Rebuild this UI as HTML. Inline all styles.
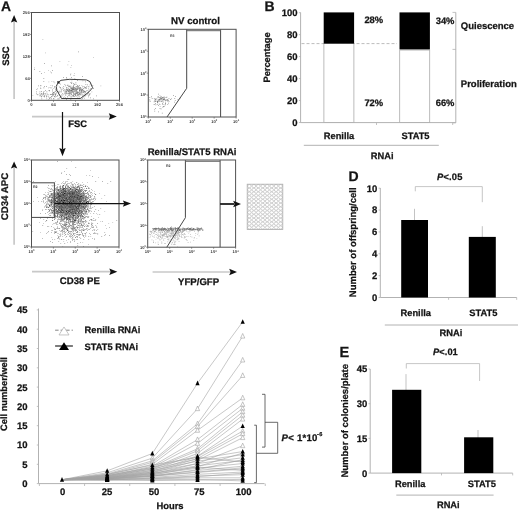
<!DOCTYPE html>
<html><head><meta charset="utf-8"><style>
html,body{margin:0;padding:0;background:#fff;width:520px;height:511px;overflow:hidden}
svg{display:block;filter:blur(0.4px)}
text{font-family:"Liberation Sans", sans-serif;text-rendering:geometricPrecision;stroke:#141414;stroke-width:0.25px}
.sm{stroke:none}
</style></head><body>
<svg width="520" height="511" viewBox="0 0 520 511">
<defs><filter id="bl" x="-5%" y="-5%" width="110%" height="110%"><feGaussianBlur stdDeviation="0.35"/></filter></defs>
<rect width="520" height="511" fill="#fff"/>
<text x="1.0" y="10.9" font-size="13.9" text-anchor="start" font-weight="bold" fill="#141414" stroke="#141414" stroke-width="0.35">A</text>
<g filter="url(#bl)">
<path d="M78 51.5h.7v.7h-.7zM44 63h.7v.7h-.7zM51 65.5h.7v.7h-.7zM34 69h.7v.7h-.7zM52 70h.7v.7h-.7zM39.5 71h.7v.7h-.7zM51 72.5h.7v.7h-.7zM41 73h.7v.7h-.7zM70 74.5h.7v.7h-.7zM82 76h.7v.7h-.7zM63 77h.7v.7h-.7zM66 77h.7v.7h-.7zM71 77h.7v.7h-.7zM43.5 78h.7v.7h-.7zM66.5 78.5h.7v.7h-.7zM74.5 78.5h.7v.7h-.7zM77 80h.7v.7h-.7zM43.5 81h.7v.7h-.7zM57 81h.7v.7h-.7zM53.5 81.5h.7v.7h-.7zM85 81.5h.7v.7h-.7zM70.5 82h.7v.7h-.7zM71.5 82.5h.7v.7h-.7zM75.5 82.5h.7v.7h-.7zM59.5 83h.7v.7h-.7zM71 83h.7v.7h-.7zM73 83.5h.7v.7h-.7zM64.5 84h.7v.7h-.7zM74 84h.7v.7h-.7zM85.5 84h.7v.7h-.7zM87 84.5h.7v.7h-.7zM40.5 85h.7v.7h-.7zM67 85h.7v.7h-.7zM73 85h.7v.7h-.7zM79 85h.7v.7h-.7zM92.5 85h.7v.7h-.7zM38 85.5h.7v.7h-.7zM52 85.5h.7v.7h-.7zM77.5 85.5h.7v.7h-.7zM44 86h.7v.7h-.7zM46 86h.7v.7h-.7zM54 86h.7v.7h-.7zM68.5 86h.7v.7h-.7zM69 86h.7v.7h-.7zM70.5 86h.7v.7h-.7zM73 86h.7v.7h-.7zM76.5 86h.7v.7h-.7zM77.5 86h.7v.7h-.7zM86.5 86h.7v.7h-.7zM73 86.5h.7v.7h-.7zM78 86.5h.7v.7h-.7zM82 86.5h.7v.7h-.7zM84 86.5h.7v.7h-.7zM88.5 86.5h.7v.7h-.7zM60 87h.7v.7h-.7zM73 87h.7v.7h-.7zM74.5 87h.7v.7h-.7zM80 87h.7v.7h-.7zM85 87h.7v.7h-.7zM43.5 87.5h.7v.7h-.7zM50.5 87.5h.7v.7h-.7zM66 87.5h.7v.7h-.7zM70 87.5h.7v.7h-.7zM70.5 87.5h.7v.7h-.7zM72.5 87.5h.7v.7h-.7zM73 87.5h.7v.7h-.7zM77 87.5h.7v.7h-.7zM77.5 87.5h.7v.7h-.7zM78.5 87.5h.7v.7h-.7zM79 87.5h.7v.7h-.7zM84 87.5h.7v.7h-.7zM85 87.5h.7v.7h-.7zM86 87.5h.7v.7h-.7zM40.5 88h.7v.7h-.7zM63 88h.7v.7h-.7zM71 88h.7v.7h-.7zM71.5 88h.7v.7h-.7zM73 88h.7v.7h-.7zM75 88h.7v.7h-.7zM79 88h.7v.7h-.7zM79.5 88h.7v.7h-.7zM83 88h.7v.7h-.7zM93 88h.7v.7h-.7zM60.5 88.5h.7v.7h-.7zM72 88.5h.7v.7h-.7zM73.5 88.5h.7v.7h-.7zM74.5 88.5h.7v.7h-.7zM75 88.5h.7v.7h-.7zM76 88.5h.7v.7h-.7zM76.5 88.5h.7v.7h-.7zM78 88.5h.7v.7h-.7zM88 88.5h.7v.7h-.7zM36.5 89h.7v.7h-.7zM66.5 89h.7v.7h-.7zM69 89h.7v.7h-.7zM72 89h.7v.7h-.7zM72.5 89h.7v.7h-.7zM73 89h.7v.7h-.7zM73.5 89h.7v.7h-.7zM75 89h.7v.7h-.7zM76.5 89h.7v.7h-.7zM77 89h.7v.7h-.7zM79 89h.7v.7h-.7zM80.5 89h.7v.7h-.7zM81.5 89h.7v.7h-.7zM82 89h.7v.7h-.7zM52 89.5h.7v.7h-.7zM61 89.5h.7v.7h-.7zM64 89.5h.7v.7h-.7zM66 89.5h.7v.7h-.7zM67 89.5h.7v.7h-.7zM69 89.5h.7v.7h-.7zM70.5 89.5h.7v.7h-.7zM73 89.5h.7v.7h-.7zM74.5 89.5h.7v.7h-.7zM82 89.5h.7v.7h-.7zM45 90h.7v.7h-.7zM49 90h.7v.7h-.7zM56 90h.7v.7h-.7zM67.5 90h.7v.7h-.7zM69.5 90h.7v.7h-.7zM70 90h.7v.7h-.7zM71 90h.7v.7h-.7zM71.5 90h.7v.7h-.7zM76 90h.7v.7h-.7zM79.5 90h.7v.7h-.7zM81.5 90h.7v.7h-.7zM83.5 90h.7v.7h-.7zM87.5 90h.7v.7h-.7zM49 90.5h.7v.7h-.7zM56 90.5h.7v.7h-.7zM63.5 90.5h.7v.7h-.7zM65 90.5h.7v.7h-.7zM66.5 90.5h.7v.7h-.7zM69.5 90.5h.7v.7h-.7zM71 90.5h.7v.7h-.7zM72.5 90.5h.7v.7h-.7zM75 90.5h.7v.7h-.7zM79 90.5h.7v.7h-.7zM79.5 90.5h.7v.7h-.7zM81 90.5h.7v.7h-.7zM82 90.5h.7v.7h-.7zM83.5 90.5h.7v.7h-.7zM86 90.5h.7v.7h-.7zM41 91h.7v.7h-.7zM55 91h.7v.7h-.7zM65.5 91h.7v.7h-.7zM66 91h.7v.7h-.7zM68.5 91h.7v.7h-.7zM69 91h.7v.7h-.7zM70 91h.7v.7h-.7zM72 91h.7v.7h-.7zM74.5 91h.7v.7h-.7zM76.5 91h.7v.7h-.7zM83.5 91h.7v.7h-.7zM36 91.5h.7v.7h-.7zM46.5 91.5h.7v.7h-.7zM58 91.5h.7v.7h-.7zM60.5 91.5h.7v.7h-.7zM66 91.5h.7v.7h-.7zM67.5 91.5h.7v.7h-.7zM68.5 91.5h.7v.7h-.7zM81 91.5h.7v.7h-.7zM84 91.5h.7v.7h-.7zM84.5 91.5h.7v.7h-.7zM85 91.5h.7v.7h-.7zM88 91.5h.7v.7h-.7zM43 92h.7v.7h-.7zM53 92h.7v.7h-.7zM58.5 92h.7v.7h-.7zM65.5 92h.7v.7h-.7zM66 92h.7v.7h-.7zM72.5 92h.7v.7h-.7zM76.5 92h.7v.7h-.7zM77.5 92h.7v.7h-.7zM78 92h.7v.7h-.7zM80.5 92h.7v.7h-.7zM83.5 92h.7v.7h-.7zM53.5 92.5h.7v.7h-.7zM56 92.5h.7v.7h-.7zM64.5 92.5h.7v.7h-.7zM70 92.5h.7v.7h-.7zM70.5 92.5h.7v.7h-.7zM77 92.5h.7v.7h-.7zM77.5 92.5h.7v.7h-.7zM85 92.5h.7v.7h-.7zM87.5 92.5h.7v.7h-.7zM41.5 93h.7v.7h-.7zM43 93h.7v.7h-.7zM45.5 93h.7v.7h-.7zM55.5 93h.7v.7h-.7zM64.5 93h.7v.7h-.7zM65 93h.7v.7h-.7zM66 93h.7v.7h-.7zM68.5 93h.7v.7h-.7zM69 93h.7v.7h-.7zM70 93h.7v.7h-.7zM75.5 93h.7v.7h-.7zM76.5 93h.7v.7h-.7zM77.5 93h.7v.7h-.7zM36 93.5h.7v.7h-.7zM41.5 93.5h.7v.7h-.7zM43 93.5h.7v.7h-.7zM44.5 93.5h.7v.7h-.7zM52 93.5h.7v.7h-.7zM67.5 93.5h.7v.7h-.7zM69 93.5h.7v.7h-.7zM71 93.5h.7v.7h-.7zM73 93.5h.7v.7h-.7zM74.5 93.5h.7v.7h-.7zM79 93.5h.7v.7h-.7zM87 93.5h.7v.7h-.7zM37.5 94h.7v.7h-.7zM43 94h.7v.7h-.7zM50 94h.7v.7h-.7zM51 94h.7v.7h-.7zM55 94h.7v.7h-.7zM55.5 94h.7v.7h-.7zM71 94h.7v.7h-.7zM73.5 94h.7v.7h-.7zM74 94h.7v.7h-.7zM75 94h.7v.7h-.7zM77.5 94h.7v.7h-.7zM78.5 94h.7v.7h-.7zM40.5 94.5h.7v.7h-.7zM42.5 94.5h.7v.7h-.7zM45.5 94.5h.7v.7h-.7zM52.5 94.5h.7v.7h-.7zM53 94.5h.7v.7h-.7zM53.5 94.5h.7v.7h-.7zM61.5 94.5h.7v.7h-.7zM65 94.5h.7v.7h-.7zM69.5 94.5h.7v.7h-.7zM75 94.5h.7v.7h-.7zM79 94.5h.7v.7h-.7zM80 94.5h.7v.7h-.7zM86.5 94.5h.7v.7h-.7zM89 94.5h.7v.7h-.7zM44 95h.7v.7h-.7zM55 95h.7v.7h-.7zM57 95h.7v.7h-.7zM68.5 95h.7v.7h-.7zM73 95h.7v.7h-.7zM73.5 95h.7v.7h-.7zM77 95h.7v.7h-.7zM84.5 95h.7v.7h-.7zM88.5 95h.7v.7h-.7zM39.5 95.5h.7v.7h-.7zM40 95.5h.7v.7h-.7zM52.5 95.5h.7v.7h-.7zM60.5 95.5h.7v.7h-.7zM72 95.5h.7v.7h-.7zM75 95.5h.7v.7h-.7zM78 95.5h.7v.7h-.7zM85 95.5h.7v.7h-.7zM96 95.5h.7v.7h-.7zM41 96h.7v.7h-.7zM44 96h.7v.7h-.7zM46.5 96h.7v.7h-.7zM51.5 96h.7v.7h-.7zM54 96h.7v.7h-.7zM56.5 96h.7v.7h-.7zM73 96h.7v.7h-.7zM74 96h.7v.7h-.7zM82 96h.7v.7h-.7zM41 96.5h.7v.7h-.7zM44 96.5h.7v.7h-.7zM48 96.5h.7v.7h-.7zM51 96.5h.7v.7h-.7zM54.5 96.5h.7v.7h-.7zM67 96.5h.7v.7h-.7zM70.5 96.5h.7v.7h-.7zM79 96.5h.7v.7h-.7zM88 96.5h.7v.7h-.7zM50 97h.7v.7h-.7zM60 97h.7v.7h-.7zM49 97.5h.7v.7h-.7zM59 97.5h.7v.7h-.7zM63 97.5h.7v.7h-.7zM65 97.5h.7v.7h-.7zM90 97.5h.7v.7h-.7zM49.5 98h.7v.7h-.7zM61.5 98h.7v.7h-.7zM64.5 98h.7v.7h-.7zM70 98h.7v.7h-.7zM72 98h.7v.7h-.7zM76 98h.7v.7h-.7zM82 98h.7v.7h-.7zM53.5 98.5h.7v.7h-.7zM57.5 98.5h.7v.7h-.7zM58.5 98.5h.7v.7h-.7zM93 98.5h.7v.7h-.7zM66 99h.7v.7h-.7zM70.5 99h.7v.7h-.7z" fill="#333" fill-opacity="0.7"/>
<path d="M42.5 39h.7v.7h-.7zM45 52.5h.7v.7h-.7zM93 57h.7v.7h-.7zM59.5 61h.7v.7h-.7zM68.5 61h.7v.7h-.7zM67.5 64.5h.7v.7h-.7zM71 65h.7v.7h-.7zM70.5 67h.7v.7h-.7zM34 67.5h.7v.7h-.7zM48 70h.7v.7h-.7zM50 71.5h.7v.7h-.7zM44 72h.7v.7h-.7zM74 73h.7v.7h-.7zM70.5 73.5h.7v.7h-.7zM73.5 75h.7v.7h-.7zM74 75h.7v.7h-.7zM69.5 79.5h.7v.7h-.7zM71.5 80.5h.7v.7h-.7zM82.5 80.5h.7v.7h-.7zM51.5 81h.7v.7h-.7zM48.5 81.5h.7v.7h-.7zM54.5 82.5h.7v.7h-.7zM73.5 83h.7v.7h-.7zM90.5 83.5h.7v.7h-.7zM60 84h.7v.7h-.7zM75 84h.7v.7h-.7zM76 84h.7v.7h-.7zM67.5 84.5h.7v.7h-.7zM74 84.5h.7v.7h-.7zM89.5 84.5h.7v.7h-.7zM50.5 85h.7v.7h-.7zM65.5 85h.7v.7h-.7zM68 85h.7v.7h-.7zM77 85h.7v.7h-.7zM81.5 85h.7v.7h-.7zM40.5 85.5h.7v.7h-.7zM57.5 85.5h.7v.7h-.7zM65 85.5h.7v.7h-.7zM69 85.5h.7v.7h-.7zM70.5 85.5h.7v.7h-.7zM77 85.5h.7v.7h-.7zM100.5 85.5h.7v.7h-.7zM59 86h.7v.7h-.7zM63 86h.7v.7h-.7zM75.5 86h.7v.7h-.7zM78.5 86h.7v.7h-.7zM83 86h.7v.7h-.7zM88.5 86h.7v.7h-.7zM63.5 86.5h.7v.7h-.7zM68 86.5h.7v.7h-.7zM69.5 86.5h.7v.7h-.7zM72 86.5h.7v.7h-.7zM76 86.5h.7v.7h-.7zM49.5 87h.7v.7h-.7zM54.5 87h.7v.7h-.7zM59 87h.7v.7h-.7zM66 87h.7v.7h-.7zM71 87h.7v.7h-.7zM71.5 87h.7v.7h-.7zM72.5 87h.7v.7h-.7zM79.5 87h.7v.7h-.7zM40 87.5h.7v.7h-.7zM48 87.5h.7v.7h-.7zM51.5 87.5h.7v.7h-.7zM54 87.5h.7v.7h-.7zM60 87.5h.7v.7h-.7zM62 87.5h.7v.7h-.7zM67 87.5h.7v.7h-.7zM73.5 87.5h.7v.7h-.7zM74 87.5h.7v.7h-.7zM74.5 87.5h.7v.7h-.7zM75.5 87.5h.7v.7h-.7zM76.5 87.5h.7v.7h-.7zM80.5 87.5h.7v.7h-.7zM37 88h.7v.7h-.7zM53 88h.7v.7h-.7zM55.5 88h.7v.7h-.7zM66.5 88h.7v.7h-.7zM68 88h.7v.7h-.7zM70.5 88h.7v.7h-.7zM72 88h.7v.7h-.7zM74.5 88h.7v.7h-.7zM77.5 88h.7v.7h-.7zM80 88h.7v.7h-.7zM80.5 88h.7v.7h-.7zM81.5 88h.7v.7h-.7zM85.5 88h.7v.7h-.7zM86 88h.7v.7h-.7zM90 88h.7v.7h-.7zM92.5 88h.7v.7h-.7zM68.5 88.5h.7v.7h-.7zM71.5 88.5h.7v.7h-.7zM72.5 88.5h.7v.7h-.7zM77 88.5h.7v.7h-.7zM77.5 88.5h.7v.7h-.7zM80.5 88.5h.7v.7h-.7zM55 89h.7v.7h-.7zM62.5 89h.7v.7h-.7zM65.5 89h.7v.7h-.7zM67 89h.7v.7h-.7zM68 89h.7v.7h-.7zM68.5 89h.7v.7h-.7zM69.5 89h.7v.7h-.7zM71 89h.7v.7h-.7zM71.5 89h.7v.7h-.7zM74 89h.7v.7h-.7zM76 89h.7v.7h-.7zM79.5 89h.7v.7h-.7zM82.5 89h.7v.7h-.7zM55.5 89.5h.7v.7h-.7zM66.5 89.5h.7v.7h-.7zM69.5 89.5h.7v.7h-.7zM72 89.5h.7v.7h-.7zM72.5 89.5h.7v.7h-.7zM73.5 89.5h.7v.7h-.7zM75.5 89.5h.7v.7h-.7zM76.5 89.5h.7v.7h-.7zM77 89.5h.7v.7h-.7zM80 89.5h.7v.7h-.7zM80.5 89.5h.7v.7h-.7zM81 89.5h.7v.7h-.7zM89 89.5h.7v.7h-.7zM48 90h.7v.7h-.7zM55.5 90h.7v.7h-.7zM63 90h.7v.7h-.7zM67 90h.7v.7h-.7zM68 90h.7v.7h-.7zM68.5 90h.7v.7h-.7zM70.5 90h.7v.7h-.7zM72.5 90h.7v.7h-.7zM74 90h.7v.7h-.7zM74.5 90h.7v.7h-.7zM75.5 90h.7v.7h-.7zM79 90h.7v.7h-.7zM80.5 90h.7v.7h-.7zM81 90h.7v.7h-.7zM52 90.5h.7v.7h-.7zM59.5 90.5h.7v.7h-.7zM61 90.5h.7v.7h-.7zM68 90.5h.7v.7h-.7zM68.5 90.5h.7v.7h-.7zM71.5 90.5h.7v.7h-.7zM76 90.5h.7v.7h-.7zM83 90.5h.7v.7h-.7zM43 91h.7v.7h-.7zM44 91h.7v.7h-.7zM52 91h.7v.7h-.7zM64.5 91h.7v.7h-.7zM71 91h.7v.7h-.7zM73 91h.7v.7h-.7zM73.5 91h.7v.7h-.7zM75.5 91h.7v.7h-.7zM77 91h.7v.7h-.7zM79.5 91h.7v.7h-.7zM81 91h.7v.7h-.7zM84 91h.7v.7h-.7zM84.5 91h.7v.7h-.7zM85 91h.7v.7h-.7zM39 91.5h.7v.7h-.7zM40.5 91.5h.7v.7h-.7zM54 91.5h.7v.7h-.7zM59 91.5h.7v.7h-.7zM59.5 91.5h.7v.7h-.7zM61 91.5h.7v.7h-.7zM68 91.5h.7v.7h-.7zM71 91.5h.7v.7h-.7zM72 91.5h.7v.7h-.7zM73 91.5h.7v.7h-.7zM74 91.5h.7v.7h-.7zM75.5 91.5h.7v.7h-.7zM76.5 91.5h.7v.7h-.7zM78.5 91.5h.7v.7h-.7zM79.5 91.5h.7v.7h-.7zM80.5 91.5h.7v.7h-.7zM82 91.5h.7v.7h-.7zM83 91.5h.7v.7h-.7zM91.5 91.5h.7v.7h-.7zM54 92h.7v.7h-.7zM69 92h.7v.7h-.7zM69.5 92h.7v.7h-.7zM71 92h.7v.7h-.7zM71.5 92h.7v.7h-.7zM73 92h.7v.7h-.7zM73.5 92h.7v.7h-.7zM78.5 92h.7v.7h-.7zM79.5 92h.7v.7h-.7zM81 92h.7v.7h-.7zM83 92h.7v.7h-.7zM52 92.5h.7v.7h-.7zM53 92.5h.7v.7h-.7zM54 92.5h.7v.7h-.7zM69 92.5h.7v.7h-.7zM71.5 92.5h.7v.7h-.7zM73 92.5h.7v.7h-.7zM75 92.5h.7v.7h-.7zM75.5 92.5h.7v.7h-.7zM76 92.5h.7v.7h-.7zM76.5 92.5h.7v.7h-.7zM79 92.5h.7v.7h-.7zM81.5 92.5h.7v.7h-.7zM82 92.5h.7v.7h-.7zM82.5 92.5h.7v.7h-.7zM39 93h.7v.7h-.7zM52.5 93h.7v.7h-.7zM62 93h.7v.7h-.7zM67.5 93h.7v.7h-.7zM68 93h.7v.7h-.7zM73 93h.7v.7h-.7zM74.5 93h.7v.7h-.7zM76 93h.7v.7h-.7zM79 93h.7v.7h-.7zM79.5 93h.7v.7h-.7zM80 93h.7v.7h-.7zM80.5 93h.7v.7h-.7zM81 93h.7v.7h-.7zM88.5 93h.7v.7h-.7zM89.5 93h.7v.7h-.7zM40.5 93.5h.7v.7h-.7zM41 93.5h.7v.7h-.7zM47 93.5h.7v.7h-.7zM53 93.5h.7v.7h-.7zM54.5 93.5h.7v.7h-.7zM58 93.5h.7v.7h-.7zM62.5 93.5h.7v.7h-.7zM66 93.5h.7v.7h-.7zM75.5 93.5h.7v.7h-.7zM76 93.5h.7v.7h-.7zM77.5 93.5h.7v.7h-.7zM78.5 93.5h.7v.7h-.7zM79.5 93.5h.7v.7h-.7zM84 93.5h.7v.7h-.7zM90 93.5h.7v.7h-.7zM47.5 94h.7v.7h-.7zM50.5 94h.7v.7h-.7zM52.5 94h.7v.7h-.7zM53.5 94h.7v.7h-.7zM63.5 94h.7v.7h-.7zM80 94h.7v.7h-.7zM82 94h.7v.7h-.7zM89 94h.7v.7h-.7zM37.5 94.5h.7v.7h-.7zM39.5 94.5h.7v.7h-.7zM41.5 94.5h.7v.7h-.7zM47.5 94.5h.7v.7h-.7zM48.5 94.5h.7v.7h-.7zM52 94.5h.7v.7h-.7zM59 94.5h.7v.7h-.7zM68.5 94.5h.7v.7h-.7zM70.5 94.5h.7v.7h-.7zM71.5 94.5h.7v.7h-.7zM77 94.5h.7v.7h-.7zM78 94.5h.7v.7h-.7zM81 94.5h.7v.7h-.7zM81.5 94.5h.7v.7h-.7zM83.5 94.5h.7v.7h-.7zM88.5 94.5h.7v.7h-.7zM32.5 95h.7v.7h-.7zM46 95h.7v.7h-.7zM65.5 95h.7v.7h-.7zM75 95h.7v.7h-.7zM82.5 95h.7v.7h-.7zM42.5 95.5h.7v.7h-.7zM57.5 95.5h.7v.7h-.7zM62.5 95.5h.7v.7h-.7zM69 95.5h.7v.7h-.7zM72.5 95.5h.7v.7h-.7zM76 95.5h.7v.7h-.7zM83.5 95.5h.7v.7h-.7zM43 96h.7v.7h-.7zM46 96h.7v.7h-.7zM61 96h.7v.7h-.7zM76 96h.7v.7h-.7zM84 96h.7v.7h-.7zM55 96.5h.7v.7h-.7zM64 96.5h.7v.7h-.7zM67.5 96.5h.7v.7h-.7zM71 96.5h.7v.7h-.7zM71.5 96.5h.7v.7h-.7zM77.5 96.5h.7v.7h-.7zM80.5 97h.7v.7h-.7zM83.5 97h.7v.7h-.7zM46 97.5h.7v.7h-.7zM77.5 97.5h.7v.7h-.7zM51 98h.7v.7h-.7zM53 98h.7v.7h-.7zM53.5 98h.7v.7h-.7zM80 98h.7v.7h-.7zM84 98h.7v.7h-.7zM41 98.5h.7v.7h-.7zM41.5 98.5h.7v.7h-.7zM46.5 98.5h.7v.7h-.7zM49 98.5h.7v.7h-.7zM51 98.5h.7v.7h-.7zM48 99h.7v.7h-.7zM81.5 99h.7v.7h-.7z" fill="#333" fill-opacity="0.42"/>
</g>
<rect x="31.5" y="12.5" width="88.0" height="87.8" fill="none" stroke="#505050" stroke-width="1.0" />
<line x1="29.9" y1="100.3" x2="31.5" y2="100.3" stroke="#555" stroke-width="0.6" />
<text x="29.7" y="101.7" font-size="4.1" text-anchor="end" font-weight="bold" fill="#3a3a3a" class="sm">0</text>
<line x1="29.9" y1="78.35" x2="31.5" y2="78.35" stroke="#555" stroke-width="0.6" />
<text x="29.7" y="79.75" font-size="4.1" text-anchor="end" font-weight="bold" fill="#3a3a3a" class="sm">64</text>
<line x1="29.9" y1="56.4" x2="31.5" y2="56.4" stroke="#555" stroke-width="0.6" />
<text x="29.7" y="57.8" font-size="4.1" text-anchor="end" font-weight="bold" fill="#3a3a3a" class="sm">128</text>
<line x1="29.9" y1="34.45" x2="31.5" y2="34.45" stroke="#555" stroke-width="0.6" />
<text x="29.7" y="35.85" font-size="4.1" text-anchor="end" font-weight="bold" fill="#3a3a3a" class="sm">192</text>
<line x1="29.9" y1="12.5" x2="31.5" y2="12.5" stroke="#555" stroke-width="0.6" />
<text x="29.7" y="13.9" font-size="4.1" text-anchor="end" font-weight="bold" fill="#3a3a3a" class="sm">256</text>
<line x1="31.5" y1="100.3" x2="31.5" y2="101.89999999999999" stroke="#555" stroke-width="0.6" />
<text x="31.5" y="105.89999999999999" font-size="4.1" text-anchor="middle" font-weight="bold" fill="#3a3a3a" class="sm">0</text>
<line x1="53.5" y1="100.3" x2="53.5" y2="101.89999999999999" stroke="#555" stroke-width="0.6" />
<text x="53.5" y="105.89999999999999" font-size="4.1" text-anchor="middle" font-weight="bold" fill="#3a3a3a" class="sm">64</text>
<line x1="75.5" y1="100.3" x2="75.5" y2="101.89999999999999" stroke="#555" stroke-width="0.6" />
<text x="75.5" y="105.89999999999999" font-size="4.1" text-anchor="middle" font-weight="bold" fill="#3a3a3a" class="sm">128</text>
<line x1="97.5" y1="100.3" x2="97.5" y2="101.89999999999999" stroke="#555" stroke-width="0.6" />
<text x="97.5" y="105.89999999999999" font-size="4.1" text-anchor="middle" font-weight="bold" fill="#3a3a3a" class="sm">192</text>
<line x1="119.5" y1="100.3" x2="119.5" y2="101.89999999999999" stroke="#555" stroke-width="0.6" />
<text x="119.5" y="105.89999999999999" font-size="4.1" text-anchor="middle" font-weight="bold" fill="#3a3a3a" class="sm">256</text>
<polygon points="58.30,82.30 61.00,80.30 69.70,79.30 86.50,79.90 89.90,81.60 92.60,87.70 89.20,91.70 80.50,98.50 61.60,98.50 56.90,90.40 56.20,86.30" fill="none" stroke="#404040" stroke-width="1.0" stroke-linejoin="miter"/>
<rect x="57.4" y="81.3" width="2.2" height="2.2" fill="#222" stroke="none" stroke-width="1" />
<line x1="14.1" y1="22" x2="14.1" y2="99" stroke="#c8c8c8" stroke-width="1.7" />
<polygon points="14.10,15.00 17.30,22.60 14.10,21.30 10.90,22.60" fill="#111" stroke="none" stroke-width="1" stroke-linejoin="miter"/>
<text x="0" y="0" font-size="9.4" text-anchor="middle" font-weight="bold" fill="#141414" transform="translate(8.7,56.2) rotate(-90)">SSC</text>
<line x1="32" y1="116.6" x2="111" y2="116.6" stroke="#c8c8c8" stroke-width="1.7" />
<polygon points="116.80,116.50 108.80,119.80 110.10,116.50 108.80,113.20" fill="#111" stroke="none" stroke-width="1" stroke-linejoin="miter"/>
<text x="68.2" y="127.3" font-size="9.4" text-anchor="start" font-weight="bold" fill="#141414" >FSC</text>
<line x1="62.5" y1="112" x2="62.5" y2="149" stroke="#111" stroke-width="1.2" />
<polygon points="62.50,156.30 59.30,148.00 62.50,149.30 65.70,148.00" fill="#111" stroke="none" stroke-width="1" stroke-linejoin="miter"/>
<text x="195.5" y="23.9" font-size="9.7" text-anchor="middle" font-weight="bold" fill="#141414" >NV control</text>
<g filter="url(#bl)">
<path d="M156.6 100.7h0.7v0.7h-0.7zM168.2 102.7h0.7v0.7h-0.7zM167.6 98.9h0.7v0.7h-0.7zM163.2 98.7h0.7v0.7h-0.7zM154.7 99.1h0.7v0.7h-0.7zM166.4 99.6h0.7v0.7h-0.7zM159.9 97.0h0.7v0.7h-0.7zM161.0 98.1h0.7v0.7h-0.7zM161.7 100.7h0.7v0.7h-0.7zM149.7 100.7h0.7v0.7h-0.7zM153.9 98.0h0.7v0.7h-0.7zM155.1 103.1h0.7v0.7h-0.7zM165.0 100.4h0.7v0.7h-0.7zM157.7 96.2h0.7v0.7h-0.7zM159.5 100.3h0.7v0.7h-0.7zM161.1 101.3h0.7v0.7h-0.7zM159.7 104.4h0.7v0.7h-0.7zM164.9 104.2h0.7v0.7h-0.7zM162.8 98.7h0.7v0.7h-0.7zM157.1 102.1h0.7v0.7h-0.7zM166.9 99.3h0.7v0.7h-0.7zM163.6 98.5h0.7v0.7h-0.7zM159.3 99.0h0.7v0.7h-0.7zM151.8 98.0h0.7v0.7h-0.7zM161.7 99.8h0.7v0.7h-0.7zM167.1 100.4h0.7v0.7h-0.7zM163.7 99.4h0.7v0.7h-0.7zM149.8 101.0h0.7v0.7h-0.7zM156.9 101.3h0.7v0.7h-0.7zM160.0 98.8h0.7v0.7h-0.7zM158.7 99.1h0.7v0.7h-0.7zM151.3 96.6h0.7v0.7h-0.7zM167.7 99.9h0.7v0.7h-0.7zM159.2 98.9h0.7v0.7h-0.7zM159.6 108.1h0.7v0.7h-0.7zM164.1 99.2h0.7v0.7h-0.7zM158.0 93.8h0.7v0.7h-0.7zM162.1 103.0h0.7v0.7h-0.7zM166.3 99.6h0.7v0.7h-0.7zM158.3 96.8h0.7v0.7h-0.7zM161.8 98.4h0.7v0.7h-0.7zM155.5 104.5h0.7v0.7h-0.7zM156.6 98.7h0.7v0.7h-0.7zM160.6 99.4h0.7v0.7h-0.7zM162.9 97.1h0.7v0.7h-0.7zM158.2 100.6h0.7v0.7h-0.7zM157.2 100.8h0.7v0.7h-0.7zM167.7 100.7h0.7v0.7h-0.7zM168.8 101.4h0.7v0.7h-0.7zM170.4 99.1h0.7v0.7h-0.7zM163.7 96.4h0.7v0.7h-0.7zM160.5 97.7h0.7v0.7h-0.7zM161.1 96.8h0.7v0.7h-0.7zM163.1 106.0h0.7v0.7h-0.7zM157.4 101.5h0.7v0.7h-0.7zM164.7 97.2h0.7v0.7h-0.7zM159.9 98.3h0.7v0.7h-0.7zM163.7 97.6h0.7v0.7h-0.7zM174.9 100.1h0.7v0.7h-0.7zM167.4 104.4h0.7v0.7h-0.7zM168.6 98.3h0.7v0.7h-0.7zM163.3 99.3h0.7v0.7h-0.7zM162.8 101.8h0.7v0.7h-0.7zM151.1 96.4h0.7v0.7h-0.7zM159.8 100.8h0.7v0.7h-0.7zM158.9 99.3h0.7v0.7h-0.7zM167.2 100.5h0.7v0.7h-0.7zM160.9 98.7h0.7v0.7h-0.7zM153.8 101.6h0.7v0.7h-0.7zM162.0 96.9h0.7v0.7h-0.7zM163.9 98.2h0.7v0.7h-0.7zM159.6 95.4h0.7v0.7h-0.7zM165.9 96.9h0.7v0.7h-0.7zM162.8 99.8h0.7v0.7h-0.7zM158.3 99.6h0.7v0.7h-0.7zM160.0 98.9h0.7v0.7h-0.7zM162.2 97.6h0.7v0.7h-0.7zM164.7 99.2h0.7v0.7h-0.7zM155.1 101.2h0.7v0.7h-0.7zM159.1 100.8h0.7v0.7h-0.7zM149.4 99.6h0.7v0.7h-0.7zM177.7 99.0h0.7v0.7h-0.7zM166.5 96.8h0.7v0.7h-0.7zM155.1 99.8h0.7v0.7h-0.7zM163.1 98.8h0.7v0.7h-0.7zM157.4 97.4h0.7v0.7h-0.7zM158.9 103.8h0.7v0.7h-0.7zM161.1 98.4h0.7v0.7h-0.7zM159.7 97.0h0.7v0.7h-0.7zM154.1 100.6h0.7v0.7h-0.7zM168.2 99.9h0.7v0.7h-0.7zM154.0 104.2h0.7v0.7h-0.7zM162.6 104.2h0.7v0.7h-0.7zM160.6 96.0h0.7v0.7h-0.7zM162.5 98.9h0.7v0.7h-0.7zM155.6 98.2h0.7v0.7h-0.7zM159.2 97.4h0.7v0.7h-0.7zM164.6 99.8h0.7v0.7h-0.7zM158.9 98.8h0.7v0.7h-0.7zM166.0 99.9h0.7v0.7h-0.7zM155.2 100.9h0.7v0.7h-0.7zM170.4 99.2h0.7v0.7h-0.7zM156.9 104.0h0.7v0.7h-0.7zM174.4 98.3h0.7v0.7h-0.7zM149.5 97.1h0.7v0.7h-0.7zM171.3 97.9h0.7v0.7h-0.7zM165.3 100.5h0.7v0.7h-0.7zM162.6 103.9h0.7v0.7h-0.7zM163.8 106.3h0.7v0.7h-0.7zM164.7 104.6h0.7v0.7h-0.7zM179.7 97.8h0.7v0.7h-0.7zM154.0 108.9h0.7v0.7h-0.7zM153.7 104.2h0.7v0.7h-0.7zM155.2 108.2h0.7v0.7h-0.7zM162.5 106.8h0.7v0.7h-0.7zM157.4 102.6h0.7v0.7h-0.7zM165.2 103.3h0.7v0.7h-0.7zM162.7 101.4h0.7v0.7h-0.7zM161.9 112.8h0.7v0.7h-0.7zM158.1 100.8h0.7v0.7h-0.7zM167.2 104.4h0.7v0.7h-0.7zM158.1 111.5h0.7v0.7h-0.7zM174.2 101.7h0.7v0.7h-0.7zM175.2 96.3h0.7v0.7h-0.7zM173.2 95.1h0.7v0.7h-0.7zM165.1 102.5h0.7v0.7h-0.7zM159.8 106.4h0.7v0.7h-0.7zM155.5 99.5h0.7v0.7h-0.7zM154.4 110.8h0.7v0.7h-0.7zM158.1 105.0h0.7v0.7h-0.7zM160.7 108.5h0.7v0.7h-0.7zM155.0 98.9h0.7v0.7h-0.7z" fill="#333" fill-opacity="0.7"/>
</g>
<rect x="148.3" y="29.3" width="87.79999999999998" height="87.7" fill="none" stroke="#505050" stroke-width="1.0" />
<line x1="146.70000000000002" y1="117.0" x2="148.3" y2="117.0" stroke="#555" stroke-width="0.6" />
<text x="146.5" y="118.4" font-size="4.1" text-anchor="end" font-weight="bold" fill="#3a3a3a" class="sm">10<tspan font-size="2.6" dy="-1.3">0</tspan></text>
<line x1="146.70000000000002" y1="95.075" x2="148.3" y2="95.075" stroke="#555" stroke-width="0.6" />
<text x="146.5" y="96.47500000000001" font-size="4.1" text-anchor="end" font-weight="bold" fill="#3a3a3a" class="sm">10<tspan font-size="2.6" dy="-1.3">1</tspan></text>
<line x1="146.70000000000002" y1="73.15" x2="148.3" y2="73.15" stroke="#555" stroke-width="0.6" />
<text x="146.5" y="74.55000000000001" font-size="4.1" text-anchor="end" font-weight="bold" fill="#3a3a3a" class="sm">10<tspan font-size="2.6" dy="-1.3">2</tspan></text>
<line x1="146.70000000000002" y1="51.224999999999994" x2="148.3" y2="51.224999999999994" stroke="#555" stroke-width="0.6" />
<text x="146.5" y="52.62499999999999" font-size="4.1" text-anchor="end" font-weight="bold" fill="#3a3a3a" class="sm">10<tspan font-size="2.6" dy="-1.3">3</tspan></text>
<line x1="146.70000000000002" y1="29.299999999999997" x2="148.3" y2="29.299999999999997" stroke="#555" stroke-width="0.6" />
<text x="146.5" y="30.699999999999996" font-size="4.1" text-anchor="end" font-weight="bold" fill="#3a3a3a" class="sm">10<tspan font-size="2.6" dy="-1.3">4</tspan></text>
<line x1="148.3" y1="117" x2="148.3" y2="118.6" stroke="#555" stroke-width="0.6" />
<text x="148.3" y="122.6" font-size="4.1" text-anchor="middle" font-weight="bold" fill="#3a3a3a" class="sm">10<tspan font-size="2.6" dy="-1.3">0</tspan></text>
<line x1="170.25" y1="117" x2="170.25" y2="118.6" stroke="#555" stroke-width="0.6" />
<text x="170.25" y="122.6" font-size="4.1" text-anchor="middle" font-weight="bold" fill="#3a3a3a" class="sm">10<tspan font-size="2.6" dy="-1.3">1</tspan></text>
<line x1="192.2" y1="117" x2="192.2" y2="118.6" stroke="#555" stroke-width="0.6" />
<text x="192.2" y="122.6" font-size="4.1" text-anchor="middle" font-weight="bold" fill="#3a3a3a" class="sm">10<tspan font-size="2.6" dy="-1.3">2</tspan></text>
<line x1="214.15" y1="117" x2="214.15" y2="118.6" stroke="#555" stroke-width="0.6" />
<text x="214.15" y="122.6" font-size="4.1" text-anchor="middle" font-weight="bold" fill="#3a3a3a" class="sm">10<tspan font-size="2.6" dy="-1.3">3</tspan></text>
<line x1="236.1" y1="117" x2="236.1" y2="118.6" stroke="#555" stroke-width="0.6" />
<text x="236.1" y="122.6" font-size="4.1" text-anchor="middle" font-weight="bold" fill="#3a3a3a" class="sm">10<tspan font-size="2.6" dy="-1.3">4</tspan></text>
<polyline points="186.70,29.50 186.70,88.30 167.00,117.00" fill="none" stroke="#484848" stroke-width="1.0" stroke-linejoin="miter"/>
<line x1="220.6" y1="29.5" x2="220.6" y2="117" stroke="#484848" stroke-width="1.0" />
<line x1="186.7" y1="30.7" x2="220.6" y2="30.7" stroke="#666" stroke-width="1.0" />
<text x="170" y="37" font-size="3.6" text-anchor="start" font-weight="bold" fill="#444" class="sm">R3</text>
<g filter="url(#bl)">
<path d="M57 161h.6v.6h-.6zM75.5 167h.6v.6h-.6zM61 173.5h.6v.6h-.6zM66 174.5h.6v.6h-.6zM70 175.5h.6v.6h-.6zM92 176h.6v.6h-.6zM68.5 179.5h.6v.6h-.6zM110.5 181h.6v.6h-.6zM33 181.5h.6v.6h-.6zM95.5 181.5h.6v.6h-.6zM102 181.5h.6v.6h-.6zM65 182h.6v.6h-.6zM67.5 183h.6v.6h-.6zM78.5 183h.6v.6h-.6zM83.5 184h.6v.6h-.6zM66 184.5h.6v.6h-.6zM72.5 184.5h.6v.6h-.6zM77 184.5h.6v.6h-.6zM48 185h.6v.6h-.6zM66 185h.6v.6h-.6zM81.5 185h.6v.6h-.6zM85.5 185h.6v.6h-.6zM72 185.5h.6v.6h-.6zM57 186h.6v.6h-.6zM62 186h.6v.6h-.6zM77.5 186h.6v.6h-.6zM78.5 186h.6v.6h-.6zM83.5 186h.6v.6h-.6zM60 186.5h.6v.6h-.6zM62 186.5h.6v.6h-.6zM67.5 186.5h.6v.6h-.6zM78 186.5h.6v.6h-.6zM85 186.5h.6v.6h-.6zM85.5 186.5h.6v.6h-.6zM87 186.5h.6v.6h-.6zM56 187h.6v.6h-.6zM57.5 187h.6v.6h-.6zM63 187h.6v.6h-.6zM68.5 187h.6v.6h-.6zM69 187h.6v.6h-.6zM77.5 187h.6v.6h-.6zM79 187h.6v.6h-.6zM81.5 187h.6v.6h-.6zM59.5 187.5h.6v.6h-.6zM60 187.5h.6v.6h-.6zM62 187.5h.6v.6h-.6zM65.5 187.5h.6v.6h-.6zM67 187.5h.6v.6h-.6zM69 187.5h.6v.6h-.6zM72.5 187.5h.6v.6h-.6zM74 187.5h.6v.6h-.6zM76.5 187.5h.6v.6h-.6zM77 187.5h.6v.6h-.6zM88.5 187.5h.6v.6h-.6zM51 188h.6v.6h-.6zM60 188h.6v.6h-.6zM61.5 188h.6v.6h-.6zM62 188h.6v.6h-.6zM63.5 188h.6v.6h-.6zM64 188h.6v.6h-.6zM69.5 188h.6v.6h-.6zM70.5 188h.6v.6h-.6zM75 188h.6v.6h-.6zM76 188h.6v.6h-.6zM79 188h.6v.6h-.6zM56.5 188.5h.6v.6h-.6zM60.5 188.5h.6v.6h-.6zM63 188.5h.6v.6h-.6zM63.5 188.5h.6v.6h-.6zM65.5 188.5h.6v.6h-.6zM67.5 188.5h.6v.6h-.6zM68 188.5h.6v.6h-.6zM70 188.5h.6v.6h-.6zM70.5 188.5h.6v.6h-.6zM71 188.5h.6v.6h-.6zM73 188.5h.6v.6h-.6zM86 188.5h.6v.6h-.6zM88.5 188.5h.6v.6h-.6zM56.5 189h.6v.6h-.6zM58 189h.6v.6h-.6zM60 189h.6v.6h-.6zM62 189h.6v.6h-.6zM63 189h.6v.6h-.6zM65 189h.6v.6h-.6zM66.5 189h.6v.6h-.6zM68.5 189h.6v.6h-.6zM70.5 189h.6v.6h-.6zM76 189h.6v.6h-.6zM76.5 189h.6v.6h-.6zM77.5 189h.6v.6h-.6zM79.5 189h.6v.6h-.6zM80.5 189h.6v.6h-.6zM82.5 189h.6v.6h-.6zM50.5 189.5h.6v.6h-.6zM52.5 189.5h.6v.6h-.6zM54.5 189.5h.6v.6h-.6zM58.5 189.5h.6v.6h-.6zM59 189.5h.6v.6h-.6zM62 189.5h.6v.6h-.6zM63 189.5h.6v.6h-.6zM63.5 189.5h.6v.6h-.6zM65.5 189.5h.6v.6h-.6zM70 189.5h.6v.6h-.6zM72 189.5h.6v.6h-.6zM73.5 189.5h.6v.6h-.6zM75 189.5h.6v.6h-.6zM76.5 189.5h.6v.6h-.6zM77 189.5h.6v.6h-.6zM79.5 189.5h.6v.6h-.6zM81 189.5h.6v.6h-.6zM57.5 190h.6v.6h-.6zM59 190h.6v.6h-.6zM60.5 190h.6v.6h-.6zM66.5 190h.6v.6h-.6zM67 190h.6v.6h-.6zM69 190h.6v.6h-.6zM72.5 190h.6v.6h-.6zM73 190h.6v.6h-.6zM75 190h.6v.6h-.6zM78 190h.6v.6h-.6zM80 190h.6v.6h-.6zM58 190.5h.6v.6h-.6zM58.5 190.5h.6v.6h-.6zM60 190.5h.6v.6h-.6zM61.5 190.5h.6v.6h-.6zM64 190.5h.6v.6h-.6zM64.5 190.5h.6v.6h-.6zM65 190.5h.6v.6h-.6zM69 190.5h.6v.6h-.6zM71.5 190.5h.6v.6h-.6zM74.5 190.5h.6v.6h-.6zM75 190.5h.6v.6h-.6zM75.5 190.5h.6v.6h-.6zM77 190.5h.6v.6h-.6zM78.5 190.5h.6v.6h-.6zM79 190.5h.6v.6h-.6zM80.5 190.5h.6v.6h-.6zM84 190.5h.6v.6h-.6zM85 190.5h.6v.6h-.6zM86.5 190.5h.6v.6h-.6zM89 190.5h.6v.6h-.6zM62 191h.6v.6h-.6zM63.5 191h.6v.6h-.6zM65 191h.6v.6h-.6zM70.5 191h.6v.6h-.6zM74 191h.6v.6h-.6zM76.5 191h.6v.6h-.6zM78.5 191h.6v.6h-.6zM80.5 191h.6v.6h-.6zM49.5 191.5h.6v.6h-.6zM50.5 191.5h.6v.6h-.6zM58 191.5h.6v.6h-.6zM60 191.5h.6v.6h-.6zM64 191.5h.6v.6h-.6zM64.5 191.5h.6v.6h-.6zM65 191.5h.6v.6h-.6zM65.5 191.5h.6v.6h-.6zM66 191.5h.6v.6h-.6zM66.5 191.5h.6v.6h-.6zM68 191.5h.6v.6h-.6zM69.5 191.5h.6v.6h-.6zM70.5 191.5h.6v.6h-.6zM71 191.5h.6v.6h-.6zM72.5 191.5h.6v.6h-.6zM73 191.5h.6v.6h-.6zM75 191.5h.6v.6h-.6zM76 191.5h.6v.6h-.6zM78 191.5h.6v.6h-.6zM79.5 191.5h.6v.6h-.6zM81.5 191.5h.6v.6h-.6zM83 191.5h.6v.6h-.6zM57 192h.6v.6h-.6zM57.5 192h.6v.6h-.6zM61.5 192h.6v.6h-.6zM63.5 192h.6v.6h-.6zM69.5 192h.6v.6h-.6zM74 192h.6v.6h-.6zM74.5 192h.6v.6h-.6zM77.5 192h.6v.6h-.6zM79 192h.6v.6h-.6zM80.5 192h.6v.6h-.6zM91 192h.6v.6h-.6zM58 192.5h.6v.6h-.6zM59 192.5h.6v.6h-.6zM61 192.5h.6v.6h-.6zM61.5 192.5h.6v.6h-.6zM63.5 192.5h.6v.6h-.6zM64.5 192.5h.6v.6h-.6zM65 192.5h.6v.6h-.6zM66.5 192.5h.6v.6h-.6zM67 192.5h.6v.6h-.6zM67.5 192.5h.6v.6h-.6zM69 192.5h.6v.6h-.6zM70.5 192.5h.6v.6h-.6zM71 192.5h.6v.6h-.6zM72.5 192.5h.6v.6h-.6zM73 192.5h.6v.6h-.6zM73.5 192.5h.6v.6h-.6zM75.5 192.5h.6v.6h-.6zM76.5 192.5h.6v.6h-.6zM83 192.5h.6v.6h-.6zM90.5 192.5h.6v.6h-.6zM51.5 193h.6v.6h-.6zM57 193h.6v.6h-.6zM58.5 193h.6v.6h-.6zM60 193h.6v.6h-.6zM60.5 193h.6v.6h-.6zM62 193h.6v.6h-.6zM64 193h.6v.6h-.6zM64.5 193h.6v.6h-.6zM66 193h.6v.6h-.6zM67.5 193h.6v.6h-.6zM69.5 193h.6v.6h-.6zM70.5 193h.6v.6h-.6zM71 193h.6v.6h-.6zM71.5 193h.6v.6h-.6zM72.5 193h.6v.6h-.6zM76.5 193h.6v.6h-.6zM77 193h.6v.6h-.6zM78 193h.6v.6h-.6zM80.5 193h.6v.6h-.6zM81 193h.6v.6h-.6zM51 193.5h.6v.6h-.6zM54.5 193.5h.6v.6h-.6zM55.5 193.5h.6v.6h-.6zM57.5 193.5h.6v.6h-.6zM58 193.5h.6v.6h-.6zM64 193.5h.6v.6h-.6zM64.5 193.5h.6v.6h-.6zM67.5 193.5h.6v.6h-.6zM68 193.5h.6v.6h-.6zM68.5 193.5h.6v.6h-.6zM69 193.5h.6v.6h-.6zM69.5 193.5h.6v.6h-.6zM72 193.5h.6v.6h-.6zM72.5 193.5h.6v.6h-.6zM76 193.5h.6v.6h-.6zM77.5 193.5h.6v.6h-.6zM78 193.5h.6v.6h-.6zM79 193.5h.6v.6h-.6zM81.5 193.5h.6v.6h-.6zM85.5 193.5h.6v.6h-.6zM86 193.5h.6v.6h-.6zM88 193.5h.6v.6h-.6zM48 194h.6v.6h-.6zM53 194h.6v.6h-.6zM54 194h.6v.6h-.6zM55 194h.6v.6h-.6zM56.5 194h.6v.6h-.6zM57 194h.6v.6h-.6zM58 194h.6v.6h-.6zM62 194h.6v.6h-.6zM63 194h.6v.6h-.6zM68 194h.6v.6h-.6zM69 194h.6v.6h-.6zM70.5 194h.6v.6h-.6zM71 194h.6v.6h-.6zM72.5 194h.6v.6h-.6zM74 194h.6v.6h-.6zM74.5 194h.6v.6h-.6zM75.5 194h.6v.6h-.6zM76 194h.6v.6h-.6zM95 194h.6v.6h-.6zM44.5 194.5h.6v.6h-.6zM51.5 194.5h.6v.6h-.6zM54.5 194.5h.6v.6h-.6zM56.5 194.5h.6v.6h-.6zM57.5 194.5h.6v.6h-.6zM59 194.5h.6v.6h-.6zM59.5 194.5h.6v.6h-.6zM60.5 194.5h.6v.6h-.6zM61 194.5h.6v.6h-.6zM62 194.5h.6v.6h-.6zM63 194.5h.6v.6h-.6zM63.5 194.5h.6v.6h-.6zM66.5 194.5h.6v.6h-.6zM69.5 194.5h.6v.6h-.6zM72 194.5h.6v.6h-.6zM73 194.5h.6v.6h-.6zM73.5 194.5h.6v.6h-.6zM76.5 194.5h.6v.6h-.6zM77 194.5h.6v.6h-.6zM77.5 194.5h.6v.6h-.6zM78.5 194.5h.6v.6h-.6zM79 194.5h.6v.6h-.6zM81 194.5h.6v.6h-.6zM83 194.5h.6v.6h-.6zM95.5 194.5h.6v.6h-.6zM52.5 195h.6v.6h-.6zM55.5 195h.6v.6h-.6zM59 195h.6v.6h-.6zM60.5 195h.6v.6h-.6zM62 195h.6v.6h-.6zM63.5 195h.6v.6h-.6zM64 195h.6v.6h-.6zM65.5 195h.6v.6h-.6zM66.5 195h.6v.6h-.6zM69 195h.6v.6h-.6zM70 195h.6v.6h-.6zM71.5 195h.6v.6h-.6zM72 195h.6v.6h-.6zM73.5 195h.6v.6h-.6zM77 195h.6v.6h-.6zM78.5 195h.6v.6h-.6zM79 195h.6v.6h-.6zM81.5 195h.6v.6h-.6zM82.5 195h.6v.6h-.6zM50.5 195.5h.6v.6h-.6zM53 195.5h.6v.6h-.6zM54 195.5h.6v.6h-.6zM57 195.5h.6v.6h-.6zM58 195.5h.6v.6h-.6zM58.5 195.5h.6v.6h-.6zM59 195.5h.6v.6h-.6zM59.5 195.5h.6v.6h-.6zM60 195.5h.6v.6h-.6zM61 195.5h.6v.6h-.6zM63 195.5h.6v.6h-.6zM63.5 195.5h.6v.6h-.6zM65.5 195.5h.6v.6h-.6zM67 195.5h.6v.6h-.6zM67.5 195.5h.6v.6h-.6zM71.5 195.5h.6v.6h-.6zM74.5 195.5h.6v.6h-.6zM75 195.5h.6v.6h-.6zM77 195.5h.6v.6h-.6zM78 195.5h.6v.6h-.6zM78.5 195.5h.6v.6h-.6zM82 195.5h.6v.6h-.6zM83.5 195.5h.6v.6h-.6zM86 195.5h.6v.6h-.6zM89.5 195.5h.6v.6h-.6zM90 195.5h.6v.6h-.6zM46.5 196h.6v.6h-.6zM53 196h.6v.6h-.6zM59.5 196h.6v.6h-.6zM60 196h.6v.6h-.6zM60.5 196h.6v.6h-.6zM61.5 196h.6v.6h-.6zM64 196h.6v.6h-.6zM65 196h.6v.6h-.6zM67.5 196h.6v.6h-.6zM68 196h.6v.6h-.6zM69 196h.6v.6h-.6zM70 196h.6v.6h-.6zM70.5 196h.6v.6h-.6zM71 196h.6v.6h-.6zM72 196h.6v.6h-.6zM73.5 196h.6v.6h-.6zM74.5 196h.6v.6h-.6zM75 196h.6v.6h-.6zM78.5 196h.6v.6h-.6zM81 196h.6v.6h-.6zM49 196.5h.6v.6h-.6zM50 196.5h.6v.6h-.6zM55 196.5h.6v.6h-.6zM56 196.5h.6v.6h-.6zM58 196.5h.6v.6h-.6zM59 196.5h.6v.6h-.6zM59.5 196.5h.6v.6h-.6zM60.5 196.5h.6v.6h-.6zM63.5 196.5h.6v.6h-.6zM64 196.5h.6v.6h-.6zM70 196.5h.6v.6h-.6zM71.5 196.5h.6v.6h-.6zM73 196.5h.6v.6h-.6zM74 196.5h.6v.6h-.6zM74.5 196.5h.6v.6h-.6zM77.5 196.5h.6v.6h-.6zM78.5 196.5h.6v.6h-.6zM79.5 196.5h.6v.6h-.6zM81 196.5h.6v.6h-.6zM81.5 196.5h.6v.6h-.6zM85.5 196.5h.6v.6h-.6zM86 196.5h.6v.6h-.6zM43.5 197h.6v.6h-.6zM50.5 197h.6v.6h-.6zM52 197h.6v.6h-.6zM52.5 197h.6v.6h-.6zM53 197h.6v.6h-.6zM58.5 197h.6v.6h-.6zM61.5 197h.6v.6h-.6zM63.5 197h.6v.6h-.6zM65 197h.6v.6h-.6zM66 197h.6v.6h-.6zM69 197h.6v.6h-.6zM69.5 197h.6v.6h-.6zM70.5 197h.6v.6h-.6zM72 197h.6v.6h-.6zM72.5 197h.6v.6h-.6zM74 197h.6v.6h-.6zM75.5 197h.6v.6h-.6zM79 197h.6v.6h-.6zM82.5 197h.6v.6h-.6zM83.5 197h.6v.6h-.6zM84 197h.6v.6h-.6zM85.5 197h.6v.6h-.6zM86 197h.6v.6h-.6zM88.5 197h.6v.6h-.6zM90 197h.6v.6h-.6zM48 197.5h.6v.6h-.6zM49 197.5h.6v.6h-.6zM54.5 197.5h.6v.6h-.6zM57 197.5h.6v.6h-.6zM57.5 197.5h.6v.6h-.6zM58.5 197.5h.6v.6h-.6zM61.5 197.5h.6v.6h-.6zM62 197.5h.6v.6h-.6zM62.5 197.5h.6v.6h-.6zM63 197.5h.6v.6h-.6zM64.5 197.5h.6v.6h-.6zM66.5 197.5h.6v.6h-.6zM68.5 197.5h.6v.6h-.6zM69.5 197.5h.6v.6h-.6zM71 197.5h.6v.6h-.6zM74 197.5h.6v.6h-.6zM75 197.5h.6v.6h-.6zM76.5 197.5h.6v.6h-.6zM79 197.5h.6v.6h-.6zM82 197.5h.6v.6h-.6zM86 197.5h.6v.6h-.6zM43 198h.6v.6h-.6zM45.5 198h.6v.6h-.6zM54 198h.6v.6h-.6zM55.5 198h.6v.6h-.6zM58 198h.6v.6h-.6zM59.5 198h.6v.6h-.6zM64 198h.6v.6h-.6zM65.5 198h.6v.6h-.6zM66.5 198h.6v.6h-.6zM68 198h.6v.6h-.6zM69.5 198h.6v.6h-.6zM72.5 198h.6v.6h-.6zM75.5 198h.6v.6h-.6zM76.5 198h.6v.6h-.6zM77 198h.6v.6h-.6zM79 198h.6v.6h-.6zM80.5 198h.6v.6h-.6zM84 198h.6v.6h-.6zM87 198h.6v.6h-.6zM48.5 198.5h.6v.6h-.6zM52.5 198.5h.6v.6h-.6zM53 198.5h.6v.6h-.6zM56.5 198.5h.6v.6h-.6zM57 198.5h.6v.6h-.6zM59 198.5h.6v.6h-.6zM60.5 198.5h.6v.6h-.6zM62.5 198.5h.6v.6h-.6zM63.5 198.5h.6v.6h-.6zM65 198.5h.6v.6h-.6zM66 198.5h.6v.6h-.6zM66.5 198.5h.6v.6h-.6zM70.5 198.5h.6v.6h-.6zM71 198.5h.6v.6h-.6zM72 198.5h.6v.6h-.6zM73 198.5h.6v.6h-.6zM73.5 198.5h.6v.6h-.6zM77 198.5h.6v.6h-.6zM78.5 198.5h.6v.6h-.6zM80.5 198.5h.6v.6h-.6zM82.5 198.5h.6v.6h-.6zM83.5 198.5h.6v.6h-.6zM85 198.5h.6v.6h-.6zM85.5 198.5h.6v.6h-.6zM88 198.5h.6v.6h-.6zM93 198.5h.6v.6h-.6zM49 199h.6v.6h-.6zM51.5 199h.6v.6h-.6zM53 199h.6v.6h-.6zM54 199h.6v.6h-.6zM57 199h.6v.6h-.6zM57.5 199h.6v.6h-.6zM58 199h.6v.6h-.6zM58.5 199h.6v.6h-.6zM61.5 199h.6v.6h-.6zM62 199h.6v.6h-.6zM62.5 199h.6v.6h-.6zM66.5 199h.6v.6h-.6zM67.5 199h.6v.6h-.6zM68 199h.6v.6h-.6zM69 199h.6v.6h-.6zM69.5 199h.6v.6h-.6zM71 199h.6v.6h-.6zM73 199h.6v.6h-.6zM75 199h.6v.6h-.6zM77 199h.6v.6h-.6zM77.5 199h.6v.6h-.6zM78.5 199h.6v.6h-.6zM79 199h.6v.6h-.6zM80.5 199h.6v.6h-.6zM83.5 199h.6v.6h-.6zM85.5 199h.6v.6h-.6zM86.5 199h.6v.6h-.6zM91.5 199h.6v.6h-.6zM95 199h.6v.6h-.6zM55.5 199.5h.6v.6h-.6zM58.5 199.5h.6v.6h-.6zM59 199.5h.6v.6h-.6zM60 199.5h.6v.6h-.6zM65 199.5h.6v.6h-.6zM67 199.5h.6v.6h-.6zM78 199.5h.6v.6h-.6zM79 199.5h.6v.6h-.6zM80.5 199.5h.6v.6h-.6zM87 199.5h.6v.6h-.6zM89 199.5h.6v.6h-.6zM90.5 199.5h.6v.6h-.6zM50.5 200h.6v.6h-.6zM53.5 200h.6v.6h-.6zM55 200h.6v.6h-.6zM55.5 200h.6v.6h-.6zM56 200h.6v.6h-.6zM57 200h.6v.6h-.6zM57.5 200h.6v.6h-.6zM58.5 200h.6v.6h-.6zM59 200h.6v.6h-.6zM61 200h.6v.6h-.6zM61.5 200h.6v.6h-.6zM62.5 200h.6v.6h-.6zM63 200h.6v.6h-.6zM64 200h.6v.6h-.6zM64.5 200h.6v.6h-.6zM65 200h.6v.6h-.6zM66 200h.6v.6h-.6zM67 200h.6v.6h-.6zM67.5 200h.6v.6h-.6zM71 200h.6v.6h-.6zM72.5 200h.6v.6h-.6zM73 200h.6v.6h-.6zM75.5 200h.6v.6h-.6zM76.5 200h.6v.6h-.6zM80 200h.6v.6h-.6zM80.5 200h.6v.6h-.6zM84 200h.6v.6h-.6zM89 200h.6v.6h-.6zM49.5 200.5h.6v.6h-.6zM52.5 200.5h.6v.6h-.6zM54.5 200.5h.6v.6h-.6zM55 200.5h.6v.6h-.6zM61 200.5h.6v.6h-.6zM61.5 200.5h.6v.6h-.6zM63 200.5h.6v.6h-.6zM63.5 200.5h.6v.6h-.6zM64 200.5h.6v.6h-.6zM64.5 200.5h.6v.6h-.6zM66.5 200.5h.6v.6h-.6zM68.5 200.5h.6v.6h-.6zM69 200.5h.6v.6h-.6zM73 200.5h.6v.6h-.6zM73.5 200.5h.6v.6h-.6zM75 200.5h.6v.6h-.6zM76.5 200.5h.6v.6h-.6zM78 200.5h.6v.6h-.6zM79.5 200.5h.6v.6h-.6zM82.5 200.5h.6v.6h-.6zM85 200.5h.6v.6h-.6zM90.5 200.5h.6v.6h-.6zM54.5 201h.6v.6h-.6zM56.5 201h.6v.6h-.6zM57 201h.6v.6h-.6zM57.5 201h.6v.6h-.6zM60 201h.6v.6h-.6zM62 201h.6v.6h-.6zM63.5 201h.6v.6h-.6zM64.5 201h.6v.6h-.6zM67.5 201h.6v.6h-.6zM68.5 201h.6v.6h-.6zM69 201h.6v.6h-.6zM70 201h.6v.6h-.6zM70.5 201h.6v.6h-.6zM72 201h.6v.6h-.6zM73 201h.6v.6h-.6zM74 201h.6v.6h-.6zM75 201h.6v.6h-.6zM77.5 201h.6v.6h-.6zM79.5 201h.6v.6h-.6zM80.5 201h.6v.6h-.6zM86 201h.6v.6h-.6zM87 201h.6v.6h-.6zM88 201h.6v.6h-.6zM88.5 201h.6v.6h-.6zM41.5 201.5h.6v.6h-.6zM43 201.5h.6v.6h-.6zM51.5 201.5h.6v.6h-.6zM53 201.5h.6v.6h-.6zM55 201.5h.6v.6h-.6zM56 201.5h.6v.6h-.6zM56.5 201.5h.6v.6h-.6zM57.5 201.5h.6v.6h-.6zM58 201.5h.6v.6h-.6zM59.5 201.5h.6v.6h-.6zM60.5 201.5h.6v.6h-.6zM61.5 201.5h.6v.6h-.6zM62 201.5h.6v.6h-.6zM65.5 201.5h.6v.6h-.6zM67 201.5h.6v.6h-.6zM68.5 201.5h.6v.6h-.6zM70.5 201.5h.6v.6h-.6zM71 201.5h.6v.6h-.6zM71.5 201.5h.6v.6h-.6zM73 201.5h.6v.6h-.6zM73.5 201.5h.6v.6h-.6zM79 201.5h.6v.6h-.6zM79.5 201.5h.6v.6h-.6zM80 201.5h.6v.6h-.6zM81.5 201.5h.6v.6h-.6zM83.5 201.5h.6v.6h-.6zM84 201.5h.6v.6h-.6zM84.5 201.5h.6v.6h-.6zM85 201.5h.6v.6h-.6zM87.5 201.5h.6v.6h-.6zM92 201.5h.6v.6h-.6zM93 201.5h.6v.6h-.6zM51 202h.6v.6h-.6zM51.5 202h.6v.6h-.6zM55 202h.6v.6h-.6zM56.5 202h.6v.6h-.6zM58 202h.6v.6h-.6zM59 202h.6v.6h-.6zM59.5 202h.6v.6h-.6zM60 202h.6v.6h-.6zM62 202h.6v.6h-.6zM62.5 202h.6v.6h-.6zM63 202h.6v.6h-.6zM63.5 202h.6v.6h-.6zM69 202h.6v.6h-.6zM69.5 202h.6v.6h-.6zM70.5 202h.6v.6h-.6zM71 202h.6v.6h-.6zM71.5 202h.6v.6h-.6zM72.5 202h.6v.6h-.6zM73.5 202h.6v.6h-.6zM76.5 202h.6v.6h-.6zM80 202h.6v.6h-.6zM82 202h.6v.6h-.6zM85.5 202h.6v.6h-.6zM86 202h.6v.6h-.6zM86.5 202h.6v.6h-.6zM87 202h.6v.6h-.6zM88.5 202h.6v.6h-.6zM45.5 202.5h.6v.6h-.6zM51 202.5h.6v.6h-.6zM52.5 202.5h.6v.6h-.6zM54 202.5h.6v.6h-.6zM54.5 202.5h.6v.6h-.6zM55 202.5h.6v.6h-.6zM57 202.5h.6v.6h-.6zM57.5 202.5h.6v.6h-.6zM58.5 202.5h.6v.6h-.6zM59 202.5h.6v.6h-.6zM60 202.5h.6v.6h-.6zM61.5 202.5h.6v.6h-.6zM63 202.5h.6v.6h-.6zM63.5 202.5h.6v.6h-.6zM64 202.5h.6v.6h-.6zM65.5 202.5h.6v.6h-.6zM68 202.5h.6v.6h-.6zM69 202.5h.6v.6h-.6zM69.5 202.5h.6v.6h-.6zM71 202.5h.6v.6h-.6zM74 202.5h.6v.6h-.6zM74.5 202.5h.6v.6h-.6zM75 202.5h.6v.6h-.6zM76 202.5h.6v.6h-.6zM77 202.5h.6v.6h-.6zM78.5 202.5h.6v.6h-.6zM79 202.5h.6v.6h-.6zM80 202.5h.6v.6h-.6zM85.5 202.5h.6v.6h-.6zM86 202.5h.6v.6h-.6zM86.5 202.5h.6v.6h-.6zM88 202.5h.6v.6h-.6zM90.5 202.5h.6v.6h-.6zM59 203h.6v.6h-.6zM60 203h.6v.6h-.6zM65.5 203h.6v.6h-.6zM67.5 203h.6v.6h-.6zM68.5 203h.6v.6h-.6zM70 203h.6v.6h-.6zM71 203h.6v.6h-.6zM71.5 203h.6v.6h-.6zM73.5 203h.6v.6h-.6zM75.5 203h.6v.6h-.6zM76.5 203h.6v.6h-.6zM77 203h.6v.6h-.6zM81.5 203h.6v.6h-.6zM82 203h.6v.6h-.6zM86 203h.6v.6h-.6zM87 203h.6v.6h-.6zM88 203h.6v.6h-.6zM52.5 203.5h.6v.6h-.6zM53.5 203.5h.6v.6h-.6zM54 203.5h.6v.6h-.6zM55 203.5h.6v.6h-.6zM56.5 203.5h.6v.6h-.6zM58.5 203.5h.6v.6h-.6zM59 203.5h.6v.6h-.6zM61 203.5h.6v.6h-.6zM61.5 203.5h.6v.6h-.6zM62 203.5h.6v.6h-.6zM62.5 203.5h.6v.6h-.6zM63 203.5h.6v.6h-.6zM64.5 203.5h.6v.6h-.6zM65 203.5h.6v.6h-.6zM67 203.5h.6v.6h-.6zM71 203.5h.6v.6h-.6zM71.5 203.5h.6v.6h-.6zM72.5 203.5h.6v.6h-.6zM74 203.5h.6v.6h-.6zM74.5 203.5h.6v.6h-.6zM75 203.5h.6v.6h-.6zM78 203.5h.6v.6h-.6zM78.5 203.5h.6v.6h-.6zM81.5 203.5h.6v.6h-.6zM82 203.5h.6v.6h-.6zM85.5 203.5h.6v.6h-.6zM93 203.5h.6v.6h-.6zM50 204h.6v.6h-.6zM54 204h.6v.6h-.6zM54.5 204h.6v.6h-.6zM63 204h.6v.6h-.6zM64.5 204h.6v.6h-.6zM67 204h.6v.6h-.6zM71 204h.6v.6h-.6zM71.5 204h.6v.6h-.6zM72 204h.6v.6h-.6zM75 204h.6v.6h-.6zM76 204h.6v.6h-.6zM79 204h.6v.6h-.6zM80.5 204h.6v.6h-.6zM83.5 204h.6v.6h-.6zM85 204h.6v.6h-.6zM53.5 204.5h.6v.6h-.6zM57.5 204.5h.6v.6h-.6zM59.5 204.5h.6v.6h-.6zM60 204.5h.6v.6h-.6zM62 204.5h.6v.6h-.6zM63 204.5h.6v.6h-.6zM65 204.5h.6v.6h-.6zM65.5 204.5h.6v.6h-.6zM66.5 204.5h.6v.6h-.6zM68.5 204.5h.6v.6h-.6zM69.5 204.5h.6v.6h-.6zM70 204.5h.6v.6h-.6zM74.5 204.5h.6v.6h-.6zM78 204.5h.6v.6h-.6zM79 204.5h.6v.6h-.6zM79.5 204.5h.6v.6h-.6zM81.5 204.5h.6v.6h-.6zM91 204.5h.6v.6h-.6zM49 205h.6v.6h-.6zM49.5 205h.6v.6h-.6zM50 205h.6v.6h-.6zM51.5 205h.6v.6h-.6zM53 205h.6v.6h-.6zM57 205h.6v.6h-.6zM58 205h.6v.6h-.6zM60.5 205h.6v.6h-.6zM64.5 205h.6v.6h-.6zM66 205h.6v.6h-.6zM67.5 205h.6v.6h-.6zM68 205h.6v.6h-.6zM68.5 205h.6v.6h-.6zM70 205h.6v.6h-.6zM71.5 205h.6v.6h-.6zM73.5 205h.6v.6h-.6zM75 205h.6v.6h-.6zM76.5 205h.6v.6h-.6zM77 205h.6v.6h-.6zM79.5 205h.6v.6h-.6zM85.5 205h.6v.6h-.6zM86 205h.6v.6h-.6zM46.5 205.5h.6v.6h-.6zM49 205.5h.6v.6h-.6zM54.5 205.5h.6v.6h-.6zM60 205.5h.6v.6h-.6zM61 205.5h.6v.6h-.6zM65 205.5h.6v.6h-.6zM67.5 205.5h.6v.6h-.6zM69.5 205.5h.6v.6h-.6zM71 205.5h.6v.6h-.6zM72.5 205.5h.6v.6h-.6zM74 205.5h.6v.6h-.6zM75 205.5h.6v.6h-.6zM79 205.5h.6v.6h-.6zM79.5 205.5h.6v.6h-.6zM54 206h.6v.6h-.6zM54.5 206h.6v.6h-.6zM55.5 206h.6v.6h-.6zM57.5 206h.6v.6h-.6zM60.5 206h.6v.6h-.6zM61 206h.6v.6h-.6zM62 206h.6v.6h-.6zM63 206h.6v.6h-.6zM64 206h.6v.6h-.6zM66 206h.6v.6h-.6zM68 206h.6v.6h-.6zM69 206h.6v.6h-.6zM70.5 206h.6v.6h-.6zM71.5 206h.6v.6h-.6zM72 206h.6v.6h-.6zM72.5 206h.6v.6h-.6zM75 206h.6v.6h-.6zM76.5 206h.6v.6h-.6zM77.5 206h.6v.6h-.6zM78 206h.6v.6h-.6zM79 206h.6v.6h-.6zM81.5 206h.6v.6h-.6zM83 206h.6v.6h-.6zM84.5 206h.6v.6h-.6zM46 206.5h.6v.6h-.6zM47.5 206.5h.6v.6h-.6zM49.5 206.5h.6v.6h-.6zM55 206.5h.6v.6h-.6zM57.5 206.5h.6v.6h-.6zM58.5 206.5h.6v.6h-.6zM59 206.5h.6v.6h-.6zM61 206.5h.6v.6h-.6zM69.5 206.5h.6v.6h-.6zM73 206.5h.6v.6h-.6zM73.5 206.5h.6v.6h-.6zM74 206.5h.6v.6h-.6zM74.5 206.5h.6v.6h-.6zM75 206.5h.6v.6h-.6zM78 206.5h.6v.6h-.6zM79 206.5h.6v.6h-.6zM80 206.5h.6v.6h-.6zM81 206.5h.6v.6h-.6zM82 206.5h.6v.6h-.6zM83 206.5h.6v.6h-.6zM88.5 206.5h.6v.6h-.6zM90 206.5h.6v.6h-.6zM46 207h.6v.6h-.6zM54.5 207h.6v.6h-.6zM60.5 207h.6v.6h-.6zM61.5 207h.6v.6h-.6zM62.5 207h.6v.6h-.6zM65 207h.6v.6h-.6zM65.5 207h.6v.6h-.6zM68 207h.6v.6h-.6zM69.5 207h.6v.6h-.6zM70.5 207h.6v.6h-.6zM71.5 207h.6v.6h-.6zM73.5 207h.6v.6h-.6zM74 207h.6v.6h-.6zM76 207h.6v.6h-.6zM76.5 207h.6v.6h-.6zM78 207h.6v.6h-.6zM78.5 207h.6v.6h-.6zM83 207h.6v.6h-.6zM84.5 207h.6v.6h-.6zM85 207h.6v.6h-.6zM90.5 207h.6v.6h-.6zM46.5 207.5h.6v.6h-.6zM47 207.5h.6v.6h-.6zM48 207.5h.6v.6h-.6zM48.5 207.5h.6v.6h-.6zM51.5 207.5h.6v.6h-.6zM53.5 207.5h.6v.6h-.6zM54.5 207.5h.6v.6h-.6zM56 207.5h.6v.6h-.6zM62.5 207.5h.6v.6h-.6zM66.5 207.5h.6v.6h-.6zM68.5 207.5h.6v.6h-.6zM70 207.5h.6v.6h-.6zM71 207.5h.6v.6h-.6zM72 207.5h.6v.6h-.6zM75 207.5h.6v.6h-.6zM76 207.5h.6v.6h-.6zM79.5 207.5h.6v.6h-.6zM80.5 207.5h.6v.6h-.6zM81.5 207.5h.6v.6h-.6zM82 207.5h.6v.6h-.6zM83 207.5h.6v.6h-.6zM84 207.5h.6v.6h-.6zM86.5 207.5h.6v.6h-.6zM92.5 207.5h.6v.6h-.6zM52.5 208h.6v.6h-.6zM54 208h.6v.6h-.6zM54.5 208h.6v.6h-.6zM57 208h.6v.6h-.6zM57.5 208h.6v.6h-.6zM58 208h.6v.6h-.6zM58.5 208h.6v.6h-.6zM60.5 208h.6v.6h-.6zM61 208h.6v.6h-.6zM62.5 208h.6v.6h-.6zM63 208h.6v.6h-.6zM65.5 208h.6v.6h-.6zM66 208h.6v.6h-.6zM67.5 208h.6v.6h-.6zM68.5 208h.6v.6h-.6zM70 208h.6v.6h-.6zM73 208h.6v.6h-.6zM77 208h.6v.6h-.6zM78.5 208h.6v.6h-.6zM79 208h.6v.6h-.6zM80.5 208h.6v.6h-.6zM87.5 208h.6v.6h-.6zM90.5 208h.6v.6h-.6zM52 208.5h.6v.6h-.6zM59.5 208.5h.6v.6h-.6zM61.5 208.5h.6v.6h-.6zM64 208.5h.6v.6h-.6zM67 208.5h.6v.6h-.6zM71 208.5h.6v.6h-.6zM73 208.5h.6v.6h-.6zM74.5 208.5h.6v.6h-.6zM77 208.5h.6v.6h-.6zM78 208.5h.6v.6h-.6zM84 208.5h.6v.6h-.6zM85 208.5h.6v.6h-.6zM89.5 208.5h.6v.6h-.6zM45 209h.6v.6h-.6zM48.5 209h.6v.6h-.6zM50.5 209h.6v.6h-.6zM66 209h.6v.6h-.6zM67 209h.6v.6h-.6zM69 209h.6v.6h-.6zM69.5 209h.6v.6h-.6zM70 209h.6v.6h-.6zM72.5 209h.6v.6h-.6zM74.5 209h.6v.6h-.6zM75.5 209h.6v.6h-.6zM76 209h.6v.6h-.6zM76.5 209h.6v.6h-.6zM77 209h.6v.6h-.6zM81.5 209h.6v.6h-.6zM83 209h.6v.6h-.6zM87 209h.6v.6h-.6zM51.5 209.5h.6v.6h-.6zM54 209.5h.6v.6h-.6zM54.5 209.5h.6v.6h-.6zM56 209.5h.6v.6h-.6zM63.5 209.5h.6v.6h-.6zM70.5 209.5h.6v.6h-.6zM71.5 209.5h.6v.6h-.6zM72 209.5h.6v.6h-.6zM72.5 209.5h.6v.6h-.6zM73 209.5h.6v.6h-.6zM74.5 209.5h.6v.6h-.6zM79.5 209.5h.6v.6h-.6zM84.5 209.5h.6v.6h-.6zM85 209.5h.6v.6h-.6zM86.5 209.5h.6v.6h-.6zM87.5 209.5h.6v.6h-.6zM95.5 209.5h.6v.6h-.6zM49 210h.6v.6h-.6zM51 210h.6v.6h-.6zM52.5 210h.6v.6h-.6zM53 210h.6v.6h-.6zM57.5 210h.6v.6h-.6zM62 210h.6v.6h-.6zM63 210h.6v.6h-.6zM64 210h.6v.6h-.6zM66.5 210h.6v.6h-.6zM67 210h.6v.6h-.6zM72.5 210h.6v.6h-.6zM74 210h.6v.6h-.6zM79 210h.6v.6h-.6zM80.5 210h.6v.6h-.6zM84.5 210h.6v.6h-.6zM89 210h.6v.6h-.6zM51.5 210.5h.6v.6h-.6zM53.5 210.5h.6v.6h-.6zM54.5 210.5h.6v.6h-.6zM59 210.5h.6v.6h-.6zM59.5 210.5h.6v.6h-.6zM60.5 210.5h.6v.6h-.6zM61 210.5h.6v.6h-.6zM61.5 210.5h.6v.6h-.6zM62 210.5h.6v.6h-.6zM62.5 210.5h.6v.6h-.6zM65 210.5h.6v.6h-.6zM69 210.5h.6v.6h-.6zM70 210.5h.6v.6h-.6zM70.5 210.5h.6v.6h-.6zM75 210.5h.6v.6h-.6zM76 210.5h.6v.6h-.6zM76.5 210.5h.6v.6h-.6zM78.5 210.5h.6v.6h-.6zM79 210.5h.6v.6h-.6zM81.5 210.5h.6v.6h-.6zM82.5 210.5h.6v.6h-.6zM83 210.5h.6v.6h-.6zM86 210.5h.6v.6h-.6zM56 211h.6v.6h-.6zM57 211h.6v.6h-.6zM57.5 211h.6v.6h-.6zM60 211h.6v.6h-.6zM63 211h.6v.6h-.6zM63.5 211h.6v.6h-.6zM66 211h.6v.6h-.6zM66.5 211h.6v.6h-.6zM68.5 211h.6v.6h-.6zM69.5 211h.6v.6h-.6zM72 211h.6v.6h-.6zM76 211h.6v.6h-.6zM77 211h.6v.6h-.6zM78.5 211h.6v.6h-.6zM79 211h.6v.6h-.6zM82 211h.6v.6h-.6zM88.5 211h.6v.6h-.6zM89.5 211h.6v.6h-.6zM49 211.5h.6v.6h-.6zM52 211.5h.6v.6h-.6zM53 211.5h.6v.6h-.6zM60 211.5h.6v.6h-.6zM65.5 211.5h.6v.6h-.6zM66 211.5h.6v.6h-.6zM66.5 211.5h.6v.6h-.6zM68 211.5h.6v.6h-.6zM68.5 211.5h.6v.6h-.6zM69 211.5h.6v.6h-.6zM69.5 211.5h.6v.6h-.6zM71.5 211.5h.6v.6h-.6zM72.5 211.5h.6v.6h-.6zM73 211.5h.6v.6h-.6zM74 211.5h.6v.6h-.6zM75 211.5h.6v.6h-.6zM79.5 211.5h.6v.6h-.6zM84.5 211.5h.6v.6h-.6zM86.5 211.5h.6v.6h-.6zM94 211.5h.6v.6h-.6zM59 212h.6v.6h-.6zM61.5 212h.6v.6h-.6zM62 212h.6v.6h-.6zM63.5 212h.6v.6h-.6zM67 212h.6v.6h-.6zM69 212h.6v.6h-.6zM70.5 212h.6v.6h-.6zM71.5 212h.6v.6h-.6zM72.5 212h.6v.6h-.6zM75.5 212h.6v.6h-.6zM76.5 212h.6v.6h-.6zM78 212h.6v.6h-.6zM78.5 212h.6v.6h-.6zM81.5 212h.6v.6h-.6zM47.5 212.5h.6v.6h-.6zM51 212.5h.6v.6h-.6zM56 212.5h.6v.6h-.6zM57 212.5h.6v.6h-.6zM59.5 212.5h.6v.6h-.6zM60 212.5h.6v.6h-.6zM60.5 212.5h.6v.6h-.6zM61 212.5h.6v.6h-.6zM61.5 212.5h.6v.6h-.6zM63.5 212.5h.6v.6h-.6zM64 212.5h.6v.6h-.6zM67 212.5h.6v.6h-.6zM68 212.5h.6v.6h-.6zM68.5 212.5h.6v.6h-.6zM70 212.5h.6v.6h-.6zM71 212.5h.6v.6h-.6zM75 212.5h.6v.6h-.6zM78 212.5h.6v.6h-.6zM79 212.5h.6v.6h-.6zM80.5 212.5h.6v.6h-.6zM81.5 212.5h.6v.6h-.6zM82.5 212.5h.6v.6h-.6zM45 213h.6v.6h-.6zM55 213h.6v.6h-.6zM57 213h.6v.6h-.6zM60 213h.6v.6h-.6zM64 213h.6v.6h-.6zM66.5 213h.6v.6h-.6zM71 213h.6v.6h-.6zM73 213h.6v.6h-.6zM75 213h.6v.6h-.6zM80 213h.6v.6h-.6zM83 213h.6v.6h-.6zM93.5 213h.6v.6h-.6zM40 213.5h.6v.6h-.6zM52.5 213.5h.6v.6h-.6zM56 213.5h.6v.6h-.6zM57.5 213.5h.6v.6h-.6zM63 213.5h.6v.6h-.6zM65 213.5h.6v.6h-.6zM65.5 213.5h.6v.6h-.6zM67 213.5h.6v.6h-.6zM67.5 213.5h.6v.6h-.6zM69 213.5h.6v.6h-.6zM71.5 213.5h.6v.6h-.6zM75 213.5h.6v.6h-.6zM75.5 213.5h.6v.6h-.6zM76.5 213.5h.6v.6h-.6zM77.5 213.5h.6v.6h-.6zM79 213.5h.6v.6h-.6zM85.5 213.5h.6v.6h-.6zM54 214h.6v.6h-.6zM54.5 214h.6v.6h-.6zM57 214h.6v.6h-.6zM58 214h.6v.6h-.6zM65 214h.6v.6h-.6zM65.5 214h.6v.6h-.6zM67 214h.6v.6h-.6zM69.5 214h.6v.6h-.6zM74.5 214h.6v.6h-.6zM77.5 214h.6v.6h-.6zM79.5 214h.6v.6h-.6zM81 214h.6v.6h-.6zM83.5 214h.6v.6h-.6zM59.5 214.5h.6v.6h-.6zM60.5 214.5h.6v.6h-.6zM61.5 214.5h.6v.6h-.6zM64 214.5h.6v.6h-.6zM71 214.5h.6v.6h-.6zM72 214.5h.6v.6h-.6zM73.5 214.5h.6v.6h-.6zM76 214.5h.6v.6h-.6zM81 214.5h.6v.6h-.6zM99.5 214.5h.6v.6h-.6zM55.5 215h.6v.6h-.6zM61.5 215h.6v.6h-.6zM62 215h.6v.6h-.6zM69.5 215h.6v.6h-.6zM72 215h.6v.6h-.6zM72.5 215h.6v.6h-.6zM73 215h.6v.6h-.6zM73.5 215h.6v.6h-.6zM74.5 215h.6v.6h-.6zM77 215h.6v.6h-.6zM80 215h.6v.6h-.6zM82 215h.6v.6h-.6zM84.5 215h.6v.6h-.6zM62.5 215.5h.6v.6h-.6zM64.5 215.5h.6v.6h-.6zM65 215.5h.6v.6h-.6zM66.5 215.5h.6v.6h-.6zM68 215.5h.6v.6h-.6zM68.5 215.5h.6v.6h-.6zM73 215.5h.6v.6h-.6zM74 215.5h.6v.6h-.6zM75.5 215.5h.6v.6h-.6zM76.5 215.5h.6v.6h-.6zM77 215.5h.6v.6h-.6zM78.5 215.5h.6v.6h-.6zM79 215.5h.6v.6h-.6zM55.5 216h.6v.6h-.6zM61 216h.6v.6h-.6zM64 216h.6v.6h-.6zM64.5 216h.6v.6h-.6zM66.5 216h.6v.6h-.6zM67 216h.6v.6h-.6zM68.5 216h.6v.6h-.6zM70.5 216h.6v.6h-.6zM73 216h.6v.6h-.6zM78 216h.6v.6h-.6zM80.5 216h.6v.6h-.6zM82.5 216h.6v.6h-.6zM55 216.5h.6v.6h-.6zM59 216.5h.6v.6h-.6zM61 216.5h.6v.6h-.6zM61.5 216.5h.6v.6h-.6zM63 216.5h.6v.6h-.6zM68 216.5h.6v.6h-.6zM69.5 216.5h.6v.6h-.6zM72.5 216.5h.6v.6h-.6zM73 216.5h.6v.6h-.6zM82 216.5h.6v.6h-.6zM83 216.5h.6v.6h-.6zM85.5 216.5h.6v.6h-.6zM88.5 216.5h.6v.6h-.6zM62 217h.6v.6h-.6zM64.5 217h.6v.6h-.6zM66 217h.6v.6h-.6zM66.5 217h.6v.6h-.6zM68.5 217h.6v.6h-.6zM69 217h.6v.6h-.6zM69.5 217h.6v.6h-.6zM70.5 217h.6v.6h-.6zM72 217h.6v.6h-.6zM75 217h.6v.6h-.6zM75.5 217h.6v.6h-.6zM78 217h.6v.6h-.6zM84.5 217h.6v.6h-.6zM87 217h.6v.6h-.6zM47.5 217.5h.6v.6h-.6zM55.5 217.5h.6v.6h-.6zM61 217.5h.6v.6h-.6zM65.5 217.5h.6v.6h-.6zM66 217.5h.6v.6h-.6zM72 217.5h.6v.6h-.6zM74 217.5h.6v.6h-.6zM88 217.5h.6v.6h-.6zM55.5 218h.6v.6h-.6zM61 218h.6v.6h-.6zM62.5 218h.6v.6h-.6zM63 218h.6v.6h-.6zM65 218h.6v.6h-.6zM66.5 218h.6v.6h-.6zM73.5 218h.6v.6h-.6zM81.5 218h.6v.6h-.6zM83 218h.6v.6h-.6zM93.5 218h.6v.6h-.6zM66.5 218.5h.6v.6h-.6zM67 218.5h.6v.6h-.6zM68.5 218.5h.6v.6h-.6zM69.5 218.5h.6v.6h-.6zM70.5 218.5h.6v.6h-.6zM72.5 218.5h.6v.6h-.6zM75.5 218.5h.6v.6h-.6zM79.5 218.5h.6v.6h-.6zM82 218.5h.6v.6h-.6zM59 219h.6v.6h-.6zM61.5 219h.6v.6h-.6zM63 219h.6v.6h-.6zM66.5 219h.6v.6h-.6zM67.5 219h.6v.6h-.6zM70 219h.6v.6h-.6zM72.5 219h.6v.6h-.6zM74.5 219h.6v.6h-.6zM75.5 219h.6v.6h-.6zM78 219h.6v.6h-.6zM91.5 219h.6v.6h-.6zM54 219.5h.6v.6h-.6zM58.5 219.5h.6v.6h-.6zM61.5 219.5h.6v.6h-.6zM62.5 219.5h.6v.6h-.6zM64 219.5h.6v.6h-.6zM66 219.5h.6v.6h-.6zM68 219.5h.6v.6h-.6zM73.5 219.5h.6v.6h-.6zM75.5 219.5h.6v.6h-.6zM80.5 219.5h.6v.6h-.6zM83.5 219.5h.6v.6h-.6zM90.5 219.5h.6v.6h-.6zM52.5 220h.6v.6h-.6zM72.5 220h.6v.6h-.6zM73 220h.6v.6h-.6zM74 220h.6v.6h-.6zM75 220h.6v.6h-.6zM75.5 220h.6v.6h-.6zM80 220h.6v.6h-.6zM46 220.5h.6v.6h-.6zM52 220.5h.6v.6h-.6zM63.5 220.5h.6v.6h-.6zM68 220.5h.6v.6h-.6zM74 220.5h.6v.6h-.6zM74.5 220.5h.6v.6h-.6zM75.5 220.5h.6v.6h-.6zM78 220.5h.6v.6h-.6zM116.5 220.5h.6v.6h-.6zM60.5 221h.6v.6h-.6zM63.5 221h.6v.6h-.6zM64 221h.6v.6h-.6zM71 221h.6v.6h-.6zM73.5 221h.6v.6h-.6zM80.5 221h.6v.6h-.6zM57 221.5h.6v.6h-.6zM66.5 221.5h.6v.6h-.6zM77.5 221.5h.6v.6h-.6zM85.5 221.5h.6v.6h-.6zM57 222h.6v.6h-.6zM64.5 222h.6v.6h-.6zM66 222h.6v.6h-.6zM70 222h.6v.6h-.6zM72.5 222h.6v.6h-.6zM73 222h.6v.6h-.6zM82.5 222h.6v.6h-.6zM85.5 222h.6v.6h-.6zM66.5 222.5h.6v.6h-.6zM68 222.5h.6v.6h-.6zM74 222.5h.6v.6h-.6zM78 222.5h.6v.6h-.6zM59 223h.6v.6h-.6zM69 223h.6v.6h-.6zM77 223h.6v.6h-.6zM79 223h.6v.6h-.6zM91.5 223h.6v.6h-.6zM73 223.5h.6v.6h-.6zM80 223.5h.6v.6h-.6zM92.5 223.5h.6v.6h-.6zM97 223.5h.6v.6h-.6zM64 224h.6v.6h-.6zM66.5 224h.6v.6h-.6zM72 224h.6v.6h-.6zM72.5 224h.6v.6h-.6zM74.5 224h.6v.6h-.6zM81.5 224h.6v.6h-.6zM62.5 224.5h.6v.6h-.6zM63.5 224.5h.6v.6h-.6zM65 224.5h.6v.6h-.6zM66.5 224.5h.6v.6h-.6zM69.5 224.5h.6v.6h-.6zM73.5 224.5h.6v.6h-.6zM81 224.5h.6v.6h-.6zM91.5 224.5h.6v.6h-.6zM42.5 225h.6v.6h-.6zM63 225h.6v.6h-.6zM64.5 225h.6v.6h-.6zM70 225h.6v.6h-.6zM80.5 225h.6v.6h-.6zM82.5 225h.6v.6h-.6zM87.5 225h.6v.6h-.6zM92 225h.6v.6h-.6zM61 225.5h.6v.6h-.6zM65 225.5h.6v.6h-.6zM69.5 225.5h.6v.6h-.6zM71.5 225.5h.6v.6h-.6zM83 225.5h.6v.6h-.6zM51 226h.6v.6h-.6zM65 226h.6v.6h-.6zM67 226h.6v.6h-.6zM73.5 226h.6v.6h-.6zM76.5 226h.6v.6h-.6zM84 226h.6v.6h-.6zM87 226h.6v.6h-.6zM72 226.5h.6v.6h-.6zM86 226.5h.6v.6h-.6zM72.5 227h.6v.6h-.6zM74 227h.6v.6h-.6zM77 227h.6v.6h-.6zM82 227h.6v.6h-.6zM93 227h.6v.6h-.6zM96.5 227h.6v.6h-.6zM61.5 227.5h.6v.6h-.6zM73.5 227.5h.6v.6h-.6zM77 227.5h.6v.6h-.6zM57 228h.6v.6h-.6zM67 228h.6v.6h-.6zM58.5 228.5h.6v.6h-.6zM62.5 228.5h.6v.6h-.6zM63 228.5h.6v.6h-.6zM64.5 228.5h.6v.6h-.6zM74 228.5h.6v.6h-.6zM86 228.5h.6v.6h-.6zM54.5 229h.6v.6h-.6zM55 229h.6v.6h-.6zM62.5 229h.6v.6h-.6zM63 229h.6v.6h-.6zM64.5 229h.6v.6h-.6zM73 229h.6v.6h-.6zM81.5 229h.6v.6h-.6zM67.5 229.5h.6v.6h-.6zM76.5 229.5h.6v.6h-.6zM88.5 229.5h.6v.6h-.6zM67 230h.6v.6h-.6zM72.5 230h.6v.6h-.6zM73.5 230h.6v.6h-.6zM80.5 230h.6v.6h-.6zM83.5 230h.6v.6h-.6zM67 230.5h.6v.6h-.6zM75.5 230.5h.6v.6h-.6zM83 230.5h.6v.6h-.6zM92.5 230.5h.6v.6h-.6zM96 230.5h.6v.6h-.6zM48 231h.6v.6h-.6zM55.5 231h.6v.6h-.6zM60.5 231h.6v.6h-.6zM63 231h.6v.6h-.6zM68 231h.6v.6h-.6zM69 231h.6v.6h-.6zM77 231h.6v.6h-.6zM71.5 231.5h.6v.6h-.6zM73 231.5h.6v.6h-.6zM81 231.5h.6v.6h-.6zM54.5 232h.6v.6h-.6zM55 232h.6v.6h-.6zM68 232h.6v.6h-.6zM76.5 232h.6v.6h-.6zM77 232h.6v.6h-.6zM55.5 232.5h.6v.6h-.6zM62.5 232.5h.6v.6h-.6zM65 232.5h.6v.6h-.6zM93 233h.6v.6h-.6zM94 233h.6v.6h-.6zM64 233.5h.6v.6h-.6zM73.5 233.5h.6v.6h-.6zM62.5 234h.6v.6h-.6zM65.5 234h.6v.6h-.6zM71 234h.6v.6h-.6zM82 234h.6v.6h-.6zM77.5 234.5h.6v.6h-.6zM79 234.5h.6v.6h-.6zM104.5 235h.6v.6h-.6zM60.5 235.5h.6v.6h-.6zM83.5 235.5h.6v.6h-.6zM109 235.5h.6v.6h-.6zM58 236h.6v.6h-.6zM77 236h.6v.6h-.6zM83 236h.6v.6h-.6zM101.5 236h.6v.6h-.6zM69 236.5h.6v.6h-.6zM70.5 236.5h.6v.6h-.6zM71.5 236.5h.6v.6h-.6zM88.5 236.5h.6v.6h-.6zM58 237h.6v.6h-.6zM75 237h.6v.6h-.6zM77 237.5h.6v.6h-.6zM79.5 237.5h.6v.6h-.6zM80.5 238h.6v.6h-.6zM57 238.5h.6v.6h-.6zM61.5 239h.6v.6h-.6zM63.5 239h.6v.6h-.6zM72.5 239h.6v.6h-.6zM76.5 239.5h.6v.6h-.6zM77 239.5h.6v.6h-.6zM50 241h.6v.6h-.6zM74 241h.6v.6h-.6zM52 242h.6v.6h-.6zM64.5 243.5h.6v.6h-.6zM77.5 243.5h.6v.6h-.6zM83 246h.6v.6h-.6z" fill="#111" fill-opacity="0.95"/>
<path d="M66.5 168h.6v.6h-.6zM64 171.5h.6v.6h-.6zM69 174h.6v.6h-.6zM89.5 175h.6v.6h-.6zM67.5 179h.6v.6h-.6zM66.5 181h.6v.6h-.6zM71 182h.6v.6h-.6zM76.5 182h.6v.6h-.6zM61.5 183h.6v.6h-.6zM107.5 183h.6v.6h-.6zM63 183.5h.6v.6h-.6zM64 183.5h.6v.6h-.6zM69.5 183.5h.6v.6h-.6zM71.5 183.5h.6v.6h-.6zM74 183.5h.6v.6h-.6zM58.5 184h.6v.6h-.6zM75 184.5h.6v.6h-.6zM80.5 184.5h.6v.6h-.6zM62.5 185h.6v.6h-.6zM63.5 185h.6v.6h-.6zM70.5 185h.6v.6h-.6zM52.5 185.5h.6v.6h-.6zM63 185.5h.6v.6h-.6zM63.5 185.5h.6v.6h-.6zM65.5 185.5h.6v.6h-.6zM67 185.5h.6v.6h-.6zM78 185.5h.6v.6h-.6zM79.5 185.5h.6v.6h-.6zM80 185.5h.6v.6h-.6zM82 185.5h.6v.6h-.6zM59 186h.6v.6h-.6zM60.5 186h.6v.6h-.6zM63 186h.6v.6h-.6zM65 186h.6v.6h-.6zM68 186h.6v.6h-.6zM71.5 186h.6v.6h-.6zM75.5 186h.6v.6h-.6zM79.5 186h.6v.6h-.6zM85 186h.6v.6h-.6zM65.5 186.5h.6v.6h-.6zM67 186.5h.6v.6h-.6zM68 186.5h.6v.6h-.6zM70.5 186.5h.6v.6h-.6zM73.5 186.5h.6v.6h-.6zM83.5 186.5h.6v.6h-.6zM62 187h.6v.6h-.6zM65.5 187h.6v.6h-.6zM73 187h.6v.6h-.6zM74 187h.6v.6h-.6zM76 187h.6v.6h-.6zM78 187h.6v.6h-.6zM80.5 187h.6v.6h-.6zM81 187h.6v.6h-.6zM71.5 187.5h.6v.6h-.6zM73 187.5h.6v.6h-.6zM75 187.5h.6v.6h-.6zM48 188h.6v.6h-.6zM49.5 188h.6v.6h-.6zM55.5 188h.6v.6h-.6zM60.5 188h.6v.6h-.6zM64.5 188h.6v.6h-.6zM67.5 188h.6v.6h-.6zM74 188h.6v.6h-.6zM79.5 188h.6v.6h-.6zM88.5 188h.6v.6h-.6zM57 188.5h.6v.6h-.6zM64 188.5h.6v.6h-.6zM64.5 188.5h.6v.6h-.6zM66 188.5h.6v.6h-.6zM66.5 188.5h.6v.6h-.6zM74 188.5h.6v.6h-.6zM75.5 188.5h.6v.6h-.6zM77.5 188.5h.6v.6h-.6zM79.5 188.5h.6v.6h-.6zM82 188.5h.6v.6h-.6zM86.5 188.5h.6v.6h-.6zM54 189h.6v.6h-.6zM57.5 189h.6v.6h-.6zM62.5 189h.6v.6h-.6zM70 189h.6v.6h-.6zM71.5 189h.6v.6h-.6zM72.5 189h.6v.6h-.6zM81 189h.6v.6h-.6zM83.5 189h.6v.6h-.6zM55 189.5h.6v.6h-.6zM57 189.5h.6v.6h-.6zM59.5 189.5h.6v.6h-.6zM67 189.5h.6v.6h-.6zM68.5 189.5h.6v.6h-.6zM72.5 189.5h.6v.6h-.6zM74.5 189.5h.6v.6h-.6zM75.5 189.5h.6v.6h-.6zM91 189.5h.6v.6h-.6zM52.5 190h.6v.6h-.6zM56 190h.6v.6h-.6zM58.5 190h.6v.6h-.6zM61.5 190h.6v.6h-.6zM62 190h.6v.6h-.6zM63 190h.6v.6h-.6zM63.5 190h.6v.6h-.6zM64 190h.6v.6h-.6zM65 190h.6v.6h-.6zM78.5 190h.6v.6h-.6zM79.5 190h.6v.6h-.6zM81 190h.6v.6h-.6zM82 190h.6v.6h-.6zM86 190h.6v.6h-.6zM54 190.5h.6v.6h-.6zM55 190.5h.6v.6h-.6zM57.5 190.5h.6v.6h-.6zM61 190.5h.6v.6h-.6zM63.5 190.5h.6v.6h-.6zM68 190.5h.6v.6h-.6zM68.5 190.5h.6v.6h-.6zM70.5 190.5h.6v.6h-.6zM72 190.5h.6v.6h-.6zM72.5 190.5h.6v.6h-.6zM76.5 190.5h.6v.6h-.6zM77.5 190.5h.6v.6h-.6zM56 191h.6v.6h-.6zM59.5 191h.6v.6h-.6zM63 191h.6v.6h-.6zM66 191h.6v.6h-.6zM68 191h.6v.6h-.6zM69 191h.6v.6h-.6zM71.5 191h.6v.6h-.6zM73 191h.6v.6h-.6zM74.5 191h.6v.6h-.6zM79 191h.6v.6h-.6zM80 191h.6v.6h-.6zM83.5 191h.6v.6h-.6zM85 191h.6v.6h-.6zM88.5 191h.6v.6h-.6zM89.5 191h.6v.6h-.6zM50 191.5h.6v.6h-.6zM51.5 191.5h.6v.6h-.6zM54 191.5h.6v.6h-.6zM57.5 191.5h.6v.6h-.6zM59 191.5h.6v.6h-.6zM61 191.5h.6v.6h-.6zM61.5 191.5h.6v.6h-.6zM62 191.5h.6v.6h-.6zM62.5 191.5h.6v.6h-.6zM63.5 191.5h.6v.6h-.6zM67.5 191.5h.6v.6h-.6zM70 191.5h.6v.6h-.6zM71.5 191.5h.6v.6h-.6zM72 191.5h.6v.6h-.6zM75.5 191.5h.6v.6h-.6zM76.5 191.5h.6v.6h-.6zM77 191.5h.6v.6h-.6zM78.5 191.5h.6v.6h-.6zM81 191.5h.6v.6h-.6zM53.5 192h.6v.6h-.6zM56.5 192h.6v.6h-.6zM58.5 192h.6v.6h-.6zM59 192h.6v.6h-.6zM59.5 192h.6v.6h-.6zM60.5 192h.6v.6h-.6zM61 192h.6v.6h-.6zM62 192h.6v.6h-.6zM63 192h.6v.6h-.6zM64 192h.6v.6h-.6zM65.5 192h.6v.6h-.6zM67.5 192h.6v.6h-.6zM69 192h.6v.6h-.6zM70 192h.6v.6h-.6zM70.5 192h.6v.6h-.6zM71 192h.6v.6h-.6zM72 192h.6v.6h-.6zM72.5 192h.6v.6h-.6zM73 192h.6v.6h-.6zM73.5 192h.6v.6h-.6zM76 192h.6v.6h-.6zM76.5 192h.6v.6h-.6zM79.5 192h.6v.6h-.6zM82 192h.6v.6h-.6zM83 192h.6v.6h-.6zM55.5 192.5h.6v.6h-.6zM57.5 192.5h.6v.6h-.6zM62 192.5h.6v.6h-.6zM62.5 192.5h.6v.6h-.6zM63 192.5h.6v.6h-.6zM68 192.5h.6v.6h-.6zM68.5 192.5h.6v.6h-.6zM71.5 192.5h.6v.6h-.6zM72 192.5h.6v.6h-.6zM74 192.5h.6v.6h-.6zM77 192.5h.6v.6h-.6zM77.5 192.5h.6v.6h-.6zM78.5 192.5h.6v.6h-.6zM79 192.5h.6v.6h-.6zM80.5 192.5h.6v.6h-.6zM87 192.5h.6v.6h-.6zM48.5 193h.6v.6h-.6zM53 193h.6v.6h-.6zM54.5 193h.6v.6h-.6zM56 193h.6v.6h-.6zM57.5 193h.6v.6h-.6zM58 193h.6v.6h-.6zM63.5 193h.6v.6h-.6zM65 193h.6v.6h-.6zM65.5 193h.6v.6h-.6zM66.5 193h.6v.6h-.6zM67 193h.6v.6h-.6zM68 193h.6v.6h-.6zM68.5 193h.6v.6h-.6zM70 193h.6v.6h-.6zM73.5 193h.6v.6h-.6zM74.5 193h.6v.6h-.6zM79.5 193h.6v.6h-.6zM83 193h.6v.6h-.6zM85.5 193h.6v.6h-.6zM87 193h.6v.6h-.6zM94 193h.6v.6h-.6zM52 193.5h.6v.6h-.6zM52.5 193.5h.6v.6h-.6zM58.5 193.5h.6v.6h-.6zM59 193.5h.6v.6h-.6zM59.5 193.5h.6v.6h-.6zM60 193.5h.6v.6h-.6zM60.5 193.5h.6v.6h-.6zM61.5 193.5h.6v.6h-.6zM65 193.5h.6v.6h-.6zM70.5 193.5h.6v.6h-.6zM73 193.5h.6v.6h-.6zM73.5 193.5h.6v.6h-.6zM74 193.5h.6v.6h-.6zM74.5 193.5h.6v.6h-.6zM78.5 193.5h.6v.6h-.6zM82 193.5h.6v.6h-.6zM83.5 193.5h.6v.6h-.6zM84 193.5h.6v.6h-.6zM51 194h.6v.6h-.6zM57.5 194h.6v.6h-.6zM58.5 194h.6v.6h-.6zM61 194h.6v.6h-.6zM61.5 194h.6v.6h-.6zM66 194h.6v.6h-.6zM66.5 194h.6v.6h-.6zM67.5 194h.6v.6h-.6zM70 194h.6v.6h-.6zM72 194h.6v.6h-.6zM73.5 194h.6v.6h-.6zM75 194h.6v.6h-.6zM77 194h.6v.6h-.6zM78.5 194h.6v.6h-.6zM84 194h.6v.6h-.6zM88 194h.6v.6h-.6zM43.5 194.5h.6v.6h-.6zM47.5 194.5h.6v.6h-.6zM51 194.5h.6v.6h-.6zM52 194.5h.6v.6h-.6zM53.5 194.5h.6v.6h-.6zM58 194.5h.6v.6h-.6zM58.5 194.5h.6v.6h-.6zM64.5 194.5h.6v.6h-.6zM65.5 194.5h.6v.6h-.6zM67.5 194.5h.6v.6h-.6zM70.5 194.5h.6v.6h-.6zM71 194.5h.6v.6h-.6zM72.5 194.5h.6v.6h-.6zM79.5 194.5h.6v.6h-.6zM82 194.5h.6v.6h-.6zM87.5 194.5h.6v.6h-.6zM88 194.5h.6v.6h-.6zM45 195h.6v.6h-.6zM51.5 195h.6v.6h-.6zM53 195h.6v.6h-.6zM54.5 195h.6v.6h-.6zM56 195h.6v.6h-.6zM58 195h.6v.6h-.6zM59.5 195h.6v.6h-.6zM61 195h.6v.6h-.6zM64.5 195h.6v.6h-.6zM66 195h.6v.6h-.6zM67 195h.6v.6h-.6zM71 195h.6v.6h-.6zM72.5 195h.6v.6h-.6zM74 195h.6v.6h-.6zM75 195h.6v.6h-.6zM76 195h.6v.6h-.6zM78 195h.6v.6h-.6zM79.5 195h.6v.6h-.6zM80.5 195h.6v.6h-.6zM81 195h.6v.6h-.6zM83 195h.6v.6h-.6zM92 195h.6v.6h-.6zM52.5 195.5h.6v.6h-.6zM56 195.5h.6v.6h-.6zM57.5 195.5h.6v.6h-.6zM60.5 195.5h.6v.6h-.6zM62 195.5h.6v.6h-.6zM62.5 195.5h.6v.6h-.6zM64.5 195.5h.6v.6h-.6zM66 195.5h.6v.6h-.6zM68.5 195.5h.6v.6h-.6zM69 195.5h.6v.6h-.6zM70.5 195.5h.6v.6h-.6zM75.5 195.5h.6v.6h-.6zM77.5 195.5h.6v.6h-.6zM81.5 195.5h.6v.6h-.6zM84 195.5h.6v.6h-.6zM88.5 195.5h.6v.6h-.6zM104.5 195.5h.6v.6h-.6zM47.5 196h.6v.6h-.6zM58 196h.6v.6h-.6zM58.5 196h.6v.6h-.6zM64.5 196h.6v.6h-.6zM65.5 196h.6v.6h-.6zM66.5 196h.6v.6h-.6zM71.5 196h.6v.6h-.6zM72.5 196h.6v.6h-.6zM73 196h.6v.6h-.6zM74 196h.6v.6h-.6zM76 196h.6v.6h-.6zM76.5 196h.6v.6h-.6zM77 196h.6v.6h-.6zM77.5 196h.6v.6h-.6zM78 196h.6v.6h-.6zM79 196h.6v.6h-.6zM80 196h.6v.6h-.6zM80.5 196h.6v.6h-.6zM81.5 196h.6v.6h-.6zM82 196h.6v.6h-.6zM83.5 196h.6v.6h-.6zM84 196h.6v.6h-.6zM84.5 196h.6v.6h-.6zM88.5 196h.6v.6h-.6zM90 196h.6v.6h-.6zM57.5 196.5h.6v.6h-.6zM58.5 196.5h.6v.6h-.6zM61.5 196.5h.6v.6h-.6zM62 196.5h.6v.6h-.6zM62.5 196.5h.6v.6h-.6zM63 196.5h.6v.6h-.6zM65 196.5h.6v.6h-.6zM66.5 196.5h.6v.6h-.6zM67 196.5h.6v.6h-.6zM69.5 196.5h.6v.6h-.6zM72 196.5h.6v.6h-.6zM72.5 196.5h.6v.6h-.6zM79 196.5h.6v.6h-.6zM80 196.5h.6v.6h-.6zM80.5 196.5h.6v.6h-.6zM82 196.5h.6v.6h-.6zM83.5 196.5h.6v.6h-.6zM86.5 196.5h.6v.6h-.6zM94 196.5h.6v.6h-.6zM44 197h.6v.6h-.6zM45 197h.6v.6h-.6zM55.5 197h.6v.6h-.6zM56 197h.6v.6h-.6zM56.5 197h.6v.6h-.6zM57.5 197h.6v.6h-.6zM59 197h.6v.6h-.6zM60 197h.6v.6h-.6zM61 197h.6v.6h-.6zM62 197h.6v.6h-.6zM62.5 197h.6v.6h-.6zM64 197h.6v.6h-.6zM65.5 197h.6v.6h-.6zM67.5 197h.6v.6h-.6zM70 197h.6v.6h-.6zM71 197h.6v.6h-.6zM71.5 197h.6v.6h-.6zM73 197h.6v.6h-.6zM74.5 197h.6v.6h-.6zM75 197h.6v.6h-.6zM76 197h.6v.6h-.6zM77 197h.6v.6h-.6zM77.5 197h.6v.6h-.6zM80 197h.6v.6h-.6zM80.5 197h.6v.6h-.6zM85 197h.6v.6h-.6zM87.5 197h.6v.6h-.6zM45.5 197.5h.6v.6h-.6zM51 197.5h.6v.6h-.6zM56 197.5h.6v.6h-.6zM59.5 197.5h.6v.6h-.6zM63.5 197.5h.6v.6h-.6zM66 197.5h.6v.6h-.6zM71.5 197.5h.6v.6h-.6zM72.5 197.5h.6v.6h-.6zM73 197.5h.6v.6h-.6zM73.5 197.5h.6v.6h-.6zM76 197.5h.6v.6h-.6zM77 197.5h.6v.6h-.6zM77.5 197.5h.6v.6h-.6zM78 197.5h.6v.6h-.6zM78.5 197.5h.6v.6h-.6zM80.5 197.5h.6v.6h-.6zM81 197.5h.6v.6h-.6zM82.5 197.5h.6v.6h-.6zM87 197.5h.6v.6h-.6zM94.5 197.5h.6v.6h-.6zM51.5 198h.6v.6h-.6zM53.5 198h.6v.6h-.6zM55 198h.6v.6h-.6zM56 198h.6v.6h-.6zM56.5 198h.6v.6h-.6zM57 198h.6v.6h-.6zM58.5 198h.6v.6h-.6zM59 198h.6v.6h-.6zM61.5 198h.6v.6h-.6zM62 198h.6v.6h-.6zM62.5 198h.6v.6h-.6zM63 198h.6v.6h-.6zM64.5 198h.6v.6h-.6zM66 198h.6v.6h-.6zM67.5 198h.6v.6h-.6zM69 198h.6v.6h-.6zM70.5 198h.6v.6h-.6zM71.5 198h.6v.6h-.6zM73 198h.6v.6h-.6zM73.5 198h.6v.6h-.6zM74 198h.6v.6h-.6zM74.5 198h.6v.6h-.6zM77.5 198h.6v.6h-.6zM78 198h.6v.6h-.6zM79.5 198h.6v.6h-.6zM83.5 198h.6v.6h-.6zM85.5 198h.6v.6h-.6zM88.5 198h.6v.6h-.6zM91.5 198h.6v.6h-.6zM43.5 198.5h.6v.6h-.6zM47 198.5h.6v.6h-.6zM53.5 198.5h.6v.6h-.6zM54 198.5h.6v.6h-.6zM55.5 198.5h.6v.6h-.6zM57.5 198.5h.6v.6h-.6zM59.5 198.5h.6v.6h-.6zM60 198.5h.6v.6h-.6zM62 198.5h.6v.6h-.6zM64.5 198.5h.6v.6h-.6zM68 198.5h.6v.6h-.6zM68.5 198.5h.6v.6h-.6zM69.5 198.5h.6v.6h-.6zM70 198.5h.6v.6h-.6zM75.5 198.5h.6v.6h-.6zM76 198.5h.6v.6h-.6zM77.5 198.5h.6v.6h-.6zM79 198.5h.6v.6h-.6zM79.5 198.5h.6v.6h-.6zM81 198.5h.6v.6h-.6zM81.5 198.5h.6v.6h-.6zM83 198.5h.6v.6h-.6zM86.5 198.5h.6v.6h-.6zM94 198.5h.6v.6h-.6zM45 199h.6v.6h-.6zM47 199h.6v.6h-.6zM48 199h.6v.6h-.6zM52.5 199h.6v.6h-.6zM53.5 199h.6v.6h-.6zM55 199h.6v.6h-.6zM59 199h.6v.6h-.6zM60 199h.6v.6h-.6zM63 199h.6v.6h-.6zM63.5 199h.6v.6h-.6zM65 199h.6v.6h-.6zM65.5 199h.6v.6h-.6zM68.5 199h.6v.6h-.6zM70 199h.6v.6h-.6zM70.5 199h.6v.6h-.6zM71.5 199h.6v.6h-.6zM72.5 199h.6v.6h-.6zM76 199h.6v.6h-.6zM78 199h.6v.6h-.6zM79.5 199h.6v.6h-.6zM81 199h.6v.6h-.6zM82 199h.6v.6h-.6zM83 199h.6v.6h-.6zM85 199h.6v.6h-.6zM93 199h.6v.6h-.6zM51 199.5h.6v.6h-.6zM51.5 199.5h.6v.6h-.6zM54 199.5h.6v.6h-.6zM54.5 199.5h.6v.6h-.6zM59.5 199.5h.6v.6h-.6zM61 199.5h.6v.6h-.6zM63 199.5h.6v.6h-.6zM66 199.5h.6v.6h-.6zM66.5 199.5h.6v.6h-.6zM67.5 199.5h.6v.6h-.6zM68.5 199.5h.6v.6h-.6zM69 199.5h.6v.6h-.6zM69.5 199.5h.6v.6h-.6zM70 199.5h.6v.6h-.6zM71 199.5h.6v.6h-.6zM72.5 199.5h.6v.6h-.6zM73 199.5h.6v.6h-.6zM73.5 199.5h.6v.6h-.6zM74 199.5h.6v.6h-.6zM74.5 199.5h.6v.6h-.6zM75 199.5h.6v.6h-.6zM76.5 199.5h.6v.6h-.6zM77 199.5h.6v.6h-.6zM77.5 199.5h.6v.6h-.6zM79.5 199.5h.6v.6h-.6zM81 199.5h.6v.6h-.6zM81.5 199.5h.6v.6h-.6zM82.5 199.5h.6v.6h-.6zM85.5 199.5h.6v.6h-.6zM92.5 199.5h.6v.6h-.6zM48.5 200h.6v.6h-.6zM49.5 200h.6v.6h-.6zM52.5 200h.6v.6h-.6zM59.5 200h.6v.6h-.6zM62 200h.6v.6h-.6zM65.5 200h.6v.6h-.6zM69.5 200h.6v.6h-.6zM70.5 200h.6v.6h-.6zM71.5 200h.6v.6h-.6zM72 200h.6v.6h-.6zM73.5 200h.6v.6h-.6zM74.5 200h.6v.6h-.6zM76 200h.6v.6h-.6zM78 200h.6v.6h-.6zM81.5 200h.6v.6h-.6zM83 200h.6v.6h-.6zM84.5 200h.6v.6h-.6zM85 200h.6v.6h-.6zM88.5 200h.6v.6h-.6zM48.5 200.5h.6v.6h-.6zM53 200.5h.6v.6h-.6zM55.5 200.5h.6v.6h-.6zM57.5 200.5h.6v.6h-.6zM58 200.5h.6v.6h-.6zM59 200.5h.6v.6h-.6zM59.5 200.5h.6v.6h-.6zM60 200.5h.6v.6h-.6zM65 200.5h.6v.6h-.6zM66 200.5h.6v.6h-.6zM67 200.5h.6v.6h-.6zM67.5 200.5h.6v.6h-.6zM68 200.5h.6v.6h-.6zM70 200.5h.6v.6h-.6zM70.5 200.5h.6v.6h-.6zM71 200.5h.6v.6h-.6zM72.5 200.5h.6v.6h-.6zM77.5 200.5h.6v.6h-.6zM79 200.5h.6v.6h-.6zM80.5 200.5h.6v.6h-.6zM81 200.5h.6v.6h-.6zM81.5 200.5h.6v.6h-.6zM82 200.5h.6v.6h-.6zM83 200.5h.6v.6h-.6zM84 200.5h.6v.6h-.6zM85.5 200.5h.6v.6h-.6zM49.5 201h.6v.6h-.6zM51.5 201h.6v.6h-.6zM52 201h.6v.6h-.6zM53 201h.6v.6h-.6zM56 201h.6v.6h-.6zM58 201h.6v.6h-.6zM58.5 201h.6v.6h-.6zM59 201h.6v.6h-.6zM62.5 201h.6v.6h-.6zM65 201h.6v.6h-.6zM66.5 201h.6v.6h-.6zM72.5 201h.6v.6h-.6zM73.5 201h.6v.6h-.6zM75.5 201h.6v.6h-.6zM76.5 201h.6v.6h-.6zM77 201h.6v.6h-.6zM79 201h.6v.6h-.6zM80 201h.6v.6h-.6zM81 201h.6v.6h-.6zM82.5 201h.6v.6h-.6zM83.5 201h.6v.6h-.6zM84 201h.6v.6h-.6zM87.5 201h.6v.6h-.6zM89.5 201h.6v.6h-.6zM90 201h.6v.6h-.6zM33 201.5h.6v.6h-.6zM46.5 201.5h.6v.6h-.6zM48.5 201.5h.6v.6h-.6zM49 201.5h.6v.6h-.6zM50.5 201.5h.6v.6h-.6zM52.5 201.5h.6v.6h-.6zM54.5 201.5h.6v.6h-.6zM57 201.5h.6v.6h-.6zM59 201.5h.6v.6h-.6zM61 201.5h.6v.6h-.6zM63 201.5h.6v.6h-.6zM64 201.5h.6v.6h-.6zM64.5 201.5h.6v.6h-.6zM66 201.5h.6v.6h-.6zM68 201.5h.6v.6h-.6zM69 201.5h.6v.6h-.6zM70 201.5h.6v.6h-.6zM72.5 201.5h.6v.6h-.6zM74 201.5h.6v.6h-.6zM75 201.5h.6v.6h-.6zM76.5 201.5h.6v.6h-.6zM77.5 201.5h.6v.6h-.6zM78 201.5h.6v.6h-.6zM80.5 201.5h.6v.6h-.6zM81 201.5h.6v.6h-.6zM83 201.5h.6v.6h-.6zM86 201.5h.6v.6h-.6zM87 201.5h.6v.6h-.6zM88.5 201.5h.6v.6h-.6zM50 202h.6v.6h-.6zM50.5 202h.6v.6h-.6zM53.5 202h.6v.6h-.6zM54.5 202h.6v.6h-.6zM57.5 202h.6v.6h-.6zM60.5 202h.6v.6h-.6zM64.5 202h.6v.6h-.6zM65 202h.6v.6h-.6zM65.5 202h.6v.6h-.6zM66.5 202h.6v.6h-.6zM67.5 202h.6v.6h-.6zM72 202h.6v.6h-.6zM74 202h.6v.6h-.6zM75 202h.6v.6h-.6zM77 202h.6v.6h-.6zM78.5 202h.6v.6h-.6zM79 202h.6v.6h-.6zM80.5 202h.6v.6h-.6zM83.5 202h.6v.6h-.6zM84 202h.6v.6h-.6zM91 202h.6v.6h-.6zM92.5 202h.6v.6h-.6zM53 202.5h.6v.6h-.6zM53.5 202.5h.6v.6h-.6zM59.5 202.5h.6v.6h-.6zM62 202.5h.6v.6h-.6zM64.5 202.5h.6v.6h-.6zM65 202.5h.6v.6h-.6zM66.5 202.5h.6v.6h-.6zM67.5 202.5h.6v.6h-.6zM70 202.5h.6v.6h-.6zM71.5 202.5h.6v.6h-.6zM75.5 202.5h.6v.6h-.6zM76.5 202.5h.6v.6h-.6zM78 202.5h.6v.6h-.6zM82 202.5h.6v.6h-.6zM82.5 202.5h.6v.6h-.6zM84.5 202.5h.6v.6h-.6zM51 203h.6v.6h-.6zM54 203h.6v.6h-.6zM57.5 203h.6v.6h-.6zM58 203h.6v.6h-.6zM61.5 203h.6v.6h-.6zM62.5 203h.6v.6h-.6zM63 203h.6v.6h-.6zM64 203h.6v.6h-.6zM66 203h.6v.6h-.6zM66.5 203h.6v.6h-.6zM67 203h.6v.6h-.6zM69 203h.6v.6h-.6zM72.5 203h.6v.6h-.6zM74.5 203h.6v.6h-.6zM75 203h.6v.6h-.6zM80 203h.6v.6h-.6zM81 203h.6v.6h-.6zM84 203h.6v.6h-.6zM85.5 203h.6v.6h-.6zM86.5 203h.6v.6h-.6zM47.5 203.5h.6v.6h-.6zM50.5 203.5h.6v.6h-.6zM51 203.5h.6v.6h-.6zM54.5 203.5h.6v.6h-.6zM57 203.5h.6v.6h-.6zM65.5 203.5h.6v.6h-.6zM66.5 203.5h.6v.6h-.6zM69 203.5h.6v.6h-.6zM70.5 203.5h.6v.6h-.6zM73.5 203.5h.6v.6h-.6zM75.5 203.5h.6v.6h-.6zM76.5 203.5h.6v.6h-.6zM77 203.5h.6v.6h-.6zM77.5 203.5h.6v.6h-.6zM80 203.5h.6v.6h-.6zM82.5 203.5h.6v.6h-.6zM86 203.5h.6v.6h-.6zM48.5 204h.6v.6h-.6zM51 204h.6v.6h-.6zM51.5 204h.6v.6h-.6zM57.5 204h.6v.6h-.6zM58 204h.6v.6h-.6zM58.5 204h.6v.6h-.6zM59.5 204h.6v.6h-.6zM60 204h.6v.6h-.6zM61 204h.6v.6h-.6zM62.5 204h.6v.6h-.6zM65.5 204h.6v.6h-.6zM66 204h.6v.6h-.6zM67.5 204h.6v.6h-.6zM69.5 204h.6v.6h-.6zM70 204h.6v.6h-.6zM70.5 204h.6v.6h-.6zM72.5 204h.6v.6h-.6zM73.5 204h.6v.6h-.6zM74 204h.6v.6h-.6zM76.5 204h.6v.6h-.6zM77 204h.6v.6h-.6zM78.5 204h.6v.6h-.6zM79.5 204h.6v.6h-.6zM83 204h.6v.6h-.6zM84 204h.6v.6h-.6zM84.5 204h.6v.6h-.6zM46 204.5h.6v.6h-.6zM49.5 204.5h.6v.6h-.6zM51.5 204.5h.6v.6h-.6zM54 204.5h.6v.6h-.6zM58 204.5h.6v.6h-.6zM64.5 204.5h.6v.6h-.6zM66 204.5h.6v.6h-.6zM67 204.5h.6v.6h-.6zM67.5 204.5h.6v.6h-.6zM69 204.5h.6v.6h-.6zM71 204.5h.6v.6h-.6zM71.5 204.5h.6v.6h-.6zM72.5 204.5h.6v.6h-.6zM75 204.5h.6v.6h-.6zM75.5 204.5h.6v.6h-.6zM76.5 204.5h.6v.6h-.6zM78.5 204.5h.6v.6h-.6zM83 204.5h.6v.6h-.6zM85.5 204.5h.6v.6h-.6zM55.5 205h.6v.6h-.6zM56 205h.6v.6h-.6zM61 205h.6v.6h-.6zM62.5 205h.6v.6h-.6zM63 205h.6v.6h-.6zM63.5 205h.6v.6h-.6zM64 205h.6v.6h-.6zM66.5 205h.6v.6h-.6zM69 205h.6v.6h-.6zM70.5 205h.6v.6h-.6zM72 205h.6v.6h-.6zM73 205h.6v.6h-.6zM74 205h.6v.6h-.6zM74.5 205h.6v.6h-.6zM75.5 205h.6v.6h-.6zM76 205h.6v.6h-.6zM78 205h.6v.6h-.6zM78.5 205h.6v.6h-.6zM80 205h.6v.6h-.6zM81 205h.6v.6h-.6zM82.5 205h.6v.6h-.6zM86.5 205h.6v.6h-.6zM87.5 205h.6v.6h-.6zM88.5 205h.6v.6h-.6zM90 205h.6v.6h-.6zM45 205.5h.6v.6h-.6zM51.5 205.5h.6v.6h-.6zM55.5 205.5h.6v.6h-.6zM56.5 205.5h.6v.6h-.6zM57.5 205.5h.6v.6h-.6zM58 205.5h.6v.6h-.6zM59 205.5h.6v.6h-.6zM61.5 205.5h.6v.6h-.6zM62 205.5h.6v.6h-.6zM64.5 205.5h.6v.6h-.6zM66.5 205.5h.6v.6h-.6zM70 205.5h.6v.6h-.6zM77 205.5h.6v.6h-.6zM78 205.5h.6v.6h-.6zM80.5 205.5h.6v.6h-.6zM81 205.5h.6v.6h-.6zM84 205.5h.6v.6h-.6zM84.5 205.5h.6v.6h-.6zM86.5 205.5h.6v.6h-.6zM49 206h.6v.6h-.6zM50 206h.6v.6h-.6zM56 206h.6v.6h-.6zM59 206h.6v.6h-.6zM59.5 206h.6v.6h-.6zM62.5 206h.6v.6h-.6zM63.5 206h.6v.6h-.6zM64.5 206h.6v.6h-.6zM65 206h.6v.6h-.6zM65.5 206h.6v.6h-.6zM66.5 206h.6v.6h-.6zM67 206h.6v.6h-.6zM68.5 206h.6v.6h-.6zM70 206h.6v.6h-.6zM75.5 206h.6v.6h-.6zM77 206h.6v.6h-.6zM82 206h.6v.6h-.6zM83.5 206h.6v.6h-.6zM85 206h.6v.6h-.6zM85.5 206h.6v.6h-.6zM86 206h.6v.6h-.6zM51.5 206.5h.6v.6h-.6zM52.5 206.5h.6v.6h-.6zM53 206.5h.6v.6h-.6zM55.5 206.5h.6v.6h-.6zM56 206.5h.6v.6h-.6zM58 206.5h.6v.6h-.6zM59.5 206.5h.6v.6h-.6zM60.5 206.5h.6v.6h-.6zM62.5 206.5h.6v.6h-.6zM65 206.5h.6v.6h-.6zM66 206.5h.6v.6h-.6zM68 206.5h.6v.6h-.6zM70 206.5h.6v.6h-.6zM71 206.5h.6v.6h-.6zM71.5 206.5h.6v.6h-.6zM72 206.5h.6v.6h-.6zM72.5 206.5h.6v.6h-.6zM75.5 206.5h.6v.6h-.6zM76 206.5h.6v.6h-.6zM76.5 206.5h.6v.6h-.6zM77 206.5h.6v.6h-.6zM77.5 206.5h.6v.6h-.6zM78.5 206.5h.6v.6h-.6zM81.5 206.5h.6v.6h-.6zM85.5 206.5h.6v.6h-.6zM94 206.5h.6v.6h-.6zM48.5 207h.6v.6h-.6zM55 207h.6v.6h-.6zM58 207h.6v.6h-.6zM59 207h.6v.6h-.6zM59.5 207h.6v.6h-.6zM64.5 207h.6v.6h-.6zM66.5 207h.6v.6h-.6zM67 207h.6v.6h-.6zM69 207h.6v.6h-.6zM73 207h.6v.6h-.6zM75.5 207h.6v.6h-.6zM77 207h.6v.6h-.6zM79.5 207h.6v.6h-.6zM82.5 207h.6v.6h-.6zM85.5 207h.6v.6h-.6zM88.5 207h.6v.6h-.6zM54 207.5h.6v.6h-.6zM57 207.5h.6v.6h-.6zM58.5 207.5h.6v.6h-.6zM59 207.5h.6v.6h-.6zM60.5 207.5h.6v.6h-.6zM61 207.5h.6v.6h-.6zM61.5 207.5h.6v.6h-.6zM62 207.5h.6v.6h-.6zM64.5 207.5h.6v.6h-.6zM65 207.5h.6v.6h-.6zM65.5 207.5h.6v.6h-.6zM67 207.5h.6v.6h-.6zM69 207.5h.6v.6h-.6zM70.5 207.5h.6v.6h-.6zM73 207.5h.6v.6h-.6zM74.5 207.5h.6v.6h-.6zM76.5 207.5h.6v.6h-.6zM78 207.5h.6v.6h-.6zM78.5 207.5h.6v.6h-.6zM80 207.5h.6v.6h-.6zM53.5 208h.6v.6h-.6zM55 208h.6v.6h-.6zM56.5 208h.6v.6h-.6zM59 208h.6v.6h-.6zM60 208h.6v.6h-.6zM63.5 208h.6v.6h-.6zM64.5 208h.6v.6h-.6zM67 208h.6v.6h-.6zM70.5 208h.6v.6h-.6zM72 208h.6v.6h-.6zM74 208h.6v.6h-.6zM75 208h.6v.6h-.6zM76 208h.6v.6h-.6zM77.5 208h.6v.6h-.6zM81.5 208h.6v.6h-.6zM83.5 208h.6v.6h-.6zM84 208h.6v.6h-.6zM84.5 208h.6v.6h-.6zM54 208.5h.6v.6h-.6zM59 208.5h.6v.6h-.6zM60.5 208.5h.6v.6h-.6zM62 208.5h.6v.6h-.6zM63 208.5h.6v.6h-.6zM64.5 208.5h.6v.6h-.6zM65.5 208.5h.6v.6h-.6zM68.5 208.5h.6v.6h-.6zM69 208.5h.6v.6h-.6zM69.5 208.5h.6v.6h-.6zM71.5 208.5h.6v.6h-.6zM74 208.5h.6v.6h-.6zM76 208.5h.6v.6h-.6zM77.5 208.5h.6v.6h-.6zM78.5 208.5h.6v.6h-.6zM79 208.5h.6v.6h-.6zM80 208.5h.6v.6h-.6zM81.5 208.5h.6v.6h-.6zM84.5 208.5h.6v.6h-.6zM87.5 208.5h.6v.6h-.6zM100.5 208.5h.6v.6h-.6zM55.5 209h.6v.6h-.6zM56.5 209h.6v.6h-.6zM58 209h.6v.6h-.6zM58.5 209h.6v.6h-.6zM59.5 209h.6v.6h-.6zM61 209h.6v.6h-.6zM61.5 209h.6v.6h-.6zM62 209h.6v.6h-.6zM63 209h.6v.6h-.6zM63.5 209h.6v.6h-.6zM65.5 209h.6v.6h-.6zM68.5 209h.6v.6h-.6zM71 209h.6v.6h-.6zM72 209h.6v.6h-.6zM73.5 209h.6v.6h-.6zM74 209h.6v.6h-.6zM78.5 209h.6v.6h-.6zM79.5 209h.6v.6h-.6zM46.5 209.5h.6v.6h-.6zM50 209.5h.6v.6h-.6zM53 209.5h.6v.6h-.6zM55 209.5h.6v.6h-.6zM56.5 209.5h.6v.6h-.6zM58 209.5h.6v.6h-.6zM58.5 209.5h.6v.6h-.6zM60.5 209.5h.6v.6h-.6zM61 209.5h.6v.6h-.6zM61.5 209.5h.6v.6h-.6zM62 209.5h.6v.6h-.6zM64 209.5h.6v.6h-.6zM64.5 209.5h.6v.6h-.6zM67.5 209.5h.6v.6h-.6zM69 209.5h.6v.6h-.6zM71 209.5h.6v.6h-.6zM73.5 209.5h.6v.6h-.6zM74 209.5h.6v.6h-.6zM75 209.5h.6v.6h-.6zM76 209.5h.6v.6h-.6zM77 209.5h.6v.6h-.6zM78 209.5h.6v.6h-.6zM78.5 209.5h.6v.6h-.6zM82.5 209.5h.6v.6h-.6zM42 210h.6v.6h-.6zM49.5 210h.6v.6h-.6zM55 210h.6v.6h-.6zM57 210h.6v.6h-.6zM58.5 210h.6v.6h-.6zM59 210h.6v.6h-.6zM59.5 210h.6v.6h-.6zM60 210h.6v.6h-.6zM62.5 210h.6v.6h-.6zM63.5 210h.6v.6h-.6zM65.5 210h.6v.6h-.6zM67.5 210h.6v.6h-.6zM68 210h.6v.6h-.6zM68.5 210h.6v.6h-.6zM69.5 210h.6v.6h-.6zM70 210h.6v.6h-.6zM73 210h.6v.6h-.6zM75 210h.6v.6h-.6zM76 210h.6v.6h-.6zM77 210h.6v.6h-.6zM78.5 210h.6v.6h-.6zM80 210h.6v.6h-.6zM81 210h.6v.6h-.6zM83.5 210h.6v.6h-.6zM84 210h.6v.6h-.6zM98 210h.6v.6h-.6zM52 210.5h.6v.6h-.6zM55.5 210.5h.6v.6h-.6zM56 210.5h.6v.6h-.6zM58 210.5h.6v.6h-.6zM60 210.5h.6v.6h-.6zM63 210.5h.6v.6h-.6zM64 210.5h.6v.6h-.6zM64.5 210.5h.6v.6h-.6zM66 210.5h.6v.6h-.6zM67 210.5h.6v.6h-.6zM68.5 210.5h.6v.6h-.6zM72.5 210.5h.6v.6h-.6zM73.5 210.5h.6v.6h-.6zM74 210.5h.6v.6h-.6zM77 210.5h.6v.6h-.6zM79.5 210.5h.6v.6h-.6zM80 210.5h.6v.6h-.6zM85.5 210.5h.6v.6h-.6zM53 211h.6v.6h-.6zM58 211h.6v.6h-.6zM58.5 211h.6v.6h-.6zM60.5 211h.6v.6h-.6zM61 211h.6v.6h-.6zM61.5 211h.6v.6h-.6zM64 211h.6v.6h-.6zM64.5 211h.6v.6h-.6zM69 211h.6v.6h-.6zM73 211h.6v.6h-.6zM74.5 211h.6v.6h-.6zM75 211h.6v.6h-.6zM77.5 211h.6v.6h-.6zM80 211h.6v.6h-.6zM81.5 211h.6v.6h-.6zM83.5 211h.6v.6h-.6zM84.5 211h.6v.6h-.6zM86 211h.6v.6h-.6zM91 211h.6v.6h-.6zM48 211.5h.6v.6h-.6zM51 211.5h.6v.6h-.6zM56 211.5h.6v.6h-.6zM57 211.5h.6v.6h-.6zM60.5 211.5h.6v.6h-.6zM61.5 211.5h.6v.6h-.6zM63.5 211.5h.6v.6h-.6zM65 211.5h.6v.6h-.6zM70 211.5h.6v.6h-.6zM70.5 211.5h.6v.6h-.6zM71 211.5h.6v.6h-.6zM74.5 211.5h.6v.6h-.6zM75.5 211.5h.6v.6h-.6zM76 211.5h.6v.6h-.6zM77.5 211.5h.6v.6h-.6zM78.5 211.5h.6v.6h-.6zM79 211.5h.6v.6h-.6zM81 211.5h.6v.6h-.6zM81.5 211.5h.6v.6h-.6zM82 211.5h.6v.6h-.6zM82.5 211.5h.6v.6h-.6zM85 211.5h.6v.6h-.6zM86 211.5h.6v.6h-.6zM52.5 212h.6v.6h-.6zM55 212h.6v.6h-.6zM57.5 212h.6v.6h-.6zM60 212h.6v.6h-.6zM62.5 212h.6v.6h-.6zM63 212h.6v.6h-.6zM64.5 212h.6v.6h-.6zM66 212h.6v.6h-.6zM66.5 212h.6v.6h-.6zM68 212h.6v.6h-.6zM70 212h.6v.6h-.6zM73 212h.6v.6h-.6zM74.5 212h.6v.6h-.6zM81 212h.6v.6h-.6zM88.5 212h.6v.6h-.6zM52 212.5h.6v.6h-.6zM52.5 212.5h.6v.6h-.6zM54.5 212.5h.6v.6h-.6zM62.5 212.5h.6v.6h-.6zM63 212.5h.6v.6h-.6zM64.5 212.5h.6v.6h-.6zM72.5 212.5h.6v.6h-.6zM73 212.5h.6v.6h-.6zM74 212.5h.6v.6h-.6zM74.5 212.5h.6v.6h-.6zM80 212.5h.6v.6h-.6zM50.5 213h.6v.6h-.6zM51 213h.6v.6h-.6zM53.5 213h.6v.6h-.6zM54.5 213h.6v.6h-.6zM55.5 213h.6v.6h-.6zM56.5 213h.6v.6h-.6zM58.5 213h.6v.6h-.6zM62 213h.6v.6h-.6zM65 213h.6v.6h-.6zM66 213h.6v.6h-.6zM67.5 213h.6v.6h-.6zM68.5 213h.6v.6h-.6zM69 213h.6v.6h-.6zM72 213h.6v.6h-.6zM72.5 213h.6v.6h-.6zM73.5 213h.6v.6h-.6zM75.5 213h.6v.6h-.6zM76 213h.6v.6h-.6zM78.5 213h.6v.6h-.6zM82 213h.6v.6h-.6zM83.5 213h.6v.6h-.6zM49 213.5h.6v.6h-.6zM58 213.5h.6v.6h-.6zM59 213.5h.6v.6h-.6zM60.5 213.5h.6v.6h-.6zM61.5 213.5h.6v.6h-.6zM62 213.5h.6v.6h-.6zM64.5 213.5h.6v.6h-.6zM66 213.5h.6v.6h-.6zM68.5 213.5h.6v.6h-.6zM69.5 213.5h.6v.6h-.6zM70 213.5h.6v.6h-.6zM70.5 213.5h.6v.6h-.6zM71 213.5h.6v.6h-.6zM72 213.5h.6v.6h-.6zM73 213.5h.6v.6h-.6zM73.5 213.5h.6v.6h-.6zM74 213.5h.6v.6h-.6zM74.5 213.5h.6v.6h-.6zM76 213.5h.6v.6h-.6zM80 213.5h.6v.6h-.6zM81 213.5h.6v.6h-.6zM82 213.5h.6v.6h-.6zM84.5 213.5h.6v.6h-.6zM53.5 214h.6v.6h-.6zM61.5 214h.6v.6h-.6zM62.5 214h.6v.6h-.6zM64 214h.6v.6h-.6zM66 214h.6v.6h-.6zM66.5 214h.6v.6h-.6zM69 214h.6v.6h-.6zM71 214h.6v.6h-.6zM72.5 214h.6v.6h-.6zM75 214h.6v.6h-.6zM75.5 214h.6v.6h-.6zM76 214h.6v.6h-.6zM80 214h.6v.6h-.6zM62 214.5h.6v.6h-.6zM63.5 214.5h.6v.6h-.6zM65.5 214.5h.6v.6h-.6zM66 214.5h.6v.6h-.6zM67.5 214.5h.6v.6h-.6zM68.5 214.5h.6v.6h-.6zM70.5 214.5h.6v.6h-.6zM72.5 214.5h.6v.6h-.6zM73 214.5h.6v.6h-.6zM78 214.5h.6v.6h-.6zM87 214.5h.6v.6h-.6zM57 215h.6v.6h-.6zM57.5 215h.6v.6h-.6zM59 215h.6v.6h-.6zM60 215h.6v.6h-.6zM60.5 215h.6v.6h-.6zM65.5 215h.6v.6h-.6zM66.5 215h.6v.6h-.6zM74 215h.6v.6h-.6zM79 215h.6v.6h-.6zM80.5 215h.6v.6h-.6zM81 215h.6v.6h-.6zM49 215.5h.6v.6h-.6zM50 215.5h.6v.6h-.6zM53.5 215.5h.6v.6h-.6zM55.5 215.5h.6v.6h-.6zM57 215.5h.6v.6h-.6zM60.5 215.5h.6v.6h-.6zM61 215.5h.6v.6h-.6zM63.5 215.5h.6v.6h-.6zM69 215.5h.6v.6h-.6zM70 215.5h.6v.6h-.6zM70.5 215.5h.6v.6h-.6zM75 215.5h.6v.6h-.6zM80.5 215.5h.6v.6h-.6zM81 215.5h.6v.6h-.6zM82 215.5h.6v.6h-.6zM57 216h.6v.6h-.6zM57.5 216h.6v.6h-.6zM58 216h.6v.6h-.6zM59.5 216h.6v.6h-.6zM60 216h.6v.6h-.6zM62 216h.6v.6h-.6zM69 216h.6v.6h-.6zM71 216h.6v.6h-.6zM75 216h.6v.6h-.6zM76 216h.6v.6h-.6zM76.5 216h.6v.6h-.6zM77 216h.6v.6h-.6zM77.5 216h.6v.6h-.6zM78.5 216h.6v.6h-.6zM80 216h.6v.6h-.6zM81.5 216h.6v.6h-.6zM87.5 216h.6v.6h-.6zM56 216.5h.6v.6h-.6zM68.5 216.5h.6v.6h-.6zM70.5 216.5h.6v.6h-.6zM71.5 216.5h.6v.6h-.6zM72 216.5h.6v.6h-.6zM78 216.5h.6v.6h-.6zM78.5 216.5h.6v.6h-.6zM82.5 216.5h.6v.6h-.6zM57 217h.6v.6h-.6zM57.5 217h.6v.6h-.6zM59.5 217h.6v.6h-.6zM60 217h.6v.6h-.6zM61 217h.6v.6h-.6zM64 217h.6v.6h-.6zM70 217h.6v.6h-.6zM72.5 217h.6v.6h-.6zM73 217h.6v.6h-.6zM77 217h.6v.6h-.6zM80 217h.6v.6h-.6zM49.5 217.5h.6v.6h-.6zM59.5 217.5h.6v.6h-.6zM63.5 217.5h.6v.6h-.6zM64.5 217.5h.6v.6h-.6zM66.5 217.5h.6v.6h-.6zM67 217.5h.6v.6h-.6zM68 217.5h.6v.6h-.6zM69.5 217.5h.6v.6h-.6zM75 217.5h.6v.6h-.6zM76 217.5h.6v.6h-.6zM76.5 217.5h.6v.6h-.6zM77 217.5h.6v.6h-.6zM78 217.5h.6v.6h-.6zM83 217.5h.6v.6h-.6zM84 217.5h.6v.6h-.6zM85 217.5h.6v.6h-.6zM40 218h.6v.6h-.6zM47 218h.6v.6h-.6zM64 218h.6v.6h-.6zM67 218h.6v.6h-.6zM67.5 218h.6v.6h-.6zM72 218h.6v.6h-.6zM73 218h.6v.6h-.6zM75 218h.6v.6h-.6zM75.5 218h.6v.6h-.6zM76.5 218h.6v.6h-.6zM52 218.5h.6v.6h-.6zM58.5 218.5h.6v.6h-.6zM61.5 218.5h.6v.6h-.6zM64 218.5h.6v.6h-.6zM64.5 218.5h.6v.6h-.6zM65 218.5h.6v.6h-.6zM69 218.5h.6v.6h-.6zM77.5 218.5h.6v.6h-.6zM80 218.5h.6v.6h-.6zM82.5 218.5h.6v.6h-.6zM84.5 218.5h.6v.6h-.6zM54 219h.6v.6h-.6zM64 219h.6v.6h-.6zM69 219h.6v.6h-.6zM69.5 219h.6v.6h-.6zM71.5 219h.6v.6h-.6zM72 219h.6v.6h-.6zM73 219h.6v.6h-.6zM74 219h.6v.6h-.6zM79 219h.6v.6h-.6zM81 219h.6v.6h-.6zM95.5 219h.6v.6h-.6zM43.5 219.5h.6v.6h-.6zM57.5 219.5h.6v.6h-.6zM60 219.5h.6v.6h-.6zM67.5 219.5h.6v.6h-.6zM69 219.5h.6v.6h-.6zM70 219.5h.6v.6h-.6zM81 219.5h.6v.6h-.6zM91.5 219.5h.6v.6h-.6zM46.5 220h.6v.6h-.6zM61.5 220h.6v.6h-.6zM62.5 220h.6v.6h-.6zM66 220h.6v.6h-.6zM66.5 220h.6v.6h-.6zM69.5 220h.6v.6h-.6zM70.5 220h.6v.6h-.6zM76 220h.6v.6h-.6zM78.5 220h.6v.6h-.6zM85 220h.6v.6h-.6zM93 220h.6v.6h-.6zM60 220.5h.6v.6h-.6zM62.5 220.5h.6v.6h-.6zM77 220.5h.6v.6h-.6zM81 220.5h.6v.6h-.6zM81.5 220.5h.6v.6h-.6zM85.5 220.5h.6v.6h-.6zM89 220.5h.6v.6h-.6zM91 220.5h.6v.6h-.6zM94.5 220.5h.6v.6h-.6zM95 220.5h.6v.6h-.6zM45.5 221h.6v.6h-.6zM57 221h.6v.6h-.6zM61 221h.6v.6h-.6zM65 221h.6v.6h-.6zM68.5 221h.6v.6h-.6zM70 221h.6v.6h-.6zM72.5 221h.6v.6h-.6zM73 221h.6v.6h-.6zM78 221h.6v.6h-.6zM84 221h.6v.6h-.6zM86.5 221h.6v.6h-.6zM102 221h.6v.6h-.6zM69.5 221.5h.6v.6h-.6zM70 221.5h.6v.6h-.6zM71.5 221.5h.6v.6h-.6zM72 221.5h.6v.6h-.6zM72.5 221.5h.6v.6h-.6zM74 221.5h.6v.6h-.6zM78.5 221.5h.6v.6h-.6zM79.5 221.5h.6v.6h-.6zM81 221.5h.6v.6h-.6zM82.5 221.5h.6v.6h-.6zM83 221.5h.6v.6h-.6zM83.5 221.5h.6v.6h-.6zM59.5 222h.6v.6h-.6zM67 222h.6v.6h-.6zM74 222h.6v.6h-.6zM78 222h.6v.6h-.6zM78.5 222h.6v.6h-.6zM55 222.5h.6v.6h-.6zM56 222.5h.6v.6h-.6zM73.5 222.5h.6v.6h-.6zM77 222.5h.6v.6h-.6zM83 222.5h.6v.6h-.6zM61.5 223h.6v.6h-.6zM68 223h.6v.6h-.6zM72 223h.6v.6h-.6zM88 223h.6v.6h-.6zM56 223.5h.6v.6h-.6zM60 223.5h.6v.6h-.6zM64 223.5h.6v.6h-.6zM72.5 223.5h.6v.6h-.6zM76.5 223.5h.6v.6h-.6zM81.5 223.5h.6v.6h-.6zM83.5 223.5h.6v.6h-.6zM88.5 223.5h.6v.6h-.6zM89 223.5h.6v.6h-.6zM56 224h.6v.6h-.6zM57.5 224h.6v.6h-.6zM69.5 224h.6v.6h-.6zM91 224h.6v.6h-.6zM60 224.5h.6v.6h-.6zM65.5 224.5h.6v.6h-.6zM74 224.5h.6v.6h-.6zM75 224.5h.6v.6h-.6zM64 225h.6v.6h-.6zM65 225h.6v.6h-.6zM78.5 225h.6v.6h-.6zM79 225h.6v.6h-.6zM60.5 225.5h.6v.6h-.6zM68 225.5h.6v.6h-.6zM70 225.5h.6v.6h-.6zM72.5 225.5h.6v.6h-.6zM77 225.5h.6v.6h-.6zM78 225.5h.6v.6h-.6zM82.5 225.5h.6v.6h-.6zM95.5 225.5h.6v.6h-.6zM47 226h.6v.6h-.6zM48.5 226h.6v.6h-.6zM61.5 226h.6v.6h-.6zM69 226h.6v.6h-.6zM79.5 226h.6v.6h-.6zM62.5 226.5h.6v.6h-.6zM69.5 226.5h.6v.6h-.6zM71.5 226.5h.6v.6h-.6zM82 226.5h.6v.6h-.6zM88 226.5h.6v.6h-.6zM91.5 226.5h.6v.6h-.6zM79 227h.6v.6h-.6zM109 227h.6v.6h-.6zM57 227.5h.6v.6h-.6zM64 227.5h.6v.6h-.6zM78 227.5h.6v.6h-.6zM80.5 227.5h.6v.6h-.6zM64.5 228h.6v.6h-.6zM71.5 228h.6v.6h-.6zM72 228h.6v.6h-.6zM73.5 228h.6v.6h-.6zM74 228h.6v.6h-.6zM75.5 228h.6v.6h-.6zM77 228h.6v.6h-.6zM90 228h.6v.6h-.6zM54.5 228.5h.6v.6h-.6zM56.5 228.5h.6v.6h-.6zM59 228.5h.6v.6h-.6zM65 228.5h.6v.6h-.6zM66 228.5h.6v.6h-.6zM72.5 228.5h.6v.6h-.6zM73.5 228.5h.6v.6h-.6zM83 228.5h.6v.6h-.6zM72.5 229h.6v.6h-.6zM83.5 229h.6v.6h-.6zM85 229h.6v.6h-.6zM86.5 229h.6v.6h-.6zM94.5 229h.6v.6h-.6zM97.5 229h.6v.6h-.6zM66 229.5h.6v.6h-.6zM72 229.5h.6v.6h-.6zM75 229.5h.6v.6h-.6zM84.5 229.5h.6v.6h-.6zM89 229.5h.6v.6h-.6zM51.5 230h.6v.6h-.6zM52 230h.6v.6h-.6zM59.5 230h.6v.6h-.6zM61.5 230h.6v.6h-.6zM75 230h.6v.6h-.6zM76.5 230h.6v.6h-.6zM62 230.5h.6v.6h-.6zM67.5 230.5h.6v.6h-.6zM68 230.5h.6v.6h-.6zM79.5 230.5h.6v.6h-.6zM87 230.5h.6v.6h-.6zM94 230.5h.6v.6h-.6zM32.5 231h.6v.6h-.6zM54 231h.6v.6h-.6zM56.5 231h.6v.6h-.6zM61.5 231h.6v.6h-.6zM64 231h.6v.6h-.6zM77.5 231h.6v.6h-.6zM51 232h.6v.6h-.6zM56 232h.6v.6h-.6zM86 232h.6v.6h-.6zM104.5 232h.6v.6h-.6zM47.5 232.5h.6v.6h-.6zM68.5 232.5h.6v.6h-.6zM94.5 232.5h.6v.6h-.6zM54 233h.6v.6h-.6zM74 233h.6v.6h-.6zM82 233h.6v.6h-.6zM84.5 233h.6v.6h-.6zM85 233h.6v.6h-.6zM97.5 233h.6v.6h-.6zM46 233.5h.6v.6h-.6zM73 233.5h.6v.6h-.6zM89 233.5h.6v.6h-.6zM95 233.5h.6v.6h-.6zM60.5 234h.6v.6h-.6zM68 234h.6v.6h-.6zM73.5 234h.6v.6h-.6zM78.5 234h.6v.6h-.6zM79 234h.6v.6h-.6zM80.5 234h.6v.6h-.6zM90 234h.6v.6h-.6zM105 234h.6v.6h-.6zM59.5 234.5h.6v.6h-.6zM65 234.5h.6v.6h-.6zM76 234.5h.6v.6h-.6zM85.5 235h.6v.6h-.6zM64.5 235.5h.6v.6h-.6zM70.5 235.5h.6v.6h-.6zM72 235.5h.6v.6h-.6zM74.5 235.5h.6v.6h-.6zM78.5 235.5h.6v.6h-.6zM79 235.5h.6v.6h-.6zM82.5 235.5h.6v.6h-.6zM59.5 236h.6v.6h-.6zM85.5 236h.6v.6h-.6zM62.5 236.5h.6v.6h-.6zM76.5 236.5h.6v.6h-.6zM58.5 237h.6v.6h-.6zM75.5 237.5h.6v.6h-.6zM42 238h.6v.6h-.6zM92 238.5h.6v.6h-.6zM68 239h.6v.6h-.6zM88.5 239h.6v.6h-.6zM94 239h.6v.6h-.6zM52 239.5h.6v.6h-.6zM54.5 239.5h.6v.6h-.6zM74 239.5h.6v.6h-.6zM83.5 239.5h.6v.6h-.6zM72 240h.6v.6h-.6zM58.5 241h.6v.6h-.6zM70 241.5h.6v.6h-.6zM80 242h.6v.6h-.6zM70 242.5h.6v.6h-.6zM60.5 243.5h.6v.6h-.6zM77.5 245h.6v.6h-.6z" fill="#111" fill-opacity="0.8"/>
<path d="M71 161h.6v.6h-.6zM90 170h.6v.6h-.6zM61.5 172h.6v.6h-.6zM86 175h.6v.6h-.6zM98 177h.6v.6h-.6zM63 181h.6v.6h-.6zM55 181.5h.6v.6h-.6zM65 181.5h.6v.6h-.6zM67 181.5h.6v.6h-.6zM72.5 181.5h.6v.6h-.6zM62 182.5h.6v.6h-.6zM70 182.5h.6v.6h-.6zM76.5 182.5h.6v.6h-.6zM82 182.5h.6v.6h-.6zM87 182.5h.6v.6h-.6zM65 183.5h.6v.6h-.6zM68 183.5h.6v.6h-.6zM72.5 184h.6v.6h-.6zM78.5 184h.6v.6h-.6zM57 184.5h.6v.6h-.6zM64.5 184.5h.6v.6h-.6zM66.5 184.5h.6v.6h-.6zM67 184.5h.6v.6h-.6zM71.5 184.5h.6v.6h-.6zM73.5 184.5h.6v.6h-.6zM51.5 185h.6v.6h-.6zM63 185h.6v.6h-.6zM80 185h.6v.6h-.6zM53.5 185.5h.6v.6h-.6zM55.5 185.5h.6v.6h-.6zM60 185.5h.6v.6h-.6zM68.5 185.5h.6v.6h-.6zM73 185.5h.6v.6h-.6zM75.5 185.5h.6v.6h-.6zM65.5 186h.6v.6h-.6zM73.5 186h.6v.6h-.6zM52.5 186.5h.6v.6h-.6zM72 186.5h.6v.6h-.6zM75.5 186.5h.6v.6h-.6zM77 186.5h.6v.6h-.6zM77.5 186.5h.6v.6h-.6zM47.5 187h.6v.6h-.6zM65 187h.6v.6h-.6zM68 187h.6v.6h-.6zM69.5 187h.6v.6h-.6zM71.5 187h.6v.6h-.6zM72 187h.6v.6h-.6zM73.5 187h.6v.6h-.6zM82 187h.6v.6h-.6zM57.5 187.5h.6v.6h-.6zM60.5 187.5h.6v.6h-.6zM62.5 187.5h.6v.6h-.6zM65 187.5h.6v.6h-.6zM77.5 187.5h.6v.6h-.6zM79 187.5h.6v.6h-.6zM81.5 187.5h.6v.6h-.6zM59 188h.6v.6h-.6zM65 188h.6v.6h-.6zM65.5 188h.6v.6h-.6zM66 188h.6v.6h-.6zM66.5 188h.6v.6h-.6zM75.5 188h.6v.6h-.6zM86 188h.6v.6h-.6zM89 188h.6v.6h-.6zM55.5 188.5h.6v.6h-.6zM62.5 188.5h.6v.6h-.6zM72 188.5h.6v.6h-.6zM79 188.5h.6v.6h-.6zM84 188.5h.6v.6h-.6zM56 189h.6v.6h-.6zM61.5 189h.6v.6h-.6zM64 189h.6v.6h-.6zM67 189h.6v.6h-.6zM68 189h.6v.6h-.6zM69.5 189h.6v.6h-.6zM75.5 189h.6v.6h-.6zM77 189h.6v.6h-.6zM78.5 189h.6v.6h-.6zM81.5 189h.6v.6h-.6zM51.5 189.5h.6v.6h-.6zM58 189.5h.6v.6h-.6zM60 189.5h.6v.6h-.6zM61 189.5h.6v.6h-.6zM64 189.5h.6v.6h-.6zM65 189.5h.6v.6h-.6zM69 189.5h.6v.6h-.6zM69.5 189.5h.6v.6h-.6zM71 189.5h.6v.6h-.6zM71.5 189.5h.6v.6h-.6zM73 189.5h.6v.6h-.6zM74 189.5h.6v.6h-.6zM76 189.5h.6v.6h-.6zM78 189.5h.6v.6h-.6zM79 189.5h.6v.6h-.6zM48.5 190h.6v.6h-.6zM53 190h.6v.6h-.6zM58 190h.6v.6h-.6zM61 190h.6v.6h-.6zM64.5 190h.6v.6h-.6zM65.5 190h.6v.6h-.6zM67.5 190h.6v.6h-.6zM68 190h.6v.6h-.6zM68.5 190h.6v.6h-.6zM74 190h.6v.6h-.6zM85.5 190h.6v.6h-.6zM92 190h.6v.6h-.6zM53.5 190.5h.6v.6h-.6zM62 190.5h.6v.6h-.6zM62.5 190.5h.6v.6h-.6zM65.5 190.5h.6v.6h-.6zM66.5 190.5h.6v.6h-.6zM67 190.5h.6v.6h-.6zM71 190.5h.6v.6h-.6zM73.5 190.5h.6v.6h-.6zM74 190.5h.6v.6h-.6zM79.5 190.5h.6v.6h-.6zM81.5 190.5h.6v.6h-.6zM82.5 190.5h.6v.6h-.6zM84.5 190.5h.6v.6h-.6zM85.5 190.5h.6v.6h-.6zM53 191h.6v.6h-.6zM54.5 191h.6v.6h-.6zM56.5 191h.6v.6h-.6zM59 191h.6v.6h-.6zM60.5 191h.6v.6h-.6zM61 191h.6v.6h-.6zM64 191h.6v.6h-.6zM64.5 191h.6v.6h-.6zM65.5 191h.6v.6h-.6zM67 191h.6v.6h-.6zM68.5 191h.6v.6h-.6zM69.5 191h.6v.6h-.6zM71 191h.6v.6h-.6zM72 191h.6v.6h-.6zM72.5 191h.6v.6h-.6zM73.5 191h.6v.6h-.6zM75 191h.6v.6h-.6zM75.5 191h.6v.6h-.6zM76 191h.6v.6h-.6zM78 191h.6v.6h-.6zM79.5 191h.6v.6h-.6zM81.5 191h.6v.6h-.6zM83 191h.6v.6h-.6zM94 191h.6v.6h-.6zM56.5 191.5h.6v.6h-.6zM60.5 191.5h.6v.6h-.6zM63 191.5h.6v.6h-.6zM68.5 191.5h.6v.6h-.6zM74 191.5h.6v.6h-.6zM74.5 191.5h.6v.6h-.6zM77.5 191.5h.6v.6h-.6zM80 191.5h.6v.6h-.6zM85 191.5h.6v.6h-.6zM45 192h.6v.6h-.6zM48.5 192h.6v.6h-.6zM53 192h.6v.6h-.6zM56 192h.6v.6h-.6zM65 192h.6v.6h-.6zM66.5 192h.6v.6h-.6zM67 192h.6v.6h-.6zM68 192h.6v.6h-.6zM75 192h.6v.6h-.6zM77 192h.6v.6h-.6zM78.5 192h.6v.6h-.6zM87 192h.6v.6h-.6zM47.5 192.5h.6v.6h-.6zM54 192.5h.6v.6h-.6zM54.5 192.5h.6v.6h-.6zM60.5 192.5h.6v.6h-.6zM65.5 192.5h.6v.6h-.6zM66 192.5h.6v.6h-.6zM69.5 192.5h.6v.6h-.6zM74.5 192.5h.6v.6h-.6zM75 192.5h.6v.6h-.6zM76 192.5h.6v.6h-.6zM78 192.5h.6v.6h-.6zM82 192.5h.6v.6h-.6zM84 192.5h.6v.6h-.6zM87.5 192.5h.6v.6h-.6zM55.5 193h.6v.6h-.6zM59.5 193h.6v.6h-.6zM61.5 193h.6v.6h-.6zM62.5 193h.6v.6h-.6zM63 193h.6v.6h-.6zM69 193h.6v.6h-.6zM72 193h.6v.6h-.6zM73 193h.6v.6h-.6zM74 193h.6v.6h-.6zM75.5 193h.6v.6h-.6zM76 193h.6v.6h-.6zM79 193h.6v.6h-.6zM80 193h.6v.6h-.6zM81.5 193h.6v.6h-.6zM82 193h.6v.6h-.6zM83.5 193h.6v.6h-.6zM84 193h.6v.6h-.6zM92 193h.6v.6h-.6zM99 193h.6v.6h-.6zM50.5 193.5h.6v.6h-.6zM53.5 193.5h.6v.6h-.6zM56 193.5h.6v.6h-.6zM57 193.5h.6v.6h-.6zM62 193.5h.6v.6h-.6zM62.5 193.5h.6v.6h-.6zM63 193.5h.6v.6h-.6zM63.5 193.5h.6v.6h-.6zM65.5 193.5h.6v.6h-.6zM66 193.5h.6v.6h-.6zM66.5 193.5h.6v.6h-.6zM67 193.5h.6v.6h-.6zM70 193.5h.6v.6h-.6zM71 193.5h.6v.6h-.6zM71.5 193.5h.6v.6h-.6zM75 193.5h.6v.6h-.6zM75.5 193.5h.6v.6h-.6zM79.5 193.5h.6v.6h-.6zM83 193.5h.6v.6h-.6zM86.5 193.5h.6v.6h-.6zM90 193.5h.6v.6h-.6zM50 194h.6v.6h-.6zM55.5 194h.6v.6h-.6zM60 194h.6v.6h-.6zM60.5 194h.6v.6h-.6zM62.5 194h.6v.6h-.6zM63.5 194h.6v.6h-.6zM64.5 194h.6v.6h-.6zM65 194h.6v.6h-.6zM65.5 194h.6v.6h-.6zM67 194h.6v.6h-.6zM68.5 194h.6v.6h-.6zM69.5 194h.6v.6h-.6zM71.5 194h.6v.6h-.6zM73 194h.6v.6h-.6zM76.5 194h.6v.6h-.6zM77.5 194h.6v.6h-.6zM78 194h.6v.6h-.6zM79.5 194h.6v.6h-.6zM80 194h.6v.6h-.6zM80.5 194h.6v.6h-.6zM81.5 194h.6v.6h-.6zM83 194h.6v.6h-.6zM84.5 194h.6v.6h-.6zM52.5 194.5h.6v.6h-.6zM54 194.5h.6v.6h-.6zM57 194.5h.6v.6h-.6zM60 194.5h.6v.6h-.6zM61.5 194.5h.6v.6h-.6zM62.5 194.5h.6v.6h-.6zM64 194.5h.6v.6h-.6zM65 194.5h.6v.6h-.6zM66 194.5h.6v.6h-.6zM67 194.5h.6v.6h-.6zM68.5 194.5h.6v.6h-.6zM69 194.5h.6v.6h-.6zM70 194.5h.6v.6h-.6zM71.5 194.5h.6v.6h-.6zM74.5 194.5h.6v.6h-.6zM75 194.5h.6v.6h-.6zM75.5 194.5h.6v.6h-.6zM76 194.5h.6v.6h-.6zM80 194.5h.6v.6h-.6zM80.5 194.5h.6v.6h-.6zM82.5 194.5h.6v.6h-.6zM84 194.5h.6v.6h-.6zM91 194.5h.6v.6h-.6zM49 195h.6v.6h-.6zM51 195h.6v.6h-.6zM58.5 195h.6v.6h-.6zM60 195h.6v.6h-.6zM61.5 195h.6v.6h-.6zM62.5 195h.6v.6h-.6zM63 195h.6v.6h-.6zM65 195h.6v.6h-.6zM67.5 195h.6v.6h-.6zM68.5 195h.6v.6h-.6zM69.5 195h.6v.6h-.6zM70.5 195h.6v.6h-.6zM73 195h.6v.6h-.6zM74.5 195h.6v.6h-.6zM75.5 195h.6v.6h-.6zM76.5 195h.6v.6h-.6zM77.5 195h.6v.6h-.6zM80 195h.6v.6h-.6zM83.5 195h.6v.6h-.6zM89.5 195h.6v.6h-.6zM46.5 195.5h.6v.6h-.6zM49 195.5h.6v.6h-.6zM50 195.5h.6v.6h-.6zM55 195.5h.6v.6h-.6zM56.5 195.5h.6v.6h-.6zM61.5 195.5h.6v.6h-.6zM64 195.5h.6v.6h-.6zM65 195.5h.6v.6h-.6zM69.5 195.5h.6v.6h-.6zM70 195.5h.6v.6h-.6zM71 195.5h.6v.6h-.6zM72 195.5h.6v.6h-.6zM72.5 195.5h.6v.6h-.6zM73.5 195.5h.6v.6h-.6zM74 195.5h.6v.6h-.6zM76 195.5h.6v.6h-.6zM76.5 195.5h.6v.6h-.6zM79 195.5h.6v.6h-.6zM80.5 195.5h.6v.6h-.6zM83 195.5h.6v.6h-.6zM84.5 195.5h.6v.6h-.6zM85.5 195.5h.6v.6h-.6zM49.5 196h.6v.6h-.6zM52 196h.6v.6h-.6zM53.5 196h.6v.6h-.6zM54 196h.6v.6h-.6zM55 196h.6v.6h-.6zM55.5 196h.6v.6h-.6zM57 196h.6v.6h-.6zM57.5 196h.6v.6h-.6zM59 196h.6v.6h-.6zM61 196h.6v.6h-.6zM62 196h.6v.6h-.6zM62.5 196h.6v.6h-.6zM63 196h.6v.6h-.6zM63.5 196h.6v.6h-.6zM66 196h.6v.6h-.6zM67 196h.6v.6h-.6zM68.5 196h.6v.6h-.6zM69.5 196h.6v.6h-.6zM75.5 196h.6v.6h-.6zM82.5 196h.6v.6h-.6zM85 196h.6v.6h-.6zM88 196h.6v.6h-.6zM94.5 196h.6v.6h-.6zM45.5 196.5h.6v.6h-.6zM49.5 196.5h.6v.6h-.6zM51 196.5h.6v.6h-.6zM52 196.5h.6v.6h-.6zM53 196.5h.6v.6h-.6zM54.5 196.5h.6v.6h-.6zM55.5 196.5h.6v.6h-.6zM56.5 196.5h.6v.6h-.6zM57 196.5h.6v.6h-.6zM60 196.5h.6v.6h-.6zM61 196.5h.6v.6h-.6zM64.5 196.5h.6v.6h-.6zM67.5 196.5h.6v.6h-.6zM68 196.5h.6v.6h-.6zM68.5 196.5h.6v.6h-.6zM69 196.5h.6v.6h-.6zM70.5 196.5h.6v.6h-.6zM71 196.5h.6v.6h-.6zM75 196.5h.6v.6h-.6zM75.5 196.5h.6v.6h-.6zM76 196.5h.6v.6h-.6zM76.5 196.5h.6v.6h-.6zM77 196.5h.6v.6h-.6zM85 196.5h.6v.6h-.6zM90.5 196.5h.6v.6h-.6zM91 196.5h.6v.6h-.6zM37 197h.6v.6h-.6zM48.5 197h.6v.6h-.6zM51 197h.6v.6h-.6zM53.5 197h.6v.6h-.6zM54 197h.6v.6h-.6zM57 197h.6v.6h-.6zM58 197h.6v.6h-.6zM59.5 197h.6v.6h-.6zM60.5 197h.6v.6h-.6zM63 197h.6v.6h-.6zM64.5 197h.6v.6h-.6zM66.5 197h.6v.6h-.6zM67 197h.6v.6h-.6zM68 197h.6v.6h-.6zM68.5 197h.6v.6h-.6zM76.5 197h.6v.6h-.6zM78 197h.6v.6h-.6zM78.5 197h.6v.6h-.6zM79.5 197h.6v.6h-.6zM81 197h.6v.6h-.6zM83 197h.6v.6h-.6zM84.5 197h.6v.6h-.6zM87 197h.6v.6h-.6zM90.5 197h.6v.6h-.6zM47.5 197.5h.6v.6h-.6zM49.5 197.5h.6v.6h-.6zM51.5 197.5h.6v.6h-.6zM52 197.5h.6v.6h-.6zM52.5 197.5h.6v.6h-.6zM55.5 197.5h.6v.6h-.6zM56.5 197.5h.6v.6h-.6zM58 197.5h.6v.6h-.6zM59 197.5h.6v.6h-.6zM60 197.5h.6v.6h-.6zM61 197.5h.6v.6h-.6zM64 197.5h.6v.6h-.6zM65 197.5h.6v.6h-.6zM65.5 197.5h.6v.6h-.6zM67 197.5h.6v.6h-.6zM67.5 197.5h.6v.6h-.6zM68 197.5h.6v.6h-.6zM69 197.5h.6v.6h-.6zM70.5 197.5h.6v.6h-.6zM72 197.5h.6v.6h-.6zM74.5 197.5h.6v.6h-.6zM75.5 197.5h.6v.6h-.6zM80 197.5h.6v.6h-.6zM81.5 197.5h.6v.6h-.6zM83 197.5h.6v.6h-.6zM83.5 197.5h.6v.6h-.6zM89 197.5h.6v.6h-.6zM52.5 198h.6v.6h-.6zM54.5 198h.6v.6h-.6zM57.5 198h.6v.6h-.6zM60 198h.6v.6h-.6zM60.5 198h.6v.6h-.6zM61 198h.6v.6h-.6zM63.5 198h.6v.6h-.6zM65 198h.6v.6h-.6zM67 198h.6v.6h-.6zM68.5 198h.6v.6h-.6zM70 198h.6v.6h-.6zM71 198h.6v.6h-.6zM76 198h.6v.6h-.6zM78.5 198h.6v.6h-.6zM80 198h.6v.6h-.6zM81 198h.6v.6h-.6zM81.5 198h.6v.6h-.6zM82.5 198h.6v.6h-.6zM101.5 198h.6v.6h-.6zM55 198.5h.6v.6h-.6zM56 198.5h.6v.6h-.6zM58.5 198.5h.6v.6h-.6zM61 198.5h.6v.6h-.6zM64 198.5h.6v.6h-.6zM65.5 198.5h.6v.6h-.6zM67.5 198.5h.6v.6h-.6zM69 198.5h.6v.6h-.6zM71.5 198.5h.6v.6h-.6zM74 198.5h.6v.6h-.6zM74.5 198.5h.6v.6h-.6zM75 198.5h.6v.6h-.6zM76.5 198.5h.6v.6h-.6zM78 198.5h.6v.6h-.6zM80 198.5h.6v.6h-.6zM82 198.5h.6v.6h-.6zM95.5 198.5h.6v.6h-.6zM42 199h.6v.6h-.6zM51 199h.6v.6h-.6zM54.5 199h.6v.6h-.6zM59.5 199h.6v.6h-.6zM61 199h.6v.6h-.6zM64.5 199h.6v.6h-.6zM66 199h.6v.6h-.6zM67 199h.6v.6h-.6zM72 199h.6v.6h-.6zM73.5 199h.6v.6h-.6zM74 199h.6v.6h-.6zM74.5 199h.6v.6h-.6zM75.5 199h.6v.6h-.6zM76.5 199h.6v.6h-.6zM84 199h.6v.6h-.6zM86 199h.6v.6h-.6zM89.5 199h.6v.6h-.6zM48 199.5h.6v.6h-.6zM50.5 199.5h.6v.6h-.6zM53 199.5h.6v.6h-.6zM55 199.5h.6v.6h-.6zM56.5 199.5h.6v.6h-.6zM60.5 199.5h.6v.6h-.6zM61.5 199.5h.6v.6h-.6zM62 199.5h.6v.6h-.6zM62.5 199.5h.6v.6h-.6zM63.5 199.5h.6v.6h-.6zM64 199.5h.6v.6h-.6zM64.5 199.5h.6v.6h-.6zM65.5 199.5h.6v.6h-.6zM68 199.5h.6v.6h-.6zM70.5 199.5h.6v.6h-.6zM71.5 199.5h.6v.6h-.6zM72 199.5h.6v.6h-.6zM75.5 199.5h.6v.6h-.6zM76 199.5h.6v.6h-.6zM78.5 199.5h.6v.6h-.6zM80 199.5h.6v.6h-.6zM85 199.5h.6v.6h-.6zM43 200h.6v.6h-.6zM50 200h.6v.6h-.6zM51 200h.6v.6h-.6zM51.5 200h.6v.6h-.6zM52 200h.6v.6h-.6zM58 200h.6v.6h-.6zM60 200h.6v.6h-.6zM60.5 200h.6v.6h-.6zM63.5 200h.6v.6h-.6zM66.5 200h.6v.6h-.6zM69 200h.6v.6h-.6zM70 200h.6v.6h-.6zM74 200h.6v.6h-.6zM77 200h.6v.6h-.6zM77.5 200h.6v.6h-.6zM79 200h.6v.6h-.6zM79.5 200h.6v.6h-.6zM82 200h.6v.6h-.6zM83.5 200h.6v.6h-.6zM86.5 200h.6v.6h-.6zM94.5 200h.6v.6h-.6zM47.5 200.5h.6v.6h-.6zM51 200.5h.6v.6h-.6zM51.5 200.5h.6v.6h-.6zM53.5 200.5h.6v.6h-.6zM58.5 200.5h.6v.6h-.6zM60.5 200.5h.6v.6h-.6zM62 200.5h.6v.6h-.6zM62.5 200.5h.6v.6h-.6zM65.5 200.5h.6v.6h-.6zM69.5 200.5h.6v.6h-.6zM71.5 200.5h.6v.6h-.6zM72 200.5h.6v.6h-.6zM74 200.5h.6v.6h-.6zM74.5 200.5h.6v.6h-.6zM75.5 200.5h.6v.6h-.6zM76 200.5h.6v.6h-.6zM78.5 200.5h.6v.6h-.6zM86 200.5h.6v.6h-.6zM86.5 200.5h.6v.6h-.6zM53.5 201h.6v.6h-.6zM54 201h.6v.6h-.6zM59.5 201h.6v.6h-.6zM60.5 201h.6v.6h-.6zM61 201h.6v.6h-.6zM61.5 201h.6v.6h-.6zM63 201h.6v.6h-.6zM64 201h.6v.6h-.6zM65.5 201h.6v.6h-.6zM66 201h.6v.6h-.6zM67 201h.6v.6h-.6zM68 201h.6v.6h-.6zM69.5 201h.6v.6h-.6zM71.5 201h.6v.6h-.6zM74.5 201h.6v.6h-.6zM76 201h.6v.6h-.6zM78.5 201h.6v.6h-.6zM85.5 201h.6v.6h-.6zM106 201h.6v.6h-.6zM38 201.5h.6v.6h-.6zM47 201.5h.6v.6h-.6zM50 201.5h.6v.6h-.6zM51 201.5h.6v.6h-.6zM52 201.5h.6v.6h-.6zM55.5 201.5h.6v.6h-.6zM60 201.5h.6v.6h-.6zM62.5 201.5h.6v.6h-.6zM63.5 201.5h.6v.6h-.6zM66.5 201.5h.6v.6h-.6zM67.5 201.5h.6v.6h-.6zM69.5 201.5h.6v.6h-.6zM72 201.5h.6v.6h-.6zM74.5 201.5h.6v.6h-.6zM75.5 201.5h.6v.6h-.6zM76 201.5h.6v.6h-.6zM77 201.5h.6v.6h-.6zM78.5 201.5h.6v.6h-.6zM43 202h.6v.6h-.6zM47 202h.6v.6h-.6zM49.5 202h.6v.6h-.6zM56 202h.6v.6h-.6zM57 202h.6v.6h-.6zM58.5 202h.6v.6h-.6zM61.5 202h.6v.6h-.6zM64 202h.6v.6h-.6zM66 202h.6v.6h-.6zM67 202h.6v.6h-.6zM68.5 202h.6v.6h-.6zM70 202h.6v.6h-.6zM73 202h.6v.6h-.6zM74.5 202h.6v.6h-.6zM75.5 202h.6v.6h-.6zM77.5 202h.6v.6h-.6zM78 202h.6v.6h-.6zM79.5 202h.6v.6h-.6zM82.5 202h.6v.6h-.6zM88 202h.6v.6h-.6zM90.5 202h.6v.6h-.6zM51.5 202.5h.6v.6h-.6zM52 202.5h.6v.6h-.6zM55.5 202.5h.6v.6h-.6zM56 202.5h.6v.6h-.6zM58 202.5h.6v.6h-.6zM60.5 202.5h.6v.6h-.6zM61 202.5h.6v.6h-.6zM62.5 202.5h.6v.6h-.6zM67 202.5h.6v.6h-.6zM68.5 202.5h.6v.6h-.6zM70.5 202.5h.6v.6h-.6zM72 202.5h.6v.6h-.6zM72.5 202.5h.6v.6h-.6zM73 202.5h.6v.6h-.6zM73.5 202.5h.6v.6h-.6zM79.5 202.5h.6v.6h-.6zM80.5 202.5h.6v.6h-.6zM81 202.5h.6v.6h-.6zM81.5 202.5h.6v.6h-.6zM83 202.5h.6v.6h-.6zM83.5 202.5h.6v.6h-.6zM88.5 202.5h.6v.6h-.6zM91 202.5h.6v.6h-.6zM48.5 203h.6v.6h-.6zM54.5 203h.6v.6h-.6zM58.5 203h.6v.6h-.6zM59.5 203h.6v.6h-.6zM60.5 203h.6v.6h-.6zM61 203h.6v.6h-.6zM62 203h.6v.6h-.6zM63.5 203h.6v.6h-.6zM64.5 203h.6v.6h-.6zM68 203h.6v.6h-.6zM69.5 203h.6v.6h-.6zM70.5 203h.6v.6h-.6zM72 203h.6v.6h-.6zM73 203h.6v.6h-.6zM74 203h.6v.6h-.6zM76 203h.6v.6h-.6zM77.5 203h.6v.6h-.6zM78 203h.6v.6h-.6zM78.5 203h.6v.6h-.6zM79 203h.6v.6h-.6zM79.5 203h.6v.6h-.6zM80.5 203h.6v.6h-.6zM44.5 203.5h.6v.6h-.6zM46.5 203.5h.6v.6h-.6zM52 203.5h.6v.6h-.6zM55.5 203.5h.6v.6h-.6zM57.5 203.5h.6v.6h-.6zM58 203.5h.6v.6h-.6zM59.5 203.5h.6v.6h-.6zM60 203.5h.6v.6h-.6zM63.5 203.5h.6v.6h-.6zM64 203.5h.6v.6h-.6zM66 203.5h.6v.6h-.6zM67.5 203.5h.6v.6h-.6zM68 203.5h.6v.6h-.6zM68.5 203.5h.6v.6h-.6zM69.5 203.5h.6v.6h-.6zM70 203.5h.6v.6h-.6zM72 203.5h.6v.6h-.6zM73 203.5h.6v.6h-.6zM76 203.5h.6v.6h-.6zM79 203.5h.6v.6h-.6zM79.5 203.5h.6v.6h-.6zM80.5 203.5h.6v.6h-.6zM84.5 203.5h.6v.6h-.6zM86.5 203.5h.6v.6h-.6zM48 204h.6v.6h-.6zM53.5 204h.6v.6h-.6zM55.5 204h.6v.6h-.6zM56 204h.6v.6h-.6zM59 204h.6v.6h-.6zM61.5 204h.6v.6h-.6zM62 204h.6v.6h-.6zM63.5 204h.6v.6h-.6zM64 204h.6v.6h-.6zM65 204h.6v.6h-.6zM66.5 204h.6v.6h-.6zM68 204h.6v.6h-.6zM69 204h.6v.6h-.6zM73 204h.6v.6h-.6zM77.5 204h.6v.6h-.6zM78 204h.6v.6h-.6zM81 204h.6v.6h-.6zM81.5 204h.6v.6h-.6zM82 204h.6v.6h-.6zM86 204h.6v.6h-.6zM87 204h.6v.6h-.6zM90.5 204h.6v.6h-.6zM46.5 204.5h.6v.6h-.6zM47 204.5h.6v.6h-.6zM52.5 204.5h.6v.6h-.6zM55 204.5h.6v.6h-.6zM56.5 204.5h.6v.6h-.6zM57 204.5h.6v.6h-.6zM58.5 204.5h.6v.6h-.6zM59 204.5h.6v.6h-.6zM60.5 204.5h.6v.6h-.6zM61.5 204.5h.6v.6h-.6zM62.5 204.5h.6v.6h-.6zM63.5 204.5h.6v.6h-.6zM64 204.5h.6v.6h-.6zM68 204.5h.6v.6h-.6zM70.5 204.5h.6v.6h-.6zM72 204.5h.6v.6h-.6zM73 204.5h.6v.6h-.6zM74 204.5h.6v.6h-.6zM76 204.5h.6v.6h-.6zM77 204.5h.6v.6h-.6zM80 204.5h.6v.6h-.6zM81 204.5h.6v.6h-.6zM82 204.5h.6v.6h-.6zM84 204.5h.6v.6h-.6zM84.5 204.5h.6v.6h-.6zM85 204.5h.6v.6h-.6zM87.5 204.5h.6v.6h-.6zM88 204.5h.6v.6h-.6zM90.5 204.5h.6v.6h-.6zM56.5 205h.6v.6h-.6zM57.5 205h.6v.6h-.6zM59 205h.6v.6h-.6zM61.5 205h.6v.6h-.6zM62 205h.6v.6h-.6zM65 205h.6v.6h-.6zM65.5 205h.6v.6h-.6zM67 205h.6v.6h-.6zM69.5 205h.6v.6h-.6zM71 205h.6v.6h-.6zM72.5 205h.6v.6h-.6zM77.5 205h.6v.6h-.6zM79 205h.6v.6h-.6zM81.5 205h.6v.6h-.6zM83.5 205h.6v.6h-.6zM53.5 205.5h.6v.6h-.6zM56 205.5h.6v.6h-.6zM57 205.5h.6v.6h-.6zM59.5 205.5h.6v.6h-.6zM60.5 205.5h.6v.6h-.6zM63 205.5h.6v.6h-.6zM63.5 205.5h.6v.6h-.6zM64 205.5h.6v.6h-.6zM66 205.5h.6v.6h-.6zM67 205.5h.6v.6h-.6zM68.5 205.5h.6v.6h-.6zM69 205.5h.6v.6h-.6zM70.5 205.5h.6v.6h-.6zM71.5 205.5h.6v.6h-.6zM72 205.5h.6v.6h-.6zM73 205.5h.6v.6h-.6zM73.5 205.5h.6v.6h-.6zM74.5 205.5h.6v.6h-.6zM77.5 205.5h.6v.6h-.6zM80 205.5h.6v.6h-.6zM82 205.5h.6v.6h-.6zM83 205.5h.6v.6h-.6zM85.5 205.5h.6v.6h-.6zM44 206h.6v.6h-.6zM52 206h.6v.6h-.6zM53 206h.6v.6h-.6zM56.5 206h.6v.6h-.6zM57 206h.6v.6h-.6zM58 206h.6v.6h-.6zM58.5 206h.6v.6h-.6zM60 206h.6v.6h-.6zM61.5 206h.6v.6h-.6zM67.5 206h.6v.6h-.6zM69.5 206h.6v.6h-.6zM71 206h.6v.6h-.6zM73 206h.6v.6h-.6zM73.5 206h.6v.6h-.6zM74 206h.6v.6h-.6zM74.5 206h.6v.6h-.6zM76 206h.6v.6h-.6zM78.5 206h.6v.6h-.6zM80.5 206h.6v.6h-.6zM87 206h.6v.6h-.6zM45.5 206.5h.6v.6h-.6zM52 206.5h.6v.6h-.6zM60 206.5h.6v.6h-.6zM61.5 206.5h.6v.6h-.6zM62 206.5h.6v.6h-.6zM63.5 206.5h.6v.6h-.6zM64 206.5h.6v.6h-.6zM64.5 206.5h.6v.6h-.6zM67 206.5h.6v.6h-.6zM67.5 206.5h.6v.6h-.6zM68.5 206.5h.6v.6h-.6zM69 206.5h.6v.6h-.6zM70.5 206.5h.6v.6h-.6zM79.5 206.5h.6v.6h-.6zM82.5 206.5h.6v.6h-.6zM83.5 206.5h.6v.6h-.6zM84 206.5h.6v.6h-.6zM86 206.5h.6v.6h-.6zM87.5 206.5h.6v.6h-.6zM44 207h.6v.6h-.6zM52.5 207h.6v.6h-.6zM56 207h.6v.6h-.6zM56.5 207h.6v.6h-.6zM57 207h.6v.6h-.6zM58.5 207h.6v.6h-.6zM60 207h.6v.6h-.6zM61 207h.6v.6h-.6zM62 207h.6v.6h-.6zM63 207h.6v.6h-.6zM63.5 207h.6v.6h-.6zM64 207h.6v.6h-.6zM66 207h.6v.6h-.6zM70 207h.6v.6h-.6zM72 207h.6v.6h-.6zM72.5 207h.6v.6h-.6zM74.5 207h.6v.6h-.6zM75 207h.6v.6h-.6zM81 207h.6v.6h-.6zM82 207h.6v.6h-.6zM83.5 207h.6v.6h-.6zM87.5 207h.6v.6h-.6zM53 207.5h.6v.6h-.6zM56.5 207.5h.6v.6h-.6zM57.5 207.5h.6v.6h-.6zM59.5 207.5h.6v.6h-.6zM60 207.5h.6v.6h-.6zM63 207.5h.6v.6h-.6zM63.5 207.5h.6v.6h-.6zM64 207.5h.6v.6h-.6zM67.5 207.5h.6v.6h-.6zM68 207.5h.6v.6h-.6zM69.5 207.5h.6v.6h-.6zM71.5 207.5h.6v.6h-.6zM72.5 207.5h.6v.6h-.6zM73.5 207.5h.6v.6h-.6zM75.5 207.5h.6v.6h-.6zM77.5 207.5h.6v.6h-.6zM81 207.5h.6v.6h-.6zM85 207.5h.6v.6h-.6zM59.5 208h.6v.6h-.6zM61.5 208h.6v.6h-.6zM65 208h.6v.6h-.6zM66.5 208h.6v.6h-.6zM68 208h.6v.6h-.6zM69 208h.6v.6h-.6zM71 208h.6v.6h-.6zM71.5 208h.6v.6h-.6zM72.5 208h.6v.6h-.6zM73.5 208h.6v.6h-.6zM75.5 208h.6v.6h-.6zM76.5 208h.6v.6h-.6zM78 208h.6v.6h-.6zM80 208h.6v.6h-.6zM82 208h.6v.6h-.6zM83 208h.6v.6h-.6zM91 208h.6v.6h-.6zM50 208.5h.6v.6h-.6zM54.5 208.5h.6v.6h-.6zM56.5 208.5h.6v.6h-.6zM61 208.5h.6v.6h-.6zM62.5 208.5h.6v.6h-.6zM66 208.5h.6v.6h-.6zM66.5 208.5h.6v.6h-.6zM70 208.5h.6v.6h-.6zM72 208.5h.6v.6h-.6zM72.5 208.5h.6v.6h-.6zM75 208.5h.6v.6h-.6zM75.5 208.5h.6v.6h-.6zM76.5 208.5h.6v.6h-.6zM81 208.5h.6v.6h-.6zM82.5 208.5h.6v.6h-.6zM48 209h.6v.6h-.6zM49 209h.6v.6h-.6zM56 209h.6v.6h-.6zM60.5 209h.6v.6h-.6zM62.5 209h.6v.6h-.6zM64 209h.6v.6h-.6zM66.5 209h.6v.6h-.6zM70.5 209h.6v.6h-.6zM71.5 209h.6v.6h-.6zM73 209h.6v.6h-.6zM83.5 209h.6v.6h-.6zM85.5 209h.6v.6h-.6zM88 209h.6v.6h-.6zM42.5 209.5h.6v.6h-.6zM55.5 209.5h.6v.6h-.6zM59 209.5h.6v.6h-.6zM59.5 209.5h.6v.6h-.6zM60 209.5h.6v.6h-.6zM62.5 209.5h.6v.6h-.6zM65 209.5h.6v.6h-.6zM65.5 209.5h.6v.6h-.6zM66 209.5h.6v.6h-.6zM66.5 209.5h.6v.6h-.6zM68 209.5h.6v.6h-.6zM68.5 209.5h.6v.6h-.6zM69.5 209.5h.6v.6h-.6zM70 209.5h.6v.6h-.6zM75.5 209.5h.6v.6h-.6zM76.5 209.5h.6v.6h-.6zM77.5 209.5h.6v.6h-.6zM79 209.5h.6v.6h-.6zM80.5 209.5h.6v.6h-.6zM81.5 209.5h.6v.6h-.6zM82 209.5h.6v.6h-.6zM83 209.5h.6v.6h-.6zM53.5 210h.6v.6h-.6zM56.5 210h.6v.6h-.6zM61 210h.6v.6h-.6zM61.5 210h.6v.6h-.6zM65 210h.6v.6h-.6zM66 210h.6v.6h-.6zM69 210h.6v.6h-.6zM70.5 210h.6v.6h-.6zM71.5 210h.6v.6h-.6zM72 210h.6v.6h-.6zM74.5 210h.6v.6h-.6zM75.5 210h.6v.6h-.6zM76.5 210h.6v.6h-.6zM77.5 210h.6v.6h-.6zM88 210h.6v.6h-.6zM88.5 210h.6v.6h-.6zM49 210.5h.6v.6h-.6zM54 210.5h.6v.6h-.6zM56.5 210.5h.6v.6h-.6zM57 210.5h.6v.6h-.6zM58.5 210.5h.6v.6h-.6zM65.5 210.5h.6v.6h-.6zM67.5 210.5h.6v.6h-.6zM68 210.5h.6v.6h-.6zM69.5 210.5h.6v.6h-.6zM71 210.5h.6v.6h-.6zM71.5 210.5h.6v.6h-.6zM72 210.5h.6v.6h-.6zM74.5 210.5h.6v.6h-.6zM75.5 210.5h.6v.6h-.6zM81 210.5h.6v.6h-.6zM88.5 210.5h.6v.6h-.6zM90.5 210.5h.6v.6h-.6zM54.5 211h.6v.6h-.6zM55 211h.6v.6h-.6zM55.5 211h.6v.6h-.6zM56.5 211h.6v.6h-.6zM59.5 211h.6v.6h-.6zM62.5 211h.6v.6h-.6zM65 211h.6v.6h-.6zM67 211h.6v.6h-.6zM68 211h.6v.6h-.6zM70 211h.6v.6h-.6zM70.5 211h.6v.6h-.6zM71 211h.6v.6h-.6zM72.5 211h.6v.6h-.6zM73.5 211h.6v.6h-.6zM74 211h.6v.6h-.6zM76.5 211h.6v.6h-.6zM79.5 211h.6v.6h-.6zM85 211h.6v.6h-.6zM86.5 211h.6v.6h-.6zM104.5 211h.6v.6h-.6zM54 211.5h.6v.6h-.6zM56.5 211.5h.6v.6h-.6zM57.5 211.5h.6v.6h-.6zM58 211.5h.6v.6h-.6zM59.5 211.5h.6v.6h-.6zM62 211.5h.6v.6h-.6zM63 211.5h.6v.6h-.6zM64 211.5h.6v.6h-.6zM67 211.5h.6v.6h-.6zM72 211.5h.6v.6h-.6zM73.5 211.5h.6v.6h-.6zM77 211.5h.6v.6h-.6zM78 211.5h.6v.6h-.6zM80.5 211.5h.6v.6h-.6zM50 212h.6v.6h-.6zM54 212h.6v.6h-.6zM56 212h.6v.6h-.6zM57 212h.6v.6h-.6zM58 212h.6v.6h-.6zM58.5 212h.6v.6h-.6zM59.5 212h.6v.6h-.6zM60.5 212h.6v.6h-.6zM61 212h.6v.6h-.6zM65 212h.6v.6h-.6zM67.5 212h.6v.6h-.6zM68.5 212h.6v.6h-.6zM71 212h.6v.6h-.6zM72 212h.6v.6h-.6zM73.5 212h.6v.6h-.6zM75 212h.6v.6h-.6zM76 212h.6v.6h-.6zM77 212h.6v.6h-.6zM79.5 212h.6v.6h-.6zM85 212h.6v.6h-.6zM86 212h.6v.6h-.6zM86.5 212h.6v.6h-.6zM53 212.5h.6v.6h-.6zM55 212.5h.6v.6h-.6zM58 212.5h.6v.6h-.6zM58.5 212.5h.6v.6h-.6zM59 212.5h.6v.6h-.6zM62 212.5h.6v.6h-.6zM65 212.5h.6v.6h-.6zM65.5 212.5h.6v.6h-.6zM66 212.5h.6v.6h-.6zM66.5 212.5h.6v.6h-.6zM67.5 212.5h.6v.6h-.6zM69.5 212.5h.6v.6h-.6zM70.5 212.5h.6v.6h-.6zM71.5 212.5h.6v.6h-.6zM72 212.5h.6v.6h-.6zM75.5 212.5h.6v.6h-.6zM76 212.5h.6v.6h-.6zM78.5 212.5h.6v.6h-.6zM82 212.5h.6v.6h-.6zM84 212.5h.6v.6h-.6zM85 212.5h.6v.6h-.6zM56 213h.6v.6h-.6zM57.5 213h.6v.6h-.6zM60.5 213h.6v.6h-.6zM61 213h.6v.6h-.6zM63 213h.6v.6h-.6zM65.5 213h.6v.6h-.6zM67 213h.6v.6h-.6zM68 213h.6v.6h-.6zM69.5 213h.6v.6h-.6zM70 213h.6v.6h-.6zM74.5 213h.6v.6h-.6zM77 213h.6v.6h-.6zM78 213h.6v.6h-.6zM79 213h.6v.6h-.6zM81 213h.6v.6h-.6zM96 213h.6v.6h-.6zM53.5 213.5h.6v.6h-.6zM62.5 213.5h.6v.6h-.6zM64 213.5h.6v.6h-.6zM77 213.5h.6v.6h-.6zM78 213.5h.6v.6h-.6zM78.5 213.5h.6v.6h-.6zM79.5 213.5h.6v.6h-.6zM83.5 213.5h.6v.6h-.6zM85 213.5h.6v.6h-.6zM86 213.5h.6v.6h-.6zM87 213.5h.6v.6h-.6zM90 213.5h.6v.6h-.6zM48 214h.6v.6h-.6zM55.5 214h.6v.6h-.6zM57.5 214h.6v.6h-.6zM59.5 214h.6v.6h-.6zM60 214h.6v.6h-.6zM61 214h.6v.6h-.6zM63 214h.6v.6h-.6zM68 214h.6v.6h-.6zM68.5 214h.6v.6h-.6zM70.5 214h.6v.6h-.6zM71.5 214h.6v.6h-.6zM73.5 214h.6v.6h-.6zM76.5 214h.6v.6h-.6zM78.5 214h.6v.6h-.6zM97.5 214h.6v.6h-.6zM54 214.5h.6v.6h-.6zM57 214.5h.6v.6h-.6zM64.5 214.5h.6v.6h-.6zM65 214.5h.6v.6h-.6zM66.5 214.5h.6v.6h-.6zM67 214.5h.6v.6h-.6zM69 214.5h.6v.6h-.6zM69.5 214.5h.6v.6h-.6zM77.5 214.5h.6v.6h-.6zM78.5 214.5h.6v.6h-.6zM79 214.5h.6v.6h-.6zM81.5 214.5h.6v.6h-.6zM83 214.5h.6v.6h-.6zM83.5 214.5h.6v.6h-.6zM84 214.5h.6v.6h-.6zM85 214.5h.6v.6h-.6zM86 214.5h.6v.6h-.6zM62.5 215h.6v.6h-.6zM63.5 215h.6v.6h-.6zM64 215h.6v.6h-.6zM64.5 215h.6v.6h-.6zM66 215h.6v.6h-.6zM68 215h.6v.6h-.6zM70 215h.6v.6h-.6zM70.5 215h.6v.6h-.6zM71 215h.6v.6h-.6zM71.5 215h.6v.6h-.6zM77.5 215h.6v.6h-.6zM78 215h.6v.6h-.6zM50.5 215.5h.6v.6h-.6zM55 215.5h.6v.6h-.6zM61.5 215.5h.6v.6h-.6zM62 215.5h.6v.6h-.6zM67 215.5h.6v.6h-.6zM72.5 215.5h.6v.6h-.6zM73.5 215.5h.6v.6h-.6zM74.5 215.5h.6v.6h-.6zM77.5 215.5h.6v.6h-.6zM63 216h.6v.6h-.6zM65 216h.6v.6h-.6zM68 216h.6v.6h-.6zM70 216h.6v.6h-.6zM75.5 216h.6v.6h-.6zM86 216h.6v.6h-.6zM86.5 216h.6v.6h-.6zM56.5 216.5h.6v.6h-.6zM57 216.5h.6v.6h-.6zM63.5 216.5h.6v.6h-.6zM66 216.5h.6v.6h-.6zM67.5 216.5h.6v.6h-.6zM73.5 216.5h.6v.6h-.6zM74.5 216.5h.6v.6h-.6zM79 216.5h.6v.6h-.6zM80 216.5h.6v.6h-.6zM81.5 216.5h.6v.6h-.6zM83.5 216.5h.6v.6h-.6zM91 216.5h.6v.6h-.6zM53 217h.6v.6h-.6zM54.5 217h.6v.6h-.6zM60.5 217h.6v.6h-.6zM65.5 217h.6v.6h-.6zM67 217h.6v.6h-.6zM71 217h.6v.6h-.6zM71.5 217h.6v.6h-.6zM73.5 217h.6v.6h-.6zM80.5 217h.6v.6h-.6zM54 217.5h.6v.6h-.6zM54.5 217.5h.6v.6h-.6zM58.5 217.5h.6v.6h-.6zM65 217.5h.6v.6h-.6zM71.5 217.5h.6v.6h-.6zM73 217.5h.6v.6h-.6zM77.5 217.5h.6v.6h-.6zM80.5 217.5h.6v.6h-.6zM81 217.5h.6v.6h-.6zM82 217.5h.6v.6h-.6zM84.5 217.5h.6v.6h-.6zM98 217.5h.6v.6h-.6zM54 218h.6v.6h-.6zM66 218h.6v.6h-.6zM68 218h.6v.6h-.6zM69.5 218h.6v.6h-.6zM71 218h.6v.6h-.6zM74 218h.6v.6h-.6zM77 218h.6v.6h-.6zM60.5 218.5h.6v.6h-.6zM61 218.5h.6v.6h-.6zM68 218.5h.6v.6h-.6zM72 218.5h.6v.6h-.6zM73 218.5h.6v.6h-.6zM76.5 218.5h.6v.6h-.6zM77 218.5h.6v.6h-.6zM78.5 218.5h.6v.6h-.6zM62.5 219h.6v.6h-.6zM67 219h.6v.6h-.6zM60.5 219.5h.6v.6h-.6zM63 219.5h.6v.6h-.6zM66.5 219.5h.6v.6h-.6zM67 219.5h.6v.6h-.6zM69.5 219.5h.6v.6h-.6zM70.5 219.5h.6v.6h-.6zM73 219.5h.6v.6h-.6zM76 219.5h.6v.6h-.6zM78 219.5h.6v.6h-.6zM57.5 220h.6v.6h-.6zM68 220h.6v.6h-.6zM70 220h.6v.6h-.6zM92.5 220h.6v.6h-.6zM61 220.5h.6v.6h-.6zM72 220.5h.6v.6h-.6zM79.5 220.5h.6v.6h-.6zM62.5 221h.6v.6h-.6zM74 221h.6v.6h-.6zM75.5 221h.6v.6h-.6zM78.5 221h.6v.6h-.6zM80 221h.6v.6h-.6zM82 221h.6v.6h-.6zM82.5 221h.6v.6h-.6zM100.5 221h.6v.6h-.6zM60 221.5h.6v.6h-.6zM68 221.5h.6v.6h-.6zM70.5 221.5h.6v.6h-.6zM73 221.5h.6v.6h-.6zM75.5 221.5h.6v.6h-.6zM68 222h.6v.6h-.6zM69.5 222h.6v.6h-.6zM72 222h.6v.6h-.6zM76 222h.6v.6h-.6zM80 222h.6v.6h-.6zM81 222h.6v.6h-.6zM91.5 222h.6v.6h-.6zM39 222.5h.6v.6h-.6zM65 222.5h.6v.6h-.6zM71.5 222.5h.6v.6h-.6zM75 222.5h.6v.6h-.6zM88.5 222.5h.6v.6h-.6zM112.5 222.5h.6v.6h-.6zM43 223h.6v.6h-.6zM54 223h.6v.6h-.6zM59.5 223h.6v.6h-.6zM65 223h.6v.6h-.6zM65.5 223h.6v.6h-.6zM69.5 223h.6v.6h-.6zM73.5 223h.6v.6h-.6zM78 223h.6v.6h-.6zM84 223h.6v.6h-.6zM53 223.5h.6v.6h-.6zM55 223.5h.6v.6h-.6zM66.5 223.5h.6v.6h-.6zM79.5 223.5h.6v.6h-.6zM108.5 223.5h.6v.6h-.6zM52.5 224h.6v.6h-.6zM66 224h.6v.6h-.6zM67.5 224h.6v.6h-.6zM75.5 224h.6v.6h-.6zM84 224h.6v.6h-.6zM86.5 224h.6v.6h-.6zM62 224.5h.6v.6h-.6zM64 224.5h.6v.6h-.6zM73 224.5h.6v.6h-.6zM77.5 224.5h.6v.6h-.6zM79.5 224.5h.6v.6h-.6zM83.5 224.5h.6v.6h-.6zM66 225h.6v.6h-.6zM73.5 225h.6v.6h-.6zM81 225h.6v.6h-.6zM85.5 225h.6v.6h-.6zM87 225h.6v.6h-.6zM88.5 225h.6v.6h-.6zM64 225.5h.6v.6h-.6zM71 225.5h.6v.6h-.6zM73.5 225.5h.6v.6h-.6zM81 225.5h.6v.6h-.6zM91.5 225.5h.6v.6h-.6zM105 225.5h.6v.6h-.6zM57 226h.6v.6h-.6zM68 226h.6v.6h-.6zM93 226h.6v.6h-.6zM96 226h.6v.6h-.6zM61 226.5h.6v.6h-.6zM62 226.5h.6v.6h-.6zM63.5 226.5h.6v.6h-.6zM65.5 226.5h.6v.6h-.6zM66 226.5h.6v.6h-.6zM67.5 226.5h.6v.6h-.6zM68 226.5h.6v.6h-.6zM73 226.5h.6v.6h-.6zM73.5 226.5h.6v.6h-.6zM76.5 226.5h.6v.6h-.6zM80.5 226.5h.6v.6h-.6zM84.5 226.5h.6v.6h-.6zM53.5 227h.6v.6h-.6zM65 227h.6v.6h-.6zM66.5 227h.6v.6h-.6zM68 227h.6v.6h-.6zM68.5 227h.6v.6h-.6zM71.5 227h.6v.6h-.6zM75 227h.6v.6h-.6zM81 227h.6v.6h-.6zM92.5 227h.6v.6h-.6zM62 227.5h.6v.6h-.6zM62.5 227.5h.6v.6h-.6zM63 227.5h.6v.6h-.6zM63.5 227.5h.6v.6h-.6zM66 227.5h.6v.6h-.6zM70 227.5h.6v.6h-.6zM73 227.5h.6v.6h-.6zM75 227.5h.6v.6h-.6zM76.5 227.5h.6v.6h-.6zM91 227.5h.6v.6h-.6zM92 227.5h.6v.6h-.6zM59.5 228h.6v.6h-.6zM65.5 228h.6v.6h-.6zM70.5 228h.6v.6h-.6zM87 228h.6v.6h-.6zM68.5 228.5h.6v.6h-.6zM71 228.5h.6v.6h-.6zM71.5 228.5h.6v.6h-.6zM79 228.5h.6v.6h-.6zM106 228.5h.6v.6h-.6zM66 229h.6v.6h-.6zM67 229h.6v.6h-.6zM75 229h.6v.6h-.6zM78 229h.6v.6h-.6zM79.5 229h.6v.6h-.6zM55 229.5h.6v.6h-.6zM71 229.5h.6v.6h-.6zM74 229.5h.6v.6h-.6zM82 229.5h.6v.6h-.6zM93.5 229.5h.6v.6h-.6zM64.5 230h.6v.6h-.6zM74 230h.6v.6h-.6zM76 230h.6v.6h-.6zM84 230h.6v.6h-.6zM61.5 230.5h.6v.6h-.6zM62.5 230.5h.6v.6h-.6zM79 230.5h.6v.6h-.6zM81.5 230.5h.6v.6h-.6zM82.5 230.5h.6v.6h-.6zM62 231h.6v.6h-.6zM64.5 231h.6v.6h-.6zM66 231h.6v.6h-.6zM70 231h.6v.6h-.6zM71.5 231h.6v.6h-.6zM70.5 231.5h.6v.6h-.6zM75 231.5h.6v.6h-.6zM64.5 232h.6v.6h-.6zM70.5 232h.6v.6h-.6zM76 232h.6v.6h-.6zM79.5 232h.6v.6h-.6zM40 232.5h.6v.6h-.6zM72.5 232.5h.6v.6h-.6zM77.5 232.5h.6v.6h-.6zM81 232.5h.6v.6h-.6zM81.5 232.5h.6v.6h-.6zM57 233h.6v.6h-.6zM58 233h.6v.6h-.6zM60.5 233h.6v.6h-.6zM62.5 233h.6v.6h-.6zM69 233h.6v.6h-.6zM70 233h.6v.6h-.6zM75 233h.6v.6h-.6zM82.5 233h.6v.6h-.6zM85.5 233h.6v.6h-.6zM96.5 233h.6v.6h-.6zM67 233.5h.6v.6h-.6zM69.5 233.5h.6v.6h-.6zM71.5 233.5h.6v.6h-.6zM67 234h.6v.6h-.6zM70 234h.6v.6h-.6zM85 234h.6v.6h-.6zM97.5 234h.6v.6h-.6zM73 234.5h.6v.6h-.6zM77 234.5h.6v.6h-.6zM80 234.5h.6v.6h-.6zM72 235h.6v.6h-.6zM74.5 235h.6v.6h-.6zM83.5 235h.6v.6h-.6zM57.5 235.5h.6v.6h-.6zM69.5 235.5h.6v.6h-.6zM66 236h.6v.6h-.6zM73.5 236h.6v.6h-.6zM76.5 236h.6v.6h-.6zM90.5 236h.6v.6h-.6zM60 236.5h.6v.6h-.6zM66.5 236.5h.6v.6h-.6zM70 237h.6v.6h-.6zM72.5 237h.6v.6h-.6zM51.5 237.5h.6v.6h-.6zM65.5 237.5h.6v.6h-.6zM72.5 237.5h.6v.6h-.6zM84 237.5h.6v.6h-.6zM59 238h.6v.6h-.6zM71.5 238h.6v.6h-.6zM58 238.5h.6v.6h-.6zM72.5 238.5h.6v.6h-.6zM94 238.5h.6v.6h-.6zM61 239h.6v.6h-.6zM73 239h.6v.6h-.6zM59.5 239.5h.6v.6h-.6zM66 240h.6v.6h-.6zM74.5 240.5h.6v.6h-.6zM63.5 241h.6v.6h-.6zM82.5 242h.6v.6h-.6zM67 242.5h.6v.6h-.6zM88 244h.6v.6h-.6zM62.5 246.5h.6v.6h-.6z" fill="#111" fill-opacity="0.6"/>
</g>
<rect x="31.5" y="160" width="87.5" height="87" fill="none" stroke="#505050" stroke-width="1.0" />
<line x1="29.9" y1="247.0" x2="31.5" y2="247.0" stroke="#555" stroke-width="0.6" />
<text x="29.7" y="248.4" font-size="4.1" text-anchor="end" font-weight="bold" fill="#3a3a3a" class="sm">10<tspan font-size="2.6" dy="-1.3">0</tspan></text>
<line x1="29.9" y1="225.25" x2="31.5" y2="225.25" stroke="#555" stroke-width="0.6" />
<text x="29.7" y="226.65" font-size="4.1" text-anchor="end" font-weight="bold" fill="#3a3a3a" class="sm">10<tspan font-size="2.6" dy="-1.3">1</tspan></text>
<line x1="29.9" y1="203.5" x2="31.5" y2="203.5" stroke="#555" stroke-width="0.6" />
<text x="29.7" y="204.9" font-size="4.1" text-anchor="end" font-weight="bold" fill="#3a3a3a" class="sm">10<tspan font-size="2.6" dy="-1.3">2</tspan></text>
<line x1="29.9" y1="181.75" x2="31.5" y2="181.75" stroke="#555" stroke-width="0.6" />
<text x="29.7" y="183.15" font-size="4.1" text-anchor="end" font-weight="bold" fill="#3a3a3a" class="sm">10<tspan font-size="2.6" dy="-1.3">3</tspan></text>
<line x1="29.9" y1="160.0" x2="31.5" y2="160.0" stroke="#555" stroke-width="0.6" />
<text x="29.7" y="161.4" font-size="4.1" text-anchor="end" font-weight="bold" fill="#3a3a3a" class="sm">10<tspan font-size="2.6" dy="-1.3">4</tspan></text>
<line x1="31.5" y1="247" x2="31.5" y2="248.6" stroke="#555" stroke-width="0.6" />
<text x="31.5" y="252.6" font-size="4.1" text-anchor="middle" font-weight="bold" fill="#3a3a3a" class="sm">10<tspan font-size="2.6" dy="-1.3">0</tspan></text>
<line x1="53.375" y1="247" x2="53.375" y2="248.6" stroke="#555" stroke-width="0.6" />
<text x="53.375" y="252.6" font-size="4.1" text-anchor="middle" font-weight="bold" fill="#3a3a3a" class="sm">10<tspan font-size="2.6" dy="-1.3">1</tspan></text>
<line x1="75.25" y1="247" x2="75.25" y2="248.6" stroke="#555" stroke-width="0.6" />
<text x="75.25" y="252.6" font-size="4.1" text-anchor="middle" font-weight="bold" fill="#3a3a3a" class="sm">10<tspan font-size="2.6" dy="-1.3">2</tspan></text>
<line x1="97.125" y1="247" x2="97.125" y2="248.6" stroke="#555" stroke-width="0.6" />
<text x="97.125" y="252.6" font-size="4.1" text-anchor="middle" font-weight="bold" fill="#3a3a3a" class="sm">10<tspan font-size="2.6" dy="-1.3">3</tspan></text>
<line x1="119.0" y1="247" x2="119.0" y2="248.6" stroke="#555" stroke-width="0.6" />
<text x="119.0" y="252.6" font-size="4.1" text-anchor="middle" font-weight="bold" fill="#3a3a3a" class="sm">10<tspan font-size="2.6" dy="-1.3">4</tspan></text>
<rect x="31.5" y="182.8" width="22.9" height="34.6" fill="none" stroke="#484848" stroke-width="1.0" />
<text x="33" y="187.5" font-size="3.6" text-anchor="start" font-weight="bold" fill="#444" class="sm">R2</text>
<line x1="54.4" y1="203.6" x2="124.5" y2="203.6" stroke="#111" stroke-width="1.4" />
<polygon points="131.10,203.60 122.90,206.70 124.20,203.60 122.90,200.50" fill="#111" stroke="none" stroke-width="1" stroke-linejoin="miter"/>
<line x1="14.1" y1="168" x2="14.1" y2="244.7" stroke="#c8c8c8" stroke-width="1.7" />
<polygon points="14.10,161.40 17.30,168.60 14.10,167.30 10.90,168.60" fill="#111" stroke="none" stroke-width="1" stroke-linejoin="miter"/>
<text x="0" y="0" font-size="9.7" text-anchor="middle" font-weight="bold" fill="#141414" transform="translate(8.4,196.5) rotate(-90)">CD34 APC</text>
<line x1="32" y1="271.7" x2="111" y2="271.7" stroke="#c8c8c8" stroke-width="1.7" />
<polygon points="117.30,271.70 109.30,274.90 110.60,271.70 109.30,268.50" fill="#111" stroke="none" stroke-width="1" stroke-linejoin="miter"/>
<text x="79.8" y="283.6" font-size="9.6" text-anchor="middle" font-weight="bold" fill="#141414" >CD38 PE</text>
<text x="192.1" y="154.5" font-size="9.55" text-anchor="middle" font-weight="bold" fill="#141414" >Renilla/STAT5 RNAi</text>
<g filter="url(#bl)">
<path d="M160.4 228.4h0.7v0.7h-0.7zM176.4 227.9h0.7v0.7h-0.7zM163.0 229.1h0.7v0.7h-0.7zM178.1 227.6h0.7v0.7h-0.7zM177.8 228.8h0.7v0.7h-0.7zM170.9 228.9h0.7v0.7h-0.7zM181.9 229.9h0.7v0.7h-0.7zM163.8 229.3h0.7v0.7h-0.7zM163.9 231.1h0.7v0.7h-0.7zM189.7 229.4h0.7v0.7h-0.7zM196.6 228.7h0.7v0.7h-0.7zM168.8 228.7h0.7v0.7h-0.7zM177.4 230.1h0.7v0.7h-0.7zM170.8 229.9h0.7v0.7h-0.7zM159.9 228.9h0.7v0.7h-0.7zM199.3 228.5h0.7v0.7h-0.7zM175.1 228.2h0.7v0.7h-0.7zM176.7 228.6h0.7v0.7h-0.7zM161.5 230.2h0.7v0.7h-0.7zM164.0 229.1h0.7v0.7h-0.7zM191.8 229.3h0.7v0.7h-0.7zM197.6 230.6h0.7v0.7h-0.7zM190.5 228.9h0.7v0.7h-0.7zM189.2 227.9h0.7v0.7h-0.7zM158.2 227.5h0.7v0.7h-0.7zM162.3 229.0h0.7v0.7h-0.7zM199.1 229.3h0.7v0.7h-0.7zM170.6 228.3h0.7v0.7h-0.7zM175.0 227.1h0.7v0.7h-0.7zM171.7 230.3h0.7v0.7h-0.7zM153.4 229.7h0.7v0.7h-0.7zM202.6 229.4h0.7v0.7h-0.7zM177.3 227.9h0.7v0.7h-0.7zM190.2 228.8h0.7v0.7h-0.7zM163.3 228.1h0.7v0.7h-0.7zM183.8 228.2h0.7v0.7h-0.7zM161.2 229.1h0.7v0.7h-0.7zM199.3 229.4h0.7v0.7h-0.7zM169.7 228.3h0.7v0.7h-0.7zM157.3 228.5h0.7v0.7h-0.7zM155.3 229.3h0.7v0.7h-0.7zM171.1 227.7h0.7v0.7h-0.7zM186.9 228.1h0.7v0.7h-0.7zM200.9 227.5h0.7v0.7h-0.7zM172.8 230.6h0.7v0.7h-0.7zM182.1 228.7h0.7v0.7h-0.7zM197.0 228.1h0.7v0.7h-0.7zM164.6 228.8h0.7v0.7h-0.7zM196.7 228.9h0.7v0.7h-0.7zM193.1 229.0h0.7v0.7h-0.7zM191.5 227.5h0.7v0.7h-0.7zM154.7 228.9h0.7v0.7h-0.7zM165.2 228.6h0.7v0.7h-0.7zM160.7 229.5h0.7v0.7h-0.7zM155.5 228.0h0.7v0.7h-0.7zM202.2 230.1h0.7v0.7h-0.7zM190.0 228.3h0.7v0.7h-0.7zM200.9 228.9h0.7v0.7h-0.7zM178.8 228.8h0.7v0.7h-0.7zM162.8 228.6h0.7v0.7h-0.7zM194.8 229.2h0.7v0.7h-0.7zM182.7 227.4h0.7v0.7h-0.7zM173.7 227.6h0.7v0.7h-0.7zM167.7 228.1h0.7v0.7h-0.7zM179.3 228.6h0.7v0.7h-0.7zM152.5 230.0h0.7v0.7h-0.7zM187.0 228.9h0.7v0.7h-0.7zM182.3 228.8h0.7v0.7h-0.7zM184.8 229.4h0.7v0.7h-0.7zM165.1 228.1h0.7v0.7h-0.7zM172.7 230.3h0.7v0.7h-0.7zM158.8 228.4h0.7v0.7h-0.7zM156.8 228.9h0.7v0.7h-0.7zM174.8 228.9h0.7v0.7h-0.7zM159.2 229.5h0.7v0.7h-0.7zM158.5 228.0h0.7v0.7h-0.7zM179.5 228.4h0.7v0.7h-0.7zM163.2 229.5h0.7v0.7h-0.7zM160.5 229.1h0.7v0.7h-0.7zM188.2 229.4h0.7v0.7h-0.7zM180.1 229.9h0.7v0.7h-0.7zM196.6 229.1h0.7v0.7h-0.7zM191.5 228.8h0.7v0.7h-0.7zM175.7 228.7h0.7v0.7h-0.7zM155.2 228.8h0.7v0.7h-0.7zM188.3 228.4h0.7v0.7h-0.7zM164.9 228.6h0.7v0.7h-0.7zM154.1 228.2h0.7v0.7h-0.7zM171.8 228.3h0.7v0.7h-0.7zM167.0 230.2h0.7v0.7h-0.7zM177.7 227.2h0.7v0.7h-0.7zM157.0 228.3h0.7v0.7h-0.7zM182.7 227.7h0.7v0.7h-0.7zM201.3 228.7h0.7v0.7h-0.7zM167.8 228.5h0.7v0.7h-0.7zM180.6 228.0h0.7v0.7h-0.7zM155.2 229.6h0.7v0.7h-0.7zM170.1 227.0h0.7v0.7h-0.7zM168.2 229.1h0.7v0.7h-0.7zM155.9 228.8h0.7v0.7h-0.7zM155.7 229.3h0.7v0.7h-0.7zM174.9 227.7h0.7v0.7h-0.7zM183.7 229.8h0.7v0.7h-0.7zM174.6 228.9h0.7v0.7h-0.7zM178.4 228.3h0.7v0.7h-0.7zM163.5 229.3h0.7v0.7h-0.7zM154.5 228.3h0.7v0.7h-0.7zM187.9 229.0h0.7v0.7h-0.7zM193.7 228.7h0.7v0.7h-0.7zM164.1 228.0h0.7v0.7h-0.7zM171.7 227.8h0.7v0.7h-0.7zM201.1 228.9h0.7v0.7h-0.7zM156.4 228.0h0.7v0.7h-0.7zM188.6 228.9h0.7v0.7h-0.7zM197.4 229.0h0.7v0.7h-0.7zM190.7 227.8h0.7v0.7h-0.7zM186.1 229.5h0.7v0.7h-0.7zM186.8 228.0h0.7v0.7h-0.7zM164.5 229.4h0.7v0.7h-0.7zM183.4 228.5h0.7v0.7h-0.7zM194.1 230.9h0.7v0.7h-0.7zM152.3 228.3h0.7v0.7h-0.7zM167.9 228.5h0.7v0.7h-0.7zM159.4 229.4h0.7v0.7h-0.7zM180.2 229.3h0.7v0.7h-0.7zM200.1 229.1h0.7v0.7h-0.7zM189.9 228.5h0.7v0.7h-0.7zM200.8 228.9h0.7v0.7h-0.7zM187.9 229.0h0.7v0.7h-0.7zM184.7 229.4h0.7v0.7h-0.7zM186.8 228.7h0.7v0.7h-0.7zM168.4 230.5h0.7v0.7h-0.7zM165.0 229.0h0.7v0.7h-0.7zM186.7 228.5h0.7v0.7h-0.7zM162.2 228.3h0.7v0.7h-0.7zM171.3 228.5h0.7v0.7h-0.7zM200.0 228.1h0.7v0.7h-0.7zM183.5 229.0h0.7v0.7h-0.7zM166.3 229.1h0.7v0.7h-0.7zM165.9 229.4h0.7v0.7h-0.7zM161.6 229.0h0.7v0.7h-0.7zM193.3 228.8h0.7v0.7h-0.7zM199.7 228.8h0.7v0.7h-0.7zM177.6 228.7h0.7v0.7h-0.7zM154.0 228.0h0.7v0.7h-0.7zM164.3 228.1h0.7v0.7h-0.7zM152.4 228.5h0.7v0.7h-0.7zM167.8 228.7h0.7v0.7h-0.7zM175.2 229.3h0.7v0.7h-0.7zM158.9 228.4h0.7v0.7h-0.7zM192.4 229.2h0.7v0.7h-0.7zM154.5 228.0h0.7v0.7h-0.7zM161.6 228.1h0.7v0.7h-0.7zM163.5 229.3h0.7v0.7h-0.7zM192.9 229.7h0.7v0.7h-0.7zM197.1 227.5h0.7v0.7h-0.7zM152.9 228.6h0.7v0.7h-0.7zM197.9 228.7h0.7v0.7h-0.7zM190.1 228.8h0.7v0.7h-0.7zM155.0 228.3h0.7v0.7h-0.7zM193.6 228.0h0.7v0.7h-0.7zM176.0 228.2h0.7v0.7h-0.7zM192.8 228.5h0.7v0.7h-0.7zM170.0 229.3h0.7v0.7h-0.7zM167.2 227.8h0.7v0.7h-0.7zM155.6 227.7h0.7v0.7h-0.7zM155.4 227.7h0.7v0.7h-0.7zM161.7 228.7h0.7v0.7h-0.7zM165.8 229.0h0.7v0.7h-0.7zM177.2 228.9h0.7v0.7h-0.7zM186.7 228.6h0.7v0.7h-0.7zM157.3 228.5h0.7v0.7h-0.7zM199.5 228.1h0.7v0.7h-0.7zM187.2 228.6h0.7v0.7h-0.7zM189.1 228.5h0.7v0.7h-0.7zM194.2 228.8h0.7v0.7h-0.7zM162.9 229.4h0.7v0.7h-0.7zM179.2 229.0h0.7v0.7h-0.7zM184.0 229.3h0.7v0.7h-0.7zM177.2 229.8h0.7v0.7h-0.7zM160.3 229.6h0.7v0.7h-0.7zM198.2 227.8h0.7v0.7h-0.7zM186.7 229.0h0.7v0.7h-0.7zM198.0 230.0h0.7v0.7h-0.7zM179.2 230.4h0.7v0.7h-0.7zM171.9 227.8h0.7v0.7h-0.7zM200.0 229.9h0.7v0.7h-0.7zM152.6 228.3h0.7v0.7h-0.7zM169.9 228.1h0.7v0.7h-0.7zM190.5 228.2h0.7v0.7h-0.7zM185.0 229.7h0.7v0.7h-0.7zM179.3 230.2h0.7v0.7h-0.7zM197.0 229.5h0.7v0.7h-0.7zM180.3 231.2h0.7v0.7h-0.7zM191.6 228.7h0.7v0.7h-0.7zM170.5 227.4h0.7v0.7h-0.7zM156.2 228.4h0.7v0.7h-0.7zM179.5 229.0h0.7v0.7h-0.7zM193.6 228.6h0.7v0.7h-0.7zM153.4 229.1h0.7v0.7h-0.7zM173.6 228.7h0.7v0.7h-0.7zM185.9 228.7h0.7v0.7h-0.7zM162.8 230.1h0.7v0.7h-0.7zM178.7 229.8h0.7v0.7h-0.7zM197.6 228.4h0.7v0.7h-0.7zM164.2 228.8h0.7v0.7h-0.7zM173.6 228.0h0.7v0.7h-0.7zM190.3 227.9h0.7v0.7h-0.7zM185.2 228.8h0.7v0.7h-0.7zM171.3 229.5h0.7v0.7h-0.7zM177.0 228.7h0.7v0.7h-0.7zM175.4 229.7h0.7v0.7h-0.7zM153.8 229.2h0.7v0.7h-0.7zM192.9 228.0h0.7v0.7h-0.7zM189.6 228.5h0.7v0.7h-0.7zM171.2 226.6h0.7v0.7h-0.7zM172.1 229.8h0.7v0.7h-0.7zM181.7 228.8h0.7v0.7h-0.7zM181.4 229.3h0.7v0.7h-0.7zM163.6 228.8h0.7v0.7h-0.7zM189.4 229.1h0.7v0.7h-0.7zM154.8 228.1h0.7v0.7h-0.7zM170.9 229.2h0.7v0.7h-0.7zM175.5 228.1h0.7v0.7h-0.7zM171.9 228.1h0.7v0.7h-0.7zM187.3 228.1h0.7v0.7h-0.7zM196.1 228.8h0.7v0.7h-0.7zM164.8 228.1h0.7v0.7h-0.7zM191.9 229.2h0.7v0.7h-0.7zM162.1 227.3h0.7v0.7h-0.7zM195.2 229.0h0.7v0.7h-0.7zM167.7 228.6h0.7v0.7h-0.7zM184.3 229.6h0.7v0.7h-0.7zM165.5 229.8h0.7v0.7h-0.7zM186.8 228.7h0.7v0.7h-0.7zM162.6 229.3h0.7v0.7h-0.7zM177.4 228.7h0.7v0.7h-0.7zM187.0 228.3h0.7v0.7h-0.7zM169.1 228.4h0.7v0.7h-0.7zM161.9 228.3h0.7v0.7h-0.7zM159.2 229.8h0.7v0.7h-0.7zM173.1 229.2h0.7v0.7h-0.7zM158.3 229.5h0.7v0.7h-0.7zM153.1 228.1h0.7v0.7h-0.7zM189.0 228.2h0.7v0.7h-0.7zM177.5 228.4h0.7v0.7h-0.7zM201.1 228.1h0.7v0.7h-0.7zM184.4 229.5h0.7v0.7h-0.7zM170.7 228.1h0.7v0.7h-0.7zM184.4 229.8h0.7v0.7h-0.7zM175.3 228.3h0.7v0.7h-0.7zM192.3 228.8h0.7v0.7h-0.7zM153.0 228.3h0.7v0.7h-0.7zM163.3 228.2h0.7v0.7h-0.7zM181.9 228.5h0.7v0.7h-0.7zM177.0 228.7h0.7v0.7h-0.7zM160.4 229.0h0.7v0.7h-0.7zM168.7 228.2h0.7v0.7h-0.7zM163.0 229.2h0.7v0.7h-0.7zM159.7 228.9h0.7v0.7h-0.7zM183.8 229.1h0.7v0.7h-0.7zM157.7 228.4h0.7v0.7h-0.7zM179.3 229.3h0.7v0.7h-0.7zM190.8 229.3h0.7v0.7h-0.7zM162.4 228.5h0.7v0.7h-0.7zM156.3 228.0h0.7v0.7h-0.7zM164.4 228.5h0.7v0.7h-0.7zM162.4 228.6h0.7v0.7h-0.7zM181.4 229.2h0.7v0.7h-0.7zM185.8 228.0h0.7v0.7h-0.7zM152.5 228.6h0.7v0.7h-0.7zM198.6 229.4h0.7v0.7h-0.7zM170.2 228.8h0.7v0.7h-0.7zM177.4 228.6h0.7v0.7h-0.7zM197.5 228.9h0.7v0.7h-0.7zM161.3 227.9h0.7v0.7h-0.7zM199.2 230.4h0.7v0.7h-0.7zM191.6 229.7h0.7v0.7h-0.7zM188.7 228.4h0.7v0.7h-0.7zM169.4 228.7h0.7v0.7h-0.7zM185.9 228.4h0.7v0.7h-0.7zM192.9 228.2h0.7v0.7h-0.7zM154.7 228.7h0.7v0.7h-0.7zM168.6 229.1h0.7v0.7h-0.7zM192.4 228.8h0.7v0.7h-0.7zM167.7 228.4h0.7v0.7h-0.7zM157.7 228.4h0.7v0.7h-0.7zM163.8 228.2h0.7v0.7h-0.7zM171.1 229.3h0.7v0.7h-0.7zM187.2 228.2h0.7v0.7h-0.7zM184.0 227.9h0.7v0.7h-0.7zM170.6 228.9h0.7v0.7h-0.7zM162.1 228.2h0.7v0.7h-0.7zM168.8 228.8h0.7v0.7h-0.7zM161.5 229.4h0.7v0.7h-0.7zM162.2 228.4h0.7v0.7h-0.7zM153.6 229.1h0.7v0.7h-0.7zM169.2 230.2h0.7v0.7h-0.7zM186.0 228.9h0.7v0.7h-0.7zM175.0 229.8h0.7v0.7h-0.7zM189.6 228.1h0.7v0.7h-0.7zM166.3 228.7h0.7v0.7h-0.7zM182.3 229.3h0.7v0.7h-0.7zM176.5 227.9h0.7v0.7h-0.7zM168.8 229.9h0.7v0.7h-0.7zM159.4 227.9h0.7v0.7h-0.7zM186.6 228.9h0.7v0.7h-0.7zM201.2 227.8h0.7v0.7h-0.7zM196.8 228.9h0.7v0.7h-0.7zM168.7 231.2h0.7v0.7h-0.7zM171.4 229.2h0.7v0.7h-0.7zM172.2 228.7h0.7v0.7h-0.7zM183.9 228.7h0.7v0.7h-0.7zM192.5 229.3h0.7v0.7h-0.7zM183.2 228.8h0.7v0.7h-0.7zM196.5 227.6h0.7v0.7h-0.7zM197.6 229.7h0.7v0.7h-0.7zM177.5 227.1h0.7v0.7h-0.7zM187.8 227.0h0.7v0.7h-0.7zM185.4 228.6h0.7v0.7h-0.7zM174.0 228.5h0.7v0.7h-0.7zM158.6 228.3h0.7v0.7h-0.7zM171.7 228.8h0.7v0.7h-0.7zM156.7 228.8h0.7v0.7h-0.7zM175.2 228.8h0.7v0.7h-0.7zM184.5 228.6h0.7v0.7h-0.7zM157.7 228.2h0.7v0.7h-0.7zM174.7 228.8h0.7v0.7h-0.7zM188.3 228.2h0.7v0.7h-0.7zM189.2 229.2h0.7v0.7h-0.7zM157.9 228.2h0.7v0.7h-0.7zM194.6 229.7h0.7v0.7h-0.7zM202.0 228.8h0.7v0.7h-0.7zM167.9 229.8h0.7v0.7h-0.7zM187.8 229.0h0.7v0.7h-0.7zM169.6 228.5h0.7v0.7h-0.7zM199.7 228.2h0.7v0.7h-0.7zM193.7 229.6h0.7v0.7h-0.7zM166.2 228.8h0.7v0.7h-0.7zM169.4 228.7h0.7v0.7h-0.7zM160.5 228.5h0.7v0.7h-0.7zM153.3 229.2h0.7v0.7h-0.7zM193.0 229.2h0.7v0.7h-0.7zM180.3 229.6h0.7v0.7h-0.7zM195.3 229.4h0.7v0.7h-0.7zM160.6 228.0h0.7v0.7h-0.7zM190.8 230.1h0.7v0.7h-0.7zM167.7 229.7h0.7v0.7h-0.7zM164.9 228.9h0.7v0.7h-0.7zM192.4 229.5h0.7v0.7h-0.7zM195.6 228.8h0.7v0.7h-0.7zM164.4 227.7h0.7v0.7h-0.7zM168.4 228.6h0.7v0.7h-0.7zM196.6 229.5h0.7v0.7h-0.7zM202.8 230.4h0.7v0.7h-0.7zM198.8 229.7h0.7v0.7h-0.7zM175.5 228.4h0.7v0.7h-0.7zM161.5 227.7h0.7v0.7h-0.7zM183.4 230.2h0.7v0.7h-0.7zM198.5 228.6h0.7v0.7h-0.7zM156.3 228.6h0.7v0.7h-0.7zM198.4 228.0h0.7v0.7h-0.7zM160.5 228.5h0.7v0.7h-0.7zM193.0 228.7h0.7v0.7h-0.7zM188.9 229.4h0.7v0.7h-0.7zM159.2 228.9h0.7v0.7h-0.7zM184.4 228.6h0.7v0.7h-0.7zM200.5 228.6h0.7v0.7h-0.7zM201.2 227.9h0.7v0.7h-0.7zM170.5 229.1h0.7v0.7h-0.7zM182.9 228.2h0.7v0.7h-0.7zM190.2 229.2h0.7v0.7h-0.7zM161.5 228.4h0.7v0.7h-0.7zM163.5 229.9h0.7v0.7h-0.7zM155.5 229.2h0.7v0.7h-0.7zM173.0 228.6h0.7v0.7h-0.7zM168.0 228.8h0.7v0.7h-0.7zM179.4 229.5h0.7v0.7h-0.7zM157.9 228.6h0.7v0.7h-0.7zM156.0 228.8h0.7v0.7h-0.7z" fill="#222" fill-opacity="0.6"/>
<path d="M172.4 234.1h0.7v0.7h-0.7zM165.0 234.0h0.7v0.7h-0.7zM178.4 237.6h0.7v0.7h-0.7zM151.4 231.4h0.7v0.7h-0.7zM166.2 234.7h0.7v0.7h-0.7zM156.4 236.7h0.7v0.7h-0.7zM152.0 231.8h0.7v0.7h-0.7zM153.1 240.5h0.7v0.7h-0.7zM168.5 239.2h0.7v0.7h-0.7zM183.3 230.7h0.7v0.7h-0.7zM174.1 231.1h0.7v0.7h-0.7zM168.6 234.5h0.7v0.7h-0.7zM170.0 236.3h0.7v0.7h-0.7zM161.9 230.6h0.7v0.7h-0.7zM169.0 242.5h0.7v0.7h-0.7zM160.4 236.7h0.7v0.7h-0.7zM176.8 233.1h0.7v0.7h-0.7zM177.3 230.4h0.7v0.7h-0.7zM153.5 231.9h0.7v0.7h-0.7zM156.0 230.0h0.7v0.7h-0.7zM188.8 231.6h0.7v0.7h-0.7zM170.9 236.4h0.7v0.7h-0.7zM155.4 234.3h0.7v0.7h-0.7zM166.1 234.0h0.7v0.7h-0.7zM165.9 236.0h0.7v0.7h-0.7zM179.1 230.0h0.7v0.7h-0.7zM164.8 232.5h0.7v0.7h-0.7zM184.1 233.3h0.7v0.7h-0.7zM178.0 235.4h0.7v0.7h-0.7zM150.1 236.6h0.7v0.7h-0.7zM179.7 231.8h0.7v0.7h-0.7zM162.9 233.7h0.7v0.7h-0.7zM166.6 230.5h0.7v0.7h-0.7zM158.1 244.2h0.7v0.7h-0.7zM170.7 233.6h0.7v0.7h-0.7zM160.0 239.5h0.7v0.7h-0.7zM172.8 240.5h0.7v0.7h-0.7zM176.9 237.2h0.7v0.7h-0.7zM167.0 239.1h0.7v0.7h-0.7zM193.8 237.7h0.7v0.7h-0.7zM177.3 235.6h0.7v0.7h-0.7zM179.5 236.3h0.7v0.7h-0.7zM175.4 235.2h0.7v0.7h-0.7zM175.3 236.1h0.7v0.7h-0.7zM176.4 230.5h0.7v0.7h-0.7zM175.7 237.4h0.7v0.7h-0.7zM162.6 235.1h0.7v0.7h-0.7zM160.9 237.6h0.7v0.7h-0.7zM173.7 237.0h0.7v0.7h-0.7zM172.3 232.4h0.7v0.7h-0.7zM167.2 232.2h0.7v0.7h-0.7zM158.3 235.9h0.7v0.7h-0.7zM151.3 233.0h0.7v0.7h-0.7zM165.4 229.9h0.7v0.7h-0.7zM168.4 236.0h0.7v0.7h-0.7zM161.7 230.2h0.7v0.7h-0.7zM161.9 235.5h0.7v0.7h-0.7zM167.9 232.2h0.7v0.7h-0.7zM157.1 235.2h0.7v0.7h-0.7zM177.5 239.6h0.7v0.7h-0.7zM184.8 237.3h0.7v0.7h-0.7zM156.6 234.4h0.7v0.7h-0.7zM188.4 233.4h0.7v0.7h-0.7zM167.7 234.4h0.7v0.7h-0.7zM161.4 230.4h0.7v0.7h-0.7zM173.2 236.1h0.7v0.7h-0.7zM174.8 244.0h0.7v0.7h-0.7zM171.9 235.8h0.7v0.7h-0.7zM155.4 242.6h0.7v0.7h-0.7zM175.9 231.9h0.7v0.7h-0.7zM157.4 238.2h0.7v0.7h-0.7zM170.4 234.8h0.7v0.7h-0.7zM177.4 232.3h0.7v0.7h-0.7zM157.7 241.7h0.7v0.7h-0.7zM181.7 231.9h0.7v0.7h-0.7zM177.4 246.4h0.7v0.7h-0.7zM166.2 233.6h0.7v0.7h-0.7zM168.8 240.8h0.7v0.7h-0.7zM178.8 235.8h0.7v0.7h-0.7zM176.7 231.4h0.7v0.7h-0.7zM160.7 235.3h0.7v0.7h-0.7zM182.9 231.1h0.7v0.7h-0.7zM170.1 233.1h0.7v0.7h-0.7zM173.7 235.7h0.7v0.7h-0.7zM197.7 232.8h0.7v0.7h-0.7zM158.6 229.8h0.7v0.7h-0.7zM171.3 234.7h0.7v0.7h-0.7zM171.8 233.3h0.7v0.7h-0.7zM169.6 231.6h0.7v0.7h-0.7zM157.9 234.6h0.7v0.7h-0.7zM168.7 237.9h0.7v0.7h-0.7zM178.0 231.8h0.7v0.7h-0.7zM182.1 234.2h0.7v0.7h-0.7zM184.8 234.2h0.7v0.7h-0.7zM174.1 233.7h0.7v0.7h-0.7zM159.2 230.1h0.7v0.7h-0.7zM164.0 234.7h0.7v0.7h-0.7zM154.1 230.8h0.7v0.7h-0.7zM183.5 230.8h0.7v0.7h-0.7zM190.1 241.8h0.7v0.7h-0.7zM156.1 232.3h0.7v0.7h-0.7zM163.2 238.8h0.7v0.7h-0.7zM164.0 243.3h0.7v0.7h-0.7zM162.4 232.0h0.7v0.7h-0.7zM167.6 231.0h0.7v0.7h-0.7zM169.6 235.1h0.7v0.7h-0.7zM168.9 232.9h0.7v0.7h-0.7zM164.5 231.8h0.7v0.7h-0.7zM178.4 230.7h0.7v0.7h-0.7zM176.3 234.8h0.7v0.7h-0.7zM150.8 231.1h0.7v0.7h-0.7zM178.4 230.2h0.7v0.7h-0.7zM163.4 240.1h0.7v0.7h-0.7zM172.8 235.3h0.7v0.7h-0.7zM151.0 231.3h0.7v0.7h-0.7zM169.9 237.0h0.7v0.7h-0.7zM155.6 238.9h0.7v0.7h-0.7zM170.6 239.1h0.7v0.7h-0.7zM171.3 233.2h0.7v0.7h-0.7zM154.3 230.9h0.7v0.7h-0.7zM153.0 241.7h0.7v0.7h-0.7zM176.9 236.4h0.7v0.7h-0.7zM161.6 230.1h0.7v0.7h-0.7zM175.3 231.3h0.7v0.7h-0.7zM169.8 231.4h0.7v0.7h-0.7zM160.0 237.0h0.7v0.7h-0.7zM174.1 244.0h0.7v0.7h-0.7zM165.1 232.8h0.7v0.7h-0.7zM190.1 234.1h0.7v0.7h-0.7zM161.4 241.5h0.7v0.7h-0.7zM176.9 233.9h0.7v0.7h-0.7zM166.7 235.6h0.7v0.7h-0.7zM175.4 241.1h0.7v0.7h-0.7zM178.7 241.0h0.7v0.7h-0.7zM162.5 236.4h0.7v0.7h-0.7zM176.2 233.1h0.7v0.7h-0.7zM154.6 231.2h0.7v0.7h-0.7zM160.1 232.6h0.7v0.7h-0.7zM164.2 234.0h0.7v0.7h-0.7zM170.8 230.2h0.7v0.7h-0.7zM158.7 234.7h0.7v0.7h-0.7zM172.0 233.1h0.7v0.7h-0.7zM164.4 235.8h0.7v0.7h-0.7zM149.5 231.4h0.7v0.7h-0.7zM158.3 230.3h0.7v0.7h-0.7zM166.2 232.4h0.7v0.7h-0.7zM179.3 235.1h0.7v0.7h-0.7zM182.2 231.5h0.7v0.7h-0.7zM198.8 235.6h0.7v0.7h-0.7zM162.3 231.8h0.7v0.7h-0.7zM178.3 231.6h0.7v0.7h-0.7zM178.2 230.1h0.7v0.7h-0.7zM153.8 231.3h0.7v0.7h-0.7zM179.1 231.9h0.7v0.7h-0.7zM168.6 235.4h0.7v0.7h-0.7zM177.8 238.6h0.7v0.7h-0.7zM154.4 233.4h0.7v0.7h-0.7zM150.0 230.7h0.7v0.7h-0.7zM176.8 239.1h0.7v0.7h-0.7zM154.9 230.0h0.7v0.7h-0.7zM166.9 231.3h0.7v0.7h-0.7zM184.9 237.3h0.7v0.7h-0.7zM172.3 242.3h0.7v0.7h-0.7zM179.4 232.6h0.7v0.7h-0.7zM151.7 234.7h0.7v0.7h-0.7zM150.7 231.0h0.7v0.7h-0.7zM158.4 236.5h0.7v0.7h-0.7zM174.3 237.9h0.7v0.7h-0.7zM186.0 230.7h0.7v0.7h-0.7zM179.3 229.5h0.7v0.7h-0.7zM184.0 236.8h0.7v0.7h-0.7zM178.6 238.5h0.7v0.7h-0.7zM176.7 231.4h0.7v0.7h-0.7zM161.5 243.4h0.7v0.7h-0.7zM183.7 233.4h0.7v0.7h-0.7zM157.7 234.9h0.7v0.7h-0.7zM171.8 230.1h0.7v0.7h-0.7zM190.4 236.0h0.7v0.7h-0.7zM154.9 230.0h0.7v0.7h-0.7zM181.2 236.9h0.7v0.7h-0.7zM175.9 232.0h0.7v0.7h-0.7zM174.1 241.9h0.7v0.7h-0.7zM184.2 229.9h0.7v0.7h-0.7zM163.8 234.2h0.7v0.7h-0.7zM171.8 235.0h0.7v0.7h-0.7zM159.0 235.9h0.7v0.7h-0.7zM189.3 230.3h0.7v0.7h-0.7zM175.7 231.8h0.7v0.7h-0.7zM163.1 234.6h0.7v0.7h-0.7zM168.2 234.4h0.7v0.7h-0.7zM158.8 232.1h0.7v0.7h-0.7zM164.6 238.3h0.7v0.7h-0.7zM186.2 239.6h0.7v0.7h-0.7zM162.1 235.0h0.7v0.7h-0.7zM184.0 233.9h0.7v0.7h-0.7zM173.4 235.2h0.7v0.7h-0.7zM166.8 237.3h0.7v0.7h-0.7zM188.4 236.4h0.7v0.7h-0.7zM165.2 236.4h0.7v0.7h-0.7zM171.6 242.7h0.7v0.7h-0.7zM176.4 234.4h0.7v0.7h-0.7zM173.6 232.6h0.7v0.7h-0.7zM158.9 231.7h0.7v0.7h-0.7zM181.7 237.3h0.7v0.7h-0.7zM159.1 239.5h0.7v0.7h-0.7zM163.1 235.3h0.7v0.7h-0.7zM178.2 233.1h0.7v0.7h-0.7zM175.6 239.5h0.7v0.7h-0.7zM186.8 240.0h0.7v0.7h-0.7zM160.3 233.7h0.7v0.7h-0.7zM178.8 234.3h0.7v0.7h-0.7zM164.4 230.9h0.7v0.7h-0.7zM180.3 230.4h0.7v0.7h-0.7zM161.7 231.6h0.7v0.7h-0.7zM163.8 233.2h0.7v0.7h-0.7zM172.6 231.5h0.7v0.7h-0.7zM160.2 236.1h0.7v0.7h-0.7zM160.3 230.2h0.7v0.7h-0.7zM166.1 229.7h0.7v0.7h-0.7zM165.9 236.0h0.7v0.7h-0.7zM171.2 236.4h0.7v0.7h-0.7zM156.2 234.3h0.7v0.7h-0.7zM167.7 237.6h0.7v0.7h-0.7zM175.2 238.0h0.7v0.7h-0.7zM154.5 231.8h0.7v0.7h-0.7zM183.8 237.7h0.7v0.7h-0.7zM178.0 229.8h0.7v0.7h-0.7zM181.4 231.5h0.7v0.7h-0.7zM161.9 234.8h0.7v0.7h-0.7zM194.1 237.2h0.7v0.7h-0.7zM173.2 234.7h0.7v0.7h-0.7zM175.4 232.5h0.7v0.7h-0.7zM162.0 238.4h0.7v0.7h-0.7zM170.9 229.7h0.7v0.7h-0.7zM180.0 229.7h0.7v0.7h-0.7zM181.9 231.4h0.7v0.7h-0.7zM186.5 236.4h0.7v0.7h-0.7zM155.1 231.1h0.7v0.7h-0.7zM175.1 231.0h0.7v0.7h-0.7zM174.2 240.7h0.7v0.7h-0.7zM160.8 233.9h0.7v0.7h-0.7zM160.5 236.6h0.7v0.7h-0.7zM195.2 234.9h0.7v0.7h-0.7zM196.5 238.4h0.7v0.7h-0.7zM171.8 230.6h0.7v0.7h-0.7zM174.0 233.8h0.7v0.7h-0.7zM157.8 230.5h0.7v0.7h-0.7zM181.7 230.7h0.7v0.7h-0.7zM174.9 232.8h0.7v0.7h-0.7zM186.6 236.3h0.7v0.7h-0.7zM188.1 242.4h0.7v0.7h-0.7zM157.7 237.1h0.7v0.7h-0.7zM150.0 234.6h0.7v0.7h-0.7zM167.3 229.6h0.7v0.7h-0.7zM149.9 234.0h0.7v0.7h-0.7zM152.6 236.0h0.7v0.7h-0.7zM160.2 231.5h0.7v0.7h-0.7zM165.0 233.1h0.7v0.7h-0.7zM154.2 235.5h0.7v0.7h-0.7zM174.5 235.1h0.7v0.7h-0.7zM160.5 232.6h0.7v0.7h-0.7zM192.1 230.2h0.7v0.7h-0.7zM181.1 236.4h0.7v0.7h-0.7zM179.0 230.2h0.7v0.7h-0.7zM168.8 235.3h0.7v0.7h-0.7zM175.1 233.3h0.7v0.7h-0.7zM177.0 232.7h0.7v0.7h-0.7zM161.2 238.5h0.7v0.7h-0.7zM172.6 229.5h0.7v0.7h-0.7zM171.4 244.0h0.7v0.7h-0.7zM165.8 236.4h0.7v0.7h-0.7zM180.8 234.2h0.7v0.7h-0.7zM177.5 233.2h0.7v0.7h-0.7zM182.9 231.2h0.7v0.7h-0.7zM161.2 230.6h0.7v0.7h-0.7zM170.7 231.9h0.7v0.7h-0.7zM175.6 230.1h0.7v0.7h-0.7zM172.8 229.7h0.7v0.7h-0.7zM167.5 236.5h0.7v0.7h-0.7zM162.0 232.4h0.7v0.7h-0.7zM189.8 230.9h0.7v0.7h-0.7zM160.3 233.4h0.7v0.7h-0.7zM175.6 231.4h0.7v0.7h-0.7zM180.7 235.9h0.7v0.7h-0.7zM157.6 232.8h0.7v0.7h-0.7zM166.0 231.0h0.7v0.7h-0.7zM170.1 235.6h0.7v0.7h-0.7zM170.8 232.2h0.7v0.7h-0.7zM167.3 236.1h0.7v0.7h-0.7zM169.4 236.0h0.7v0.7h-0.7zM177.7 231.2h0.7v0.7h-0.7zM158.5 230.0h0.7v0.7h-0.7zM171.5 232.8h0.7v0.7h-0.7zM158.4 231.5h0.7v0.7h-0.7zM164.3 232.8h0.7v0.7h-0.7zM193.4 240.0h0.7v0.7h-0.7zM181.7 231.0h0.7v0.7h-0.7zM181.3 233.2h0.7v0.7h-0.7zM170.5 229.6h0.7v0.7h-0.7zM170.3 240.8h0.7v0.7h-0.7zM181.2 235.4h0.7v0.7h-0.7zM173.0 231.9h0.7v0.7h-0.7zM160.8 230.2h0.7v0.7h-0.7zM162.7 236.2h0.7v0.7h-0.7zM173.2 244.0h0.7v0.7h-0.7zM189.8 229.9h0.7v0.7h-0.7zM165.3 243.1h0.7v0.7h-0.7zM160.5 234.0h0.7v0.7h-0.7zM174.6 242.0h0.7v0.7h-0.7zM187.5 242.4h0.7v0.7h-0.7zM148.8 237.4h0.7v0.7h-0.7zM182.9 235.4h0.7v0.7h-0.7zM162.1 237.0h0.7v0.7h-0.7zM158.9 239.4h0.7v0.7h-0.7zM149.1 233.8h0.7v0.7h-0.7zM184.3 236.3h0.7v0.7h-0.7zM172.9 235.1h0.7v0.7h-0.7zM178.5 232.5h0.7v0.7h-0.7zM175.1 234.1h0.7v0.7h-0.7zM171.5 232.7h0.7v0.7h-0.7zM191.6 236.8h0.7v0.7h-0.7zM171.1 234.3h0.7v0.7h-0.7zM166.9 236.5h0.7v0.7h-0.7zM151.6 239.6h0.7v0.7h-0.7zM174.6 229.9h0.7v0.7h-0.7zM171.0 230.7h0.7v0.7h-0.7zM175.5 232.1h0.7v0.7h-0.7zM182.3 230.6h0.7v0.7h-0.7zM153.8 237.0h0.7v0.7h-0.7zM175.1 235.5h0.7v0.7h-0.7zM151.2 232.3h0.7v0.7h-0.7zM169.6 235.0h0.7v0.7h-0.7zM185.7 239.2h0.7v0.7h-0.7zM174.7 234.8h0.7v0.7h-0.7zM167.2 232.0h0.7v0.7h-0.7zM171.7 231.3h0.7v0.7h-0.7zM171.0 230.8h0.7v0.7h-0.7zM177.6 231.6h0.7v0.7h-0.7zM168.0 239.5h0.7v0.7h-0.7zM165.8 232.7h0.7v0.7h-0.7zM161.5 242.5h0.7v0.7h-0.7zM172.0 231.5h0.7v0.7h-0.7zM175.6 230.8h0.7v0.7h-0.7zM158.6 238.2h0.7v0.7h-0.7zM166.8 230.1h0.7v0.7h-0.7zM165.2 230.4h0.7v0.7h-0.7zM173.4 230.5h0.7v0.7h-0.7zM174.7 230.7h0.7v0.7h-0.7zM149.8 231.4h0.7v0.7h-0.7zM173.3 235.7h0.7v0.7h-0.7zM173.8 237.6h0.7v0.7h-0.7zM174.7 237.1h0.7v0.7h-0.7zM190.3 229.9h0.7v0.7h-0.7zM172.3 229.8h0.7v0.7h-0.7zM182.1 232.3h0.7v0.7h-0.7zM198.1 230.8h0.7v0.7h-0.7zM166.4 237.4h0.7v0.7h-0.7zM178.3 234.3h0.7v0.7h-0.7zM170.6 233.2h0.7v0.7h-0.7zM153.3 233.0h0.7v0.7h-0.7zM163.1 230.3h0.7v0.7h-0.7zM176.5 234.2h0.7v0.7h-0.7zM178.2 232.4h0.7v0.7h-0.7zM172.6 232.5h0.7v0.7h-0.7zM157.7 243.7h0.7v0.7h-0.7zM162.1 234.3h0.7v0.7h-0.7zM198.4 231.5h0.7v0.7h-0.7zM173.4 233.6h0.7v0.7h-0.7zM182.8 234.3h0.7v0.7h-0.7zM172.6 231.2h0.7v0.7h-0.7zM167.3 241.5h0.7v0.7h-0.7zM195.4 233.3h0.7v0.7h-0.7zM175.2 231.2h0.7v0.7h-0.7zM197.4 234.2h0.7v0.7h-0.7zM173.3 233.1h0.7v0.7h-0.7zM168.8 232.4h0.7v0.7h-0.7zM175.2 231.8h0.7v0.7h-0.7zM160.7 232.5h0.7v0.7h-0.7zM173.5 232.6h0.7v0.7h-0.7zM185.4 236.4h0.7v0.7h-0.7zM159.4 235.8h0.7v0.7h-0.7zM167.5 232.5h0.7v0.7h-0.7zM180.8 232.4h0.7v0.7h-0.7zM178.6 230.2h0.7v0.7h-0.7zM187.6 231.5h0.7v0.7h-0.7zM173.4 239.6h0.7v0.7h-0.7zM174.8 235.6h0.7v0.7h-0.7zM172.8 236.3h0.7v0.7h-0.7zM177.4 238.2h0.7v0.7h-0.7zM173.3 236.3h0.7v0.7h-0.7zM165.7 231.8h0.7v0.7h-0.7zM152.5 236.4h0.7v0.7h-0.7zM153.3 242.3h0.7v0.7h-0.7zM162.2 235.3h0.7v0.7h-0.7zM174.4 243.6h0.7v0.7h-0.7zM176.5 235.1h0.7v0.7h-0.7zM164.5 230.5h0.7v0.7h-0.7zM150.3 232.4h0.7v0.7h-0.7zM173.5 234.8h0.7v0.7h-0.7zM181.1 232.4h0.7v0.7h-0.7z" fill="#555" fill-opacity="0.5"/>
</g>
<rect x="147.7" y="160" width="87.9" height="87.19999999999999" fill="none" stroke="#505050" stroke-width="1.0" />
<line x1="146.1" y1="247.2" x2="147.7" y2="247.2" stroke="#555" stroke-width="0.6" />
<text x="145.89999999999998" y="248.6" font-size="4.1" text-anchor="end" font-weight="bold" fill="#3a3a3a" class="sm">10<tspan font-size="2.6" dy="-1.3">0</tspan></text>
<line x1="146.1" y1="225.39999999999998" x2="147.7" y2="225.39999999999998" stroke="#555" stroke-width="0.6" />
<text x="145.89999999999998" y="226.79999999999998" font-size="4.1" text-anchor="end" font-weight="bold" fill="#3a3a3a" class="sm">10<tspan font-size="2.6" dy="-1.3">1</tspan></text>
<line x1="146.1" y1="203.6" x2="147.7" y2="203.6" stroke="#555" stroke-width="0.6" />
<text x="145.89999999999998" y="205.0" font-size="4.1" text-anchor="end" font-weight="bold" fill="#3a3a3a" class="sm">10<tspan font-size="2.6" dy="-1.3">2</tspan></text>
<line x1="146.1" y1="181.8" x2="147.7" y2="181.8" stroke="#555" stroke-width="0.6" />
<text x="145.89999999999998" y="183.20000000000002" font-size="4.1" text-anchor="end" font-weight="bold" fill="#3a3a3a" class="sm">10<tspan font-size="2.6" dy="-1.3">3</tspan></text>
<line x1="146.1" y1="160.0" x2="147.7" y2="160.0" stroke="#555" stroke-width="0.6" />
<text x="145.89999999999998" y="161.4" font-size="4.1" text-anchor="end" font-weight="bold" fill="#3a3a3a" class="sm">10<tspan font-size="2.6" dy="-1.3">4</tspan></text>
<line x1="147.7" y1="247.2" x2="147.7" y2="248.79999999999998" stroke="#555" stroke-width="0.6" />
<text x="147.7" y="252.79999999999998" font-size="4.1" text-anchor="middle" font-weight="bold" fill="#3a3a3a" class="sm">10<tspan font-size="2.6" dy="-1.3">0</tspan></text>
<line x1="169.67499999999998" y1="247.2" x2="169.67499999999998" y2="248.79999999999998" stroke="#555" stroke-width="0.6" />
<text x="169.67499999999998" y="252.79999999999998" font-size="4.1" text-anchor="middle" font-weight="bold" fill="#3a3a3a" class="sm">10<tspan font-size="2.6" dy="-1.3">1</tspan></text>
<line x1="191.64999999999998" y1="247.2" x2="191.64999999999998" y2="248.79999999999998" stroke="#555" stroke-width="0.6" />
<text x="191.64999999999998" y="252.79999999999998" font-size="4.1" text-anchor="middle" font-weight="bold" fill="#3a3a3a" class="sm">10<tspan font-size="2.6" dy="-1.3">2</tspan></text>
<line x1="213.625" y1="247.2" x2="213.625" y2="248.79999999999998" stroke="#555" stroke-width="0.6" />
<text x="213.625" y="252.79999999999998" font-size="4.1" text-anchor="middle" font-weight="bold" fill="#3a3a3a" class="sm">10<tspan font-size="2.6" dy="-1.3">3</tspan></text>
<line x1="235.6" y1="247.2" x2="235.6" y2="248.79999999999998" stroke="#555" stroke-width="0.6" />
<text x="235.6" y="252.79999999999998" font-size="4.1" text-anchor="middle" font-weight="bold" fill="#3a3a3a" class="sm">10<tspan font-size="2.6" dy="-1.3">4</tspan></text>
<polyline points="185.40,160.20 185.40,217.70 166.80,247.20" fill="none" stroke="#484848" stroke-width="1.0" stroke-linejoin="miter"/>
<line x1="220.1" y1="160.2" x2="220.1" y2="247.2" stroke="#484848" stroke-width="1.0" />
<line x1="185.4" y1="161.3" x2="220.1" y2="161.3" stroke="#666" stroke-width="1.0" />
<text x="166" y="166.5" font-size="3.6" text-anchor="start" font-weight="bold" fill="#444" class="sm">R2</text>
<line x1="220.1" y1="204" x2="234" y2="204" stroke="#111" stroke-width="1.7" />
<polygon points="241.00,204.00 233.20,207.20 234.50,204.00 233.20,200.80" fill="#111" stroke="none" stroke-width="1" stroke-linejoin="miter"/>
<line x1="152.6" y1="272" x2="230" y2="272" stroke="#c8c8c8" stroke-width="1.7" />
<polygon points="237.00,272.00 229.20,275.20 230.50,272.00 229.20,268.80" fill="#111" stroke="none" stroke-width="1" stroke-linejoin="miter"/>
<text x="198.6" y="284.8" font-size="9.6" text-anchor="middle" font-weight="bold" fill="#141414" >YFP/GFP</text>
<rect x="247.2" y="184.2" width="35.6" height="45.2" fill="#fff" stroke="#aaa" stroke-width="0.8" />
<ellipse cx="249.40" cy="186.10" rx="1.85" ry="1.6" fill="none" stroke="#aaa" stroke-width="0.55"/>
<ellipse cx="253.85" cy="186.10" rx="1.85" ry="1.6" fill="none" stroke="#aaa" stroke-width="0.55"/>
<ellipse cx="258.30" cy="186.10" rx="1.85" ry="1.6" fill="none" stroke="#aaa" stroke-width="0.55"/>
<ellipse cx="262.75" cy="186.10" rx="1.85" ry="1.6" fill="none" stroke="#aaa" stroke-width="0.55"/>
<ellipse cx="267.20" cy="186.10" rx="1.85" ry="1.6" fill="none" stroke="#aaa" stroke-width="0.55"/>
<ellipse cx="271.65" cy="186.10" rx="1.85" ry="1.6" fill="none" stroke="#aaa" stroke-width="0.55"/>
<ellipse cx="276.10" cy="186.10" rx="1.85" ry="1.6" fill="none" stroke="#aaa" stroke-width="0.55"/>
<ellipse cx="280.55" cy="186.10" rx="1.85" ry="1.6" fill="none" stroke="#aaa" stroke-width="0.55"/>
<ellipse cx="249.40" cy="189.86" rx="1.85" ry="1.6" fill="none" stroke="#aaa" stroke-width="0.55"/>
<ellipse cx="253.85" cy="189.86" rx="1.85" ry="1.6" fill="none" stroke="#aaa" stroke-width="0.55"/>
<ellipse cx="258.30" cy="189.86" rx="1.85" ry="1.6" fill="none" stroke="#aaa" stroke-width="0.55"/>
<ellipse cx="262.75" cy="189.86" rx="1.85" ry="1.6" fill="none" stroke="#aaa" stroke-width="0.55"/>
<ellipse cx="267.20" cy="189.86" rx="1.85" ry="1.6" fill="none" stroke="#aaa" stroke-width="0.55"/>
<ellipse cx="271.65" cy="189.86" rx="1.85" ry="1.6" fill="none" stroke="#aaa" stroke-width="0.55"/>
<ellipse cx="276.10" cy="189.86" rx="1.85" ry="1.6" fill="none" stroke="#aaa" stroke-width="0.55"/>
<ellipse cx="280.55" cy="189.86" rx="1.85" ry="1.6" fill="none" stroke="#aaa" stroke-width="0.55"/>
<ellipse cx="249.40" cy="193.62" rx="1.85" ry="1.6" fill="none" stroke="#aaa" stroke-width="0.55"/>
<ellipse cx="253.85" cy="193.62" rx="1.85" ry="1.6" fill="none" stroke="#aaa" stroke-width="0.55"/>
<ellipse cx="258.30" cy="193.62" rx="1.85" ry="1.6" fill="none" stroke="#aaa" stroke-width="0.55"/>
<ellipse cx="262.75" cy="193.62" rx="1.85" ry="1.6" fill="none" stroke="#aaa" stroke-width="0.55"/>
<ellipse cx="267.20" cy="193.62" rx="1.85" ry="1.6" fill="none" stroke="#aaa" stroke-width="0.55"/>
<ellipse cx="271.65" cy="193.62" rx="1.85" ry="1.6" fill="none" stroke="#aaa" stroke-width="0.55"/>
<ellipse cx="276.10" cy="193.62" rx="1.85" ry="1.6" fill="none" stroke="#aaa" stroke-width="0.55"/>
<ellipse cx="280.55" cy="193.62" rx="1.85" ry="1.6" fill="none" stroke="#aaa" stroke-width="0.55"/>
<ellipse cx="249.40" cy="197.38" rx="1.85" ry="1.6" fill="none" stroke="#aaa" stroke-width="0.55"/>
<ellipse cx="253.85" cy="197.38" rx="1.85" ry="1.6" fill="none" stroke="#aaa" stroke-width="0.55"/>
<ellipse cx="258.30" cy="197.38" rx="1.85" ry="1.6" fill="none" stroke="#aaa" stroke-width="0.55"/>
<ellipse cx="262.75" cy="197.38" rx="1.85" ry="1.6" fill="none" stroke="#aaa" stroke-width="0.55"/>
<ellipse cx="267.20" cy="197.38" rx="1.85" ry="1.6" fill="none" stroke="#aaa" stroke-width="0.55"/>
<ellipse cx="271.65" cy="197.38" rx="1.85" ry="1.6" fill="none" stroke="#aaa" stroke-width="0.55"/>
<ellipse cx="276.10" cy="197.38" rx="1.85" ry="1.6" fill="none" stroke="#aaa" stroke-width="0.55"/>
<ellipse cx="280.55" cy="197.38" rx="1.85" ry="1.6" fill="none" stroke="#aaa" stroke-width="0.55"/>
<ellipse cx="249.40" cy="201.14" rx="1.85" ry="1.6" fill="none" stroke="#aaa" stroke-width="0.55"/>
<ellipse cx="253.85" cy="201.14" rx="1.85" ry="1.6" fill="none" stroke="#aaa" stroke-width="0.55"/>
<ellipse cx="258.30" cy="201.14" rx="1.85" ry="1.6" fill="none" stroke="#aaa" stroke-width="0.55"/>
<ellipse cx="262.75" cy="201.14" rx="1.85" ry="1.6" fill="none" stroke="#aaa" stroke-width="0.55"/>
<ellipse cx="267.20" cy="201.14" rx="1.85" ry="1.6" fill="none" stroke="#aaa" stroke-width="0.55"/>
<ellipse cx="271.65" cy="201.14" rx="1.85" ry="1.6" fill="none" stroke="#aaa" stroke-width="0.55"/>
<ellipse cx="276.10" cy="201.14" rx="1.85" ry="1.6" fill="none" stroke="#aaa" stroke-width="0.55"/>
<ellipse cx="280.55" cy="201.14" rx="1.85" ry="1.6" fill="none" stroke="#aaa" stroke-width="0.55"/>
<ellipse cx="249.40" cy="204.90" rx="1.85" ry="1.6" fill="none" stroke="#aaa" stroke-width="0.55"/>
<ellipse cx="253.85" cy="204.90" rx="1.85" ry="1.6" fill="none" stroke="#aaa" stroke-width="0.55"/>
<ellipse cx="258.30" cy="204.90" rx="1.85" ry="1.6" fill="none" stroke="#aaa" stroke-width="0.55"/>
<ellipse cx="262.75" cy="204.90" rx="1.85" ry="1.6" fill="none" stroke="#aaa" stroke-width="0.55"/>
<ellipse cx="267.20" cy="204.90" rx="1.85" ry="1.6" fill="none" stroke="#aaa" stroke-width="0.55"/>
<ellipse cx="271.65" cy="204.90" rx="1.85" ry="1.6" fill="none" stroke="#aaa" stroke-width="0.55"/>
<ellipse cx="276.10" cy="204.90" rx="1.85" ry="1.6" fill="none" stroke="#aaa" stroke-width="0.55"/>
<ellipse cx="280.55" cy="204.90" rx="1.85" ry="1.6" fill="none" stroke="#aaa" stroke-width="0.55"/>
<ellipse cx="249.40" cy="208.66" rx="1.85" ry="1.6" fill="none" stroke="#aaa" stroke-width="0.55"/>
<ellipse cx="253.85" cy="208.66" rx="1.85" ry="1.6" fill="none" stroke="#aaa" stroke-width="0.55"/>
<ellipse cx="258.30" cy="208.66" rx="1.85" ry="1.6" fill="none" stroke="#aaa" stroke-width="0.55"/>
<ellipse cx="262.75" cy="208.66" rx="1.85" ry="1.6" fill="none" stroke="#aaa" stroke-width="0.55"/>
<ellipse cx="267.20" cy="208.66" rx="1.85" ry="1.6" fill="none" stroke="#aaa" stroke-width="0.55"/>
<ellipse cx="271.65" cy="208.66" rx="1.85" ry="1.6" fill="none" stroke="#aaa" stroke-width="0.55"/>
<ellipse cx="276.10" cy="208.66" rx="1.85" ry="1.6" fill="none" stroke="#aaa" stroke-width="0.55"/>
<ellipse cx="280.55" cy="208.66" rx="1.85" ry="1.6" fill="none" stroke="#aaa" stroke-width="0.55"/>
<ellipse cx="249.40" cy="212.42" rx="1.85" ry="1.6" fill="none" stroke="#aaa" stroke-width="0.55"/>
<ellipse cx="253.85" cy="212.42" rx="1.85" ry="1.6" fill="none" stroke="#aaa" stroke-width="0.55"/>
<ellipse cx="258.30" cy="212.42" rx="1.85" ry="1.6" fill="none" stroke="#aaa" stroke-width="0.55"/>
<ellipse cx="262.75" cy="212.42" rx="1.85" ry="1.6" fill="none" stroke="#aaa" stroke-width="0.55"/>
<ellipse cx="267.20" cy="212.42" rx="1.85" ry="1.6" fill="none" stroke="#aaa" stroke-width="0.55"/>
<ellipse cx="271.65" cy="212.42" rx="1.85" ry="1.6" fill="none" stroke="#aaa" stroke-width="0.55"/>
<ellipse cx="276.10" cy="212.42" rx="1.85" ry="1.6" fill="none" stroke="#aaa" stroke-width="0.55"/>
<ellipse cx="280.55" cy="212.42" rx="1.85" ry="1.6" fill="none" stroke="#aaa" stroke-width="0.55"/>
<ellipse cx="249.40" cy="216.18" rx="1.85" ry="1.6" fill="none" stroke="#aaa" stroke-width="0.55"/>
<ellipse cx="253.85" cy="216.18" rx="1.85" ry="1.6" fill="none" stroke="#aaa" stroke-width="0.55"/>
<ellipse cx="258.30" cy="216.18" rx="1.85" ry="1.6" fill="none" stroke="#aaa" stroke-width="0.55"/>
<ellipse cx="262.75" cy="216.18" rx="1.85" ry="1.6" fill="none" stroke="#aaa" stroke-width="0.55"/>
<ellipse cx="267.20" cy="216.18" rx="1.85" ry="1.6" fill="none" stroke="#aaa" stroke-width="0.55"/>
<ellipse cx="271.65" cy="216.18" rx="1.85" ry="1.6" fill="none" stroke="#aaa" stroke-width="0.55"/>
<ellipse cx="276.10" cy="216.18" rx="1.85" ry="1.6" fill="none" stroke="#aaa" stroke-width="0.55"/>
<ellipse cx="280.55" cy="216.18" rx="1.85" ry="1.6" fill="none" stroke="#aaa" stroke-width="0.55"/>
<ellipse cx="249.40" cy="219.94" rx="1.85" ry="1.6" fill="none" stroke="#aaa" stroke-width="0.55"/>
<ellipse cx="253.85" cy="219.94" rx="1.85" ry="1.6" fill="none" stroke="#aaa" stroke-width="0.55"/>
<ellipse cx="258.30" cy="219.94" rx="1.85" ry="1.6" fill="none" stroke="#aaa" stroke-width="0.55"/>
<ellipse cx="262.75" cy="219.94" rx="1.85" ry="1.6" fill="none" stroke="#aaa" stroke-width="0.55"/>
<ellipse cx="267.20" cy="219.94" rx="1.85" ry="1.6" fill="none" stroke="#aaa" stroke-width="0.55"/>
<ellipse cx="271.65" cy="219.94" rx="1.85" ry="1.6" fill="none" stroke="#aaa" stroke-width="0.55"/>
<ellipse cx="276.10" cy="219.94" rx="1.85" ry="1.6" fill="none" stroke="#aaa" stroke-width="0.55"/>
<ellipse cx="280.55" cy="219.94" rx="1.85" ry="1.6" fill="none" stroke="#aaa" stroke-width="0.55"/>
<ellipse cx="249.40" cy="223.70" rx="1.85" ry="1.6" fill="none" stroke="#aaa" stroke-width="0.55"/>
<ellipse cx="253.85" cy="223.70" rx="1.85" ry="1.6" fill="none" stroke="#aaa" stroke-width="0.55"/>
<ellipse cx="258.30" cy="223.70" rx="1.85" ry="1.6" fill="none" stroke="#aaa" stroke-width="0.55"/>
<ellipse cx="262.75" cy="223.70" rx="1.85" ry="1.6" fill="none" stroke="#aaa" stroke-width="0.55"/>
<ellipse cx="267.20" cy="223.70" rx="1.85" ry="1.6" fill="none" stroke="#aaa" stroke-width="0.55"/>
<ellipse cx="271.65" cy="223.70" rx="1.85" ry="1.6" fill="none" stroke="#aaa" stroke-width="0.55"/>
<ellipse cx="276.10" cy="223.70" rx="1.85" ry="1.6" fill="none" stroke="#aaa" stroke-width="0.55"/>
<ellipse cx="280.55" cy="223.70" rx="1.85" ry="1.6" fill="none" stroke="#aaa" stroke-width="0.55"/>
<ellipse cx="249.40" cy="227.46" rx="1.85" ry="1.6" fill="none" stroke="#aaa" stroke-width="0.55"/>
<ellipse cx="253.85" cy="227.46" rx="1.85" ry="1.6" fill="none" stroke="#aaa" stroke-width="0.55"/>
<ellipse cx="258.30" cy="227.46" rx="1.85" ry="1.6" fill="none" stroke="#aaa" stroke-width="0.55"/>
<ellipse cx="262.75" cy="227.46" rx="1.85" ry="1.6" fill="none" stroke="#aaa" stroke-width="0.55"/>
<ellipse cx="267.20" cy="227.46" rx="1.85" ry="1.6" fill="none" stroke="#aaa" stroke-width="0.55"/>
<ellipse cx="271.65" cy="227.46" rx="1.85" ry="1.6" fill="none" stroke="#aaa" stroke-width="0.55"/>
<ellipse cx="276.10" cy="227.46" rx="1.85" ry="1.6" fill="none" stroke="#aaa" stroke-width="0.55"/>
<ellipse cx="280.55" cy="227.46" rx="1.85" ry="1.6" fill="none" stroke="#aaa" stroke-width="0.55"/>
<text x="264.6" y="10.7" font-size="14.0" text-anchor="start" font-weight="bold" fill="#141414" stroke="#141414" stroke-width="0.35">B</text>
<line x1="300.6" y1="12.4" x2="300.6" y2="122.8" stroke="#b2b2b2" stroke-width="1" />
<line x1="298.9" y1="122.5" x2="300.6" y2="122.5" stroke="#b2b2b2" stroke-width="0.8" />
<text x="297.6" y="125.9" font-size="9.5" text-anchor="end" font-weight="bold" fill="#141414" >0</text>
<line x1="298.9" y1="100.53999999999999" x2="300.6" y2="100.53999999999999" stroke="#b2b2b2" stroke-width="0.8" />
<text x="297.6" y="103.94" font-size="9.5" text-anchor="end" font-weight="bold" fill="#141414" >20</text>
<line x1="298.9" y1="78.58" x2="300.6" y2="78.58" stroke="#b2b2b2" stroke-width="0.8" />
<text x="297.6" y="81.98" font-size="9.5" text-anchor="end" font-weight="bold" fill="#141414" >40</text>
<line x1="298.9" y1="56.61999999999999" x2="300.6" y2="56.61999999999999" stroke="#b2b2b2" stroke-width="0.8" />
<text x="297.6" y="60.01999999999999" font-size="9.5" text-anchor="end" font-weight="bold" fill="#141414" >60</text>
<line x1="298.9" y1="34.66" x2="300.6" y2="34.66" stroke="#b2b2b2" stroke-width="0.8" />
<text x="297.6" y="38.059999999999995" font-size="9.5" text-anchor="end" font-weight="bold" fill="#141414" >80</text>
<line x1="298.9" y1="12.699999999999989" x2="300.6" y2="12.699999999999989" stroke="#b2b2b2" stroke-width="0.8" />
<text x="297.6" y="16.099999999999987" font-size="9.5" text-anchor="end" font-weight="bold" fill="#141414" >100</text>
<line x1="300.6" y1="122.6" x2="455.8" y2="122.6" stroke="#b2b2b2" stroke-width="1" />
<line x1="376.5" y1="122.8" x2="376.5" y2="125" stroke="#b2b2b2" stroke-width="0.8" />
<line x1="452.7" y1="122.8" x2="452.7" y2="125" stroke="#b2b2b2" stroke-width="0.8" />
<line x1="301.5" y1="43.6" x2="397" y2="43.6" stroke="#aaa" stroke-width="0.8" stroke-dasharray="3 2"/>
<rect x="323.9" y="43.44399999999999" width="30" height="79.05600000000001" fill="#fff" stroke="#aaa" stroke-width="0.8" />
<rect x="323.7" y="12.4" width="30.4" height="31.200000000000003" fill="#000" stroke="none" stroke-width="1" />
<rect x="399.7" y="50.032" width="30" height="72.468" fill="#fff" stroke="#aaa" stroke-width="0.8" />
<rect x="399.5" y="12.4" width="30.4" height="37.0" fill="#000" stroke="none" stroke-width="1" />
<line x1="455.8" y1="12.4" x2="455.8" y2="122.8" stroke="#b2b2b2" stroke-width="1" />
<line x1="452.5" y1="12.4" x2="455.8" y2="12.4" stroke="#b2b2b2" stroke-width="0.8" />
<line x1="452.5" y1="49.4" x2="455.8" y2="49.4" stroke="#b2b2b2" stroke-width="0.8" />
<line x1="452.5" y1="122.8" x2="455.8" y2="122.8" stroke="#b2b2b2" stroke-width="0.8" />
<text x="364.4" y="23.1" font-size="9.4" text-anchor="start" font-weight="bold" fill="#141414" >28%</text>
<text x="364.4" y="105.8" font-size="9.4" text-anchor="start" font-weight="bold" fill="#141414" >72%</text>
<text x="435.7" y="23.6" font-size="9.4" text-anchor="start" font-weight="bold" fill="#141414" >34%</text>
<text x="435.7" y="105.8" font-size="9.4" text-anchor="start" font-weight="bold" fill="#141414" >66%</text>
<text x="460.8" y="28.7" font-size="9.5" text-anchor="start" font-weight="bold" fill="#141414" >Quiescence</text>
<text x="460.8" y="87.0" font-size="9.5" text-anchor="start" font-weight="bold" fill="#141414" >Proliferation</text>
<text x="0" y="0" font-size="9.3" text-anchor="middle" font-weight="bold" fill="#141414" transform="translate(270.2,57.5) rotate(-90)">Percentage</text>
<text x="339" y="139.4" font-size="9.3" text-anchor="middle" font-weight="bold" fill="#141414" >Renilla</text>
<text x="415.5" y="139.4" font-size="9.3" text-anchor="middle" font-weight="bold" fill="#141414" >STAT5</text>
<line x1="303.8" y1="145.3" x2="438.8" y2="145.3" stroke="#b2b2b2" stroke-width="1" />
<text x="382.2" y="159.4" font-size="9.3" text-anchor="middle" font-weight="bold" fill="#141414" >RNAi</text>
<text x="2.4" y="307.1" font-size="14.2" text-anchor="start" font-weight="bold" fill="#141414" stroke="#141414" stroke-width="0.35">C</text>
<line x1="38.5" y1="308.5" x2="38.5" y2="483.6" stroke="#b2b2b2" stroke-width="1" />
<line x1="36.8" y1="483.6" x2="38.5" y2="483.6" stroke="#b2b2b2" stroke-width="0.8" />
<text x="27.6" y="487.0" font-size="9.5" text-anchor="end" font-weight="bold" fill="#141414" >0</text>
<line x1="36.8" y1="464.3" x2="38.5" y2="464.3" stroke="#b2b2b2" stroke-width="0.8" />
<text x="27.6" y="467.7" font-size="9.5" text-anchor="end" font-weight="bold" fill="#141414" >5</text>
<line x1="36.8" y1="445.0" x2="38.5" y2="445.0" stroke="#b2b2b2" stroke-width="0.8" />
<text x="27.6" y="448.4" font-size="9.5" text-anchor="end" font-weight="bold" fill="#141414" >10</text>
<line x1="36.8" y1="425.70000000000005" x2="38.5" y2="425.70000000000005" stroke="#b2b2b2" stroke-width="0.8" />
<text x="27.6" y="429.1" font-size="9.5" text-anchor="end" font-weight="bold" fill="#141414" >15</text>
<line x1="36.8" y1="406.40000000000003" x2="38.5" y2="406.40000000000003" stroke="#b2b2b2" stroke-width="0.8" />
<text x="27.6" y="409.8" font-size="9.5" text-anchor="end" font-weight="bold" fill="#141414" >20</text>
<line x1="36.8" y1="387.1" x2="38.5" y2="387.1" stroke="#b2b2b2" stroke-width="0.8" />
<text x="27.6" y="390.5" font-size="9.5" text-anchor="end" font-weight="bold" fill="#141414" >25</text>
<line x1="36.8" y1="367.8" x2="38.5" y2="367.8" stroke="#b2b2b2" stroke-width="0.8" />
<text x="27.6" y="371.2" font-size="9.5" text-anchor="end" font-weight="bold" fill="#141414" >30</text>
<line x1="36.8" y1="348.5" x2="38.5" y2="348.5" stroke="#b2b2b2" stroke-width="0.8" />
<text x="27.6" y="351.9" font-size="9.5" text-anchor="end" font-weight="bold" fill="#141414" >35</text>
<line x1="36.8" y1="329.20000000000005" x2="38.5" y2="329.20000000000005" stroke="#b2b2b2" stroke-width="0.8" />
<text x="27.6" y="332.6" font-size="9.5" text-anchor="end" font-weight="bold" fill="#141414" >40</text>
<line x1="36.8" y1="309.90000000000003" x2="38.5" y2="309.90000000000003" stroke="#b2b2b2" stroke-width="0.8" />
<text x="27.6" y="313.3" font-size="9.5" text-anchor="end" font-weight="bold" fill="#141414" >45</text>
<line x1="38.5" y1="483.6" x2="264.5" y2="483.6" stroke="#b2b2b2" stroke-width="1" />
<line x1="39.4" y1="483.6" x2="39.4" y2="486" stroke="#b2b2b2" stroke-width="0.8" />
<line x1="84.57" y1="483.6" x2="84.57" y2="486" stroke="#b2b2b2" stroke-width="0.8" />
<line x1="129.74" y1="483.6" x2="129.74" y2="486" stroke="#b2b2b2" stroke-width="0.8" />
<line x1="174.91" y1="483.6" x2="174.91" y2="486" stroke="#b2b2b2" stroke-width="0.8" />
<line x1="220.08" y1="483.6" x2="220.08" y2="486" stroke="#b2b2b2" stroke-width="0.8" />
<line x1="265.25" y1="483.6" x2="265.25" y2="486" stroke="#b2b2b2" stroke-width="0.8" />
<text x="62.6" y="495.3" font-size="9.5" text-anchor="middle" font-weight="bold" fill="#141414" >0</text>
<text x="107.1" y="495.3" font-size="9.5" text-anchor="middle" font-weight="bold" fill="#141414" >25</text>
<text x="154" y="495.3" font-size="9.5" text-anchor="middle" font-weight="bold" fill="#141414" >50</text>
<text x="199.2" y="495.3" font-size="9.5" text-anchor="middle" font-weight="bold" fill="#141414" >75</text>
<text x="243.6" y="495.3" font-size="9.5" text-anchor="middle" font-weight="bold" fill="#141414" >100</text>
<text x="170" y="509" font-size="9.4" text-anchor="middle" font-weight="bold" fill="#141414" >Hours</text>
<text x="0" y="0" font-size="9.3" text-anchor="middle" font-weight="bold" fill="#141414" transform="translate(7.0,394) rotate(-90)">Cell number/well</text>
<polyline points="62.00,479.74 107.17,472.79 152.35,458.12 197.53,408.72 242.70,336.15" fill="none" stroke="#a2a2a2" stroke-width="0.6"/><polyline points="62.00,479.74 107.17,473.95 152.35,460.83 197.53,423.77 242.70,360.08" fill="none" stroke="#a2a2a2" stroke-width="0.6"/><polyline points="62.00,479.74 107.17,474.72 152.35,462.37 197.53,426.47 242.70,375.52" fill="none" stroke="#a2a2a2" stroke-width="0.6"/><polyline points="62.00,479.74 107.17,475.11 152.35,464.30 197.53,430.33 242.70,397.91" fill="none" stroke="#a2a2a2" stroke-width="0.6"/><polyline points="62.00,479.74 107.17,475.88 152.35,466.23 197.53,439.60 242.70,404.47" fill="none" stroke="#a2a2a2" stroke-width="0.6"/><polyline points="62.00,479.74 107.17,475.49 152.35,467.39 197.53,443.46 242.70,408.33" fill="none" stroke="#a2a2a2" stroke-width="0.6"/><polyline points="62.00,479.74 107.17,476.27 152.35,468.16 197.53,448.86 242.70,411.80" fill="none" stroke="#a2a2a2" stroke-width="0.6"/><polyline points="62.00,479.74 107.17,476.65 152.35,468.93 197.53,450.79 242.70,415.28" fill="none" stroke="#a2a2a2" stroke-width="0.6"/><polyline points="62.00,479.74 107.17,477.04 152.35,470.09 197.53,453.49 242.70,419.14" fill="none" stroke="#a2a2a2" stroke-width="0.6"/><polyline points="62.00,479.74 107.17,477.42 152.35,471.25 197.53,456.58 242.70,431.10" fill="none" stroke="#a2a2a2" stroke-width="0.6"/><polyline points="62.00,479.74 107.17,477.81 152.35,472.02 197.53,458.51 242.70,433.81" fill="none" stroke="#a2a2a2" stroke-width="0.6"/><polyline points="62.00,479.74 107.17,477.81 152.35,472.79 197.53,460.44 242.70,437.67" fill="none" stroke="#a2a2a2" stroke-width="0.6"/><polyline points="62.00,479.74 107.17,478.20 152.35,473.95 197.53,463.53 242.70,445.77" fill="none" stroke="#a2a2a2" stroke-width="0.6"/><polyline points="62.00,479.74 107.17,478.58 152.35,475.11 197.53,466.62 242.70,453.11" fill="none" stroke="#a2a2a2" stroke-width="0.6"/><polyline points="62.00,479.74 107.17,478.97 152.35,476.27 197.53,469.70 242.70,459.67" fill="none" stroke="#a2a2a2" stroke-width="0.6"/><polyline points="62.00,479.74 107.17,470.86 152.35,453.49 197.53,383.24 242.70,321.87" fill="none" stroke="#a2a2a2" stroke-width="0.6"/><polyline points="62.00,479.74 107.17,475.88 152.35,467.39 197.53,456.19 242.70,426.09" fill="none" stroke="#a2a2a2" stroke-width="0.6"/><polyline points="62.00,479.74 107.17,476.65 152.35,468.93 197.53,458.90 242.70,451.56" fill="none" stroke="#a2a2a2" stroke-width="0.6"/><polyline points="62.00,479.74 107.17,477.42 152.35,470.48 197.53,461.21 242.70,454.65" fill="none" stroke="#a2a2a2" stroke-width="0.6"/><polyline points="62.00,479.74 107.17,477.81 152.35,472.02 197.53,463.53 242.70,457.74" fill="none" stroke="#a2a2a2" stroke-width="0.6"/><polyline points="62.00,479.74 107.17,478.58 152.35,473.18 197.53,465.84 242.70,460.44" fill="none" stroke="#a2a2a2" stroke-width="0.6"/><polyline points="62.00,479.74 107.17,478.97 152.35,474.34 197.53,468.16 242.70,463.53" fill="none" stroke="#a2a2a2" stroke-width="0.6"/><polyline points="62.00,479.74 107.17,478.97 152.35,475.49 197.53,470.48 242.70,466.23" fill="none" stroke="#a2a2a2" stroke-width="0.6"/><polyline points="62.00,479.74 107.17,479.35 152.35,476.27 197.53,472.41 242.70,468.93" fill="none" stroke="#a2a2a2" stroke-width="0.6"/><polyline points="62.00,479.74 107.17,479.74 152.35,477.42 197.53,474.34 242.70,472.02" fill="none" stroke="#a2a2a2" stroke-width="0.6"/><polyline points="62.00,479.74 107.17,479.74 152.35,478.20 197.53,475.88 242.70,474.72" fill="none" stroke="#a2a2a2" stroke-width="0.6"/><polyline points="62.00,479.74 107.17,479.74 152.35,478.97 197.53,477.81 242.70,477.81" fill="none" stroke="#a2a2a2" stroke-width="0.6"/><polyline points="62.00,479.74 107.17,480.13 152.35,479.74 197.53,479.35 242.70,480.90" fill="none" stroke="#a2a2a2" stroke-width="0.6"/><polyline points="62.00,479.74 107.17,479.74 152.35,480.51 197.53,480.13 242.70,479.35" fill="none" stroke="#a2a2a2" stroke-width="0.6"/><polyline points="62.00,479.74 107.17,479.35 152.35,478.58 197.53,476.65 242.70,473.18" fill="none" stroke="#a2a2a2" stroke-width="0.6"/><polyline points="62.00,479.74 107.17,478.58 152.35,475.88 197.53,472.02 242.70,467.77" fill="none" stroke="#a2a2a2" stroke-width="0.6"/><polyline points="62.00,479.74 107.17,474.34 152.35,465.07 197.53,457.35 242.70,461.98" fill="none" stroke="#a2a2a2" stroke-width="0.6"/><polyline points="62.00,479.74 107.17,478.20 152.35,473.56 197.53,467.00 242.70,470.48" fill="none" stroke="#a2a2a2" stroke-width="0.6"/>
<polygon points="105.08,474.72 109.27,474.72 107.17,470.12" fill="#fff" stroke="#a0a0a0" stroke-width="0.6" stroke-linejoin="miter"/>
<polygon points="150.25,460.06 154.45,460.06 152.35,455.46" fill="#fff" stroke="#a0a0a0" stroke-width="0.6" stroke-linejoin="miter"/>
<polygon points="195.43,410.65 199.62,410.65 197.53,406.05" fill="#fff" stroke="#a0a0a0" stroke-width="0.6" stroke-linejoin="miter"/>
<polygon points="240.60,338.08 244.80,338.08 242.70,333.48" fill="#fff" stroke="#a0a0a0" stroke-width="0.6" stroke-linejoin="miter"/>
<polygon points="105.08,475.88 109.27,475.88 107.17,471.28" fill="#fff" stroke="#a0a0a0" stroke-width="0.6" stroke-linejoin="miter"/>
<polygon points="150.25,462.76 154.45,462.76 152.35,458.16" fill="#fff" stroke="#a0a0a0" stroke-width="0.6" stroke-linejoin="miter"/>
<polygon points="195.43,425.70 199.62,425.70 197.53,421.10" fill="#fff" stroke="#a0a0a0" stroke-width="0.6" stroke-linejoin="miter"/>
<polygon points="240.60,362.01 244.80,362.01 242.70,357.41" fill="#fff" stroke="#a0a0a0" stroke-width="0.6" stroke-linejoin="miter"/>
<polygon points="105.08,476.65 109.27,476.65 107.17,472.05" fill="#fff" stroke="#a0a0a0" stroke-width="0.6" stroke-linejoin="miter"/>
<polygon points="150.25,464.30 154.45,464.30 152.35,459.70" fill="#fff" stroke="#a0a0a0" stroke-width="0.6" stroke-linejoin="miter"/>
<polygon points="195.43,428.40 199.62,428.40 197.53,423.80" fill="#fff" stroke="#a0a0a0" stroke-width="0.6" stroke-linejoin="miter"/>
<polygon points="240.60,377.45 244.80,377.45 242.70,372.85" fill="#fff" stroke="#a0a0a0" stroke-width="0.6" stroke-linejoin="miter"/>
<polygon points="105.08,477.04 109.27,477.04 107.17,472.44" fill="#fff" stroke="#a0a0a0" stroke-width="0.6" stroke-linejoin="miter"/>
<polygon points="150.25,466.23 154.45,466.23 152.35,461.63" fill="#fff" stroke="#a0a0a0" stroke-width="0.6" stroke-linejoin="miter"/>
<polygon points="195.43,432.26 199.62,432.26 197.53,427.66" fill="#fff" stroke="#a0a0a0" stroke-width="0.6" stroke-linejoin="miter"/>
<polygon points="240.60,399.84 244.80,399.84 242.70,395.24" fill="#fff" stroke="#a0a0a0" stroke-width="0.6" stroke-linejoin="miter"/>
<polygon points="105.08,477.81 109.27,477.81 107.17,473.21" fill="#fff" stroke="#a0a0a0" stroke-width="0.6" stroke-linejoin="miter"/>
<polygon points="150.25,468.16 154.45,468.16 152.35,463.56" fill="#fff" stroke="#a0a0a0" stroke-width="0.6" stroke-linejoin="miter"/>
<polygon points="195.43,441.53 199.62,441.53 197.53,436.93" fill="#fff" stroke="#a0a0a0" stroke-width="0.6" stroke-linejoin="miter"/>
<polygon points="240.60,406.40 244.80,406.40 242.70,401.80" fill="#fff" stroke="#a0a0a0" stroke-width="0.6" stroke-linejoin="miter"/>
<polygon points="105.08,477.43 109.27,477.43 107.17,472.83" fill="#fff" stroke="#a0a0a0" stroke-width="0.6" stroke-linejoin="miter"/>
<polygon points="150.25,469.32 154.45,469.32 152.35,464.72" fill="#fff" stroke="#a0a0a0" stroke-width="0.6" stroke-linejoin="miter"/>
<polygon points="195.43,445.39 199.62,445.39 197.53,440.79" fill="#fff" stroke="#a0a0a0" stroke-width="0.6" stroke-linejoin="miter"/>
<polygon points="240.60,410.26 244.80,410.26 242.70,405.66" fill="#fff" stroke="#a0a0a0" stroke-width="0.6" stroke-linejoin="miter"/>
<polygon points="105.08,478.20 109.27,478.20 107.17,473.60" fill="#fff" stroke="#a0a0a0" stroke-width="0.6" stroke-linejoin="miter"/>
<polygon points="150.25,470.09 154.45,470.09 152.35,465.49" fill="#fff" stroke="#a0a0a0" stroke-width="0.6" stroke-linejoin="miter"/>
<polygon points="195.43,450.79 199.62,450.79 197.53,446.19" fill="#fff" stroke="#a0a0a0" stroke-width="0.6" stroke-linejoin="miter"/>
<polygon points="240.60,413.74 244.80,413.74 242.70,409.14" fill="#fff" stroke="#a0a0a0" stroke-width="0.6" stroke-linejoin="miter"/>
<polygon points="105.08,478.58 109.27,478.58 107.17,473.98" fill="#fff" stroke="#a0a0a0" stroke-width="0.6" stroke-linejoin="miter"/>
<polygon points="150.25,470.86 154.45,470.86 152.35,466.26" fill="#fff" stroke="#a0a0a0" stroke-width="0.6" stroke-linejoin="miter"/>
<polygon points="195.43,452.72 199.62,452.72 197.53,448.12" fill="#fff" stroke="#a0a0a0" stroke-width="0.6" stroke-linejoin="miter"/>
<polygon points="240.60,417.21 244.80,417.21 242.70,412.61" fill="#fff" stroke="#a0a0a0" stroke-width="0.6" stroke-linejoin="miter"/>
<polygon points="105.08,478.97 109.27,478.97 107.17,474.37" fill="#fff" stroke="#a0a0a0" stroke-width="0.6" stroke-linejoin="miter"/>
<polygon points="150.25,472.02 154.45,472.02 152.35,467.42" fill="#fff" stroke="#a0a0a0" stroke-width="0.6" stroke-linejoin="miter"/>
<polygon points="195.43,455.42 199.62,455.42 197.53,450.82" fill="#fff" stroke="#a0a0a0" stroke-width="0.6" stroke-linejoin="miter"/>
<polygon points="240.60,421.07 244.80,421.07 242.70,416.47" fill="#fff" stroke="#a0a0a0" stroke-width="0.6" stroke-linejoin="miter"/>
<polygon points="105.08,479.36 109.27,479.36 107.17,474.76" fill="#fff" stroke="#a0a0a0" stroke-width="0.6" stroke-linejoin="miter"/>
<polygon points="150.25,473.18 154.45,473.18 152.35,468.58" fill="#fff" stroke="#a0a0a0" stroke-width="0.6" stroke-linejoin="miter"/>
<polygon points="195.43,458.51 199.62,458.51 197.53,453.91" fill="#fff" stroke="#a0a0a0" stroke-width="0.6" stroke-linejoin="miter"/>
<polygon points="240.60,433.04 244.80,433.04 242.70,428.44" fill="#fff" stroke="#a0a0a0" stroke-width="0.6" stroke-linejoin="miter"/>
<polygon points="105.08,479.74 109.27,479.74 107.17,475.14" fill="#fff" stroke="#a0a0a0" stroke-width="0.6" stroke-linejoin="miter"/>
<polygon points="150.25,473.95 154.45,473.95 152.35,469.35" fill="#fff" stroke="#a0a0a0" stroke-width="0.6" stroke-linejoin="miter"/>
<polygon points="195.43,460.44 199.62,460.44 197.53,455.84" fill="#fff" stroke="#a0a0a0" stroke-width="0.6" stroke-linejoin="miter"/>
<polygon points="240.60,435.74 244.80,435.74 242.70,431.14" fill="#fff" stroke="#a0a0a0" stroke-width="0.6" stroke-linejoin="miter"/>
<polygon points="105.08,479.74 109.27,479.74 107.17,475.14" fill="#fff" stroke="#a0a0a0" stroke-width="0.6" stroke-linejoin="miter"/>
<polygon points="150.25,474.72 154.45,474.72 152.35,470.12" fill="#fff" stroke="#a0a0a0" stroke-width="0.6" stroke-linejoin="miter"/>
<polygon points="195.43,462.37 199.62,462.37 197.53,457.77" fill="#fff" stroke="#a0a0a0" stroke-width="0.6" stroke-linejoin="miter"/>
<polygon points="240.60,439.60 244.80,439.60 242.70,435.00" fill="#fff" stroke="#a0a0a0" stroke-width="0.6" stroke-linejoin="miter"/>
<polygon points="105.08,480.13 109.27,480.13 107.17,475.53" fill="#fff" stroke="#a0a0a0" stroke-width="0.6" stroke-linejoin="miter"/>
<polygon points="150.25,475.88 154.45,475.88 152.35,471.28" fill="#fff" stroke="#a0a0a0" stroke-width="0.6" stroke-linejoin="miter"/>
<polygon points="195.43,465.46 199.62,465.46 197.53,460.86" fill="#fff" stroke="#a0a0a0" stroke-width="0.6" stroke-linejoin="miter"/>
<polygon points="240.60,447.70 244.80,447.70 242.70,443.10" fill="#fff" stroke="#a0a0a0" stroke-width="0.6" stroke-linejoin="miter"/>
<polygon points="105.08,480.51 109.27,480.51 107.17,475.91" fill="#fff" stroke="#a0a0a0" stroke-width="0.6" stroke-linejoin="miter"/>
<polygon points="150.25,477.04 154.45,477.04 152.35,472.44" fill="#fff" stroke="#a0a0a0" stroke-width="0.6" stroke-linejoin="miter"/>
<polygon points="195.43,468.55 199.62,468.55 197.53,463.95" fill="#fff" stroke="#a0a0a0" stroke-width="0.6" stroke-linejoin="miter"/>
<polygon points="240.60,455.04 244.80,455.04 242.70,450.44" fill="#fff" stroke="#a0a0a0" stroke-width="0.6" stroke-linejoin="miter"/>
<polygon points="105.08,480.90 109.27,480.90 107.17,476.30" fill="#fff" stroke="#a0a0a0" stroke-width="0.6" stroke-linejoin="miter"/>
<polygon points="150.25,478.20 154.45,478.20 152.35,473.60" fill="#fff" stroke="#a0a0a0" stroke-width="0.6" stroke-linejoin="miter"/>
<polygon points="195.43,471.64 199.62,471.64 197.53,467.04" fill="#fff" stroke="#a0a0a0" stroke-width="0.6" stroke-linejoin="miter"/>
<polygon points="240.60,461.60 244.80,461.60 242.70,457.00" fill="#fff" stroke="#a0a0a0" stroke-width="0.6" stroke-linejoin="miter"/>
<polygon points="105.08,472.79 109.27,472.79 107.17,468.19" fill="#000" stroke="none" stroke-width="1" stroke-linejoin="miter"/>
<polygon points="150.25,455.42 154.45,455.42 152.35,450.82" fill="#000" stroke="none" stroke-width="1" stroke-linejoin="miter"/>
<polygon points="195.43,385.17 199.62,385.17 197.53,380.57" fill="#000" stroke="none" stroke-width="1" stroke-linejoin="miter"/>
<polygon points="240.60,323.80 244.80,323.80 242.70,319.20" fill="#000" stroke="none" stroke-width="1" stroke-linejoin="miter"/>
<polygon points="105.08,477.81 109.27,477.81 107.17,473.21" fill="#000" stroke="none" stroke-width="1" stroke-linejoin="miter"/>
<polygon points="150.25,469.32 154.45,469.32 152.35,464.72" fill="#000" stroke="none" stroke-width="1" stroke-linejoin="miter"/>
<polygon points="195.43,458.13 199.62,458.13 197.53,453.53" fill="#000" stroke="none" stroke-width="1" stroke-linejoin="miter"/>
<polygon points="240.60,428.02 244.80,428.02 242.70,423.42" fill="#000" stroke="none" stroke-width="1" stroke-linejoin="miter"/>
<polygon points="105.08,478.58 109.27,478.58 107.17,473.98" fill="#000" stroke="none" stroke-width="1" stroke-linejoin="miter"/>
<polygon points="150.25,470.86 154.45,470.86 152.35,466.26" fill="#000" stroke="none" stroke-width="1" stroke-linejoin="miter"/>
<polygon points="195.43,460.83 199.62,460.83 197.53,456.23" fill="#000" stroke="none" stroke-width="1" stroke-linejoin="miter"/>
<polygon points="240.60,453.49 244.80,453.49 242.70,448.89" fill="#000" stroke="none" stroke-width="1" stroke-linejoin="miter"/>
<polygon points="105.08,479.36 109.27,479.36 107.17,474.76" fill="#000" stroke="none" stroke-width="1" stroke-linejoin="miter"/>
<polygon points="150.25,472.41 154.45,472.41 152.35,467.81" fill="#000" stroke="none" stroke-width="1" stroke-linejoin="miter"/>
<polygon points="195.43,463.14 199.62,463.14 197.53,458.54" fill="#000" stroke="none" stroke-width="1" stroke-linejoin="miter"/>
<polygon points="240.60,456.58 244.80,456.58 242.70,451.98" fill="#000" stroke="none" stroke-width="1" stroke-linejoin="miter"/>
<polygon points="105.08,479.74 109.27,479.74 107.17,475.14" fill="#000" stroke="none" stroke-width="1" stroke-linejoin="miter"/>
<polygon points="150.25,473.95 154.45,473.95 152.35,469.35" fill="#000" stroke="none" stroke-width="1" stroke-linejoin="miter"/>
<polygon points="195.43,465.46 199.62,465.46 197.53,460.86" fill="#000" stroke="none" stroke-width="1" stroke-linejoin="miter"/>
<polygon points="240.60,459.67 244.80,459.67 242.70,455.07" fill="#000" stroke="none" stroke-width="1" stroke-linejoin="miter"/>
<polygon points="105.08,480.51 109.27,480.51 107.17,475.91" fill="#000" stroke="none" stroke-width="1" stroke-linejoin="miter"/>
<polygon points="150.25,475.11 154.45,475.11 152.35,470.51" fill="#000" stroke="none" stroke-width="1" stroke-linejoin="miter"/>
<polygon points="195.43,467.78 199.62,467.78 197.53,463.18" fill="#000" stroke="none" stroke-width="1" stroke-linejoin="miter"/>
<polygon points="240.60,462.37 244.80,462.37 242.70,457.77" fill="#000" stroke="none" stroke-width="1" stroke-linejoin="miter"/>
<polygon points="105.08,480.90 109.27,480.90 107.17,476.30" fill="#000" stroke="none" stroke-width="1" stroke-linejoin="miter"/>
<polygon points="150.25,476.27 154.45,476.27 152.35,471.67" fill="#000" stroke="none" stroke-width="1" stroke-linejoin="miter"/>
<polygon points="195.43,470.09 199.62,470.09 197.53,465.49" fill="#000" stroke="none" stroke-width="1" stroke-linejoin="miter"/>
<polygon points="240.60,465.46 244.80,465.46 242.70,460.86" fill="#000" stroke="none" stroke-width="1" stroke-linejoin="miter"/>
<polygon points="105.08,480.90 109.27,480.90 107.17,476.30" fill="#000" stroke="none" stroke-width="1" stroke-linejoin="miter"/>
<polygon points="150.25,477.43 154.45,477.43 152.35,472.83" fill="#000" stroke="none" stroke-width="1" stroke-linejoin="miter"/>
<polygon points="195.43,472.41 199.62,472.41 197.53,467.81" fill="#000" stroke="none" stroke-width="1" stroke-linejoin="miter"/>
<polygon points="240.60,468.16 244.80,468.16 242.70,463.56" fill="#000" stroke="none" stroke-width="1" stroke-linejoin="miter"/>
<polygon points="105.08,481.29 109.27,481.29 107.17,476.69" fill="#000" stroke="none" stroke-width="1" stroke-linejoin="miter"/>
<polygon points="150.25,478.20 154.45,478.20 152.35,473.60" fill="#000" stroke="none" stroke-width="1" stroke-linejoin="miter"/>
<polygon points="195.43,474.34 199.62,474.34 197.53,469.74" fill="#000" stroke="none" stroke-width="1" stroke-linejoin="miter"/>
<polygon points="240.60,470.86 244.80,470.86 242.70,466.26" fill="#000" stroke="none" stroke-width="1" stroke-linejoin="miter"/>
<polygon points="105.08,481.67 109.27,481.67 107.17,477.07" fill="#000" stroke="none" stroke-width="1" stroke-linejoin="miter"/>
<polygon points="150.25,479.36 154.45,479.36 152.35,474.76" fill="#000" stroke="none" stroke-width="1" stroke-linejoin="miter"/>
<polygon points="195.43,476.27 199.62,476.27 197.53,471.67" fill="#000" stroke="none" stroke-width="1" stroke-linejoin="miter"/>
<polygon points="240.60,473.95 244.80,473.95 242.70,469.35" fill="#000" stroke="none" stroke-width="1" stroke-linejoin="miter"/>
<polygon points="105.08,481.67 109.27,481.67 107.17,477.07" fill="#000" stroke="none" stroke-width="1" stroke-linejoin="miter"/>
<polygon points="150.25,480.13 154.45,480.13 152.35,475.53" fill="#000" stroke="none" stroke-width="1" stroke-linejoin="miter"/>
<polygon points="195.43,477.81 199.62,477.81 197.53,473.21" fill="#000" stroke="none" stroke-width="1" stroke-linejoin="miter"/>
<polygon points="240.60,476.65 244.80,476.65 242.70,472.05" fill="#000" stroke="none" stroke-width="1" stroke-linejoin="miter"/>
<polygon points="105.08,481.67 109.27,481.67 107.17,477.07" fill="#000" stroke="none" stroke-width="1" stroke-linejoin="miter"/>
<polygon points="150.25,480.90 154.45,480.90 152.35,476.30" fill="#000" stroke="none" stroke-width="1" stroke-linejoin="miter"/>
<polygon points="195.43,479.74 199.62,479.74 197.53,475.14" fill="#000" stroke="none" stroke-width="1" stroke-linejoin="miter"/>
<polygon points="240.60,479.74 244.80,479.74 242.70,475.14" fill="#000" stroke="none" stroke-width="1" stroke-linejoin="miter"/>
<polygon points="105.08,482.06 109.27,482.06 107.17,477.46" fill="#000" stroke="none" stroke-width="1" stroke-linejoin="miter"/>
<polygon points="150.25,481.67 154.45,481.67 152.35,477.07" fill="#000" stroke="none" stroke-width="1" stroke-linejoin="miter"/>
<polygon points="195.43,481.29 199.62,481.29 197.53,476.69" fill="#000" stroke="none" stroke-width="1" stroke-linejoin="miter"/>
<polygon points="240.60,482.83 244.80,482.83 242.70,478.23" fill="#000" stroke="none" stroke-width="1" stroke-linejoin="miter"/>
<polygon points="105.08,481.67 109.27,481.67 107.17,477.07" fill="#000" stroke="none" stroke-width="1" stroke-linejoin="miter"/>
<polygon points="150.25,482.44 154.45,482.44 152.35,477.84" fill="#000" stroke="none" stroke-width="1" stroke-linejoin="miter"/>
<polygon points="195.43,482.06 199.62,482.06 197.53,477.46" fill="#000" stroke="none" stroke-width="1" stroke-linejoin="miter"/>
<polygon points="240.60,481.29 244.80,481.29 242.70,476.69" fill="#000" stroke="none" stroke-width="1" stroke-linejoin="miter"/>
<polygon points="105.08,481.29 109.27,481.29 107.17,476.69" fill="#000" stroke="none" stroke-width="1" stroke-linejoin="miter"/>
<polygon points="150.25,480.51 154.45,480.51 152.35,475.91" fill="#000" stroke="none" stroke-width="1" stroke-linejoin="miter"/>
<polygon points="195.43,478.58 199.62,478.58 197.53,473.98" fill="#000" stroke="none" stroke-width="1" stroke-linejoin="miter"/>
<polygon points="240.60,475.11 244.80,475.11 242.70,470.51" fill="#000" stroke="none" stroke-width="1" stroke-linejoin="miter"/>
<polygon points="105.08,480.51 109.27,480.51 107.17,475.91" fill="#000" stroke="none" stroke-width="1" stroke-linejoin="miter"/>
<polygon points="150.25,477.81 154.45,477.81 152.35,473.21" fill="#000" stroke="none" stroke-width="1" stroke-linejoin="miter"/>
<polygon points="195.43,473.95 199.62,473.95 197.53,469.35" fill="#000" stroke="none" stroke-width="1" stroke-linejoin="miter"/>
<polygon points="240.60,469.71 244.80,469.71 242.70,465.11" fill="#000" stroke="none" stroke-width="1" stroke-linejoin="miter"/>
<polygon points="105.08,476.27 109.27,476.27 107.17,471.67" fill="#000" stroke="none" stroke-width="1" stroke-linejoin="miter"/>
<polygon points="150.25,467.00 154.45,467.00 152.35,462.40" fill="#000" stroke="none" stroke-width="1" stroke-linejoin="miter"/>
<polygon points="195.43,459.28 199.62,459.28 197.53,454.68" fill="#000" stroke="none" stroke-width="1" stroke-linejoin="miter"/>
<polygon points="240.60,463.92 244.80,463.92 242.70,459.32" fill="#000" stroke="none" stroke-width="1" stroke-linejoin="miter"/>
<polygon points="105.08,480.13 109.27,480.13 107.17,475.53" fill="#000" stroke="none" stroke-width="1" stroke-linejoin="miter"/>
<polygon points="150.25,475.50 154.45,475.50 152.35,470.90" fill="#000" stroke="none" stroke-width="1" stroke-linejoin="miter"/>
<polygon points="195.43,468.93 199.62,468.93 197.53,464.33" fill="#000" stroke="none" stroke-width="1" stroke-linejoin="miter"/>
<polygon points="240.60,472.41 244.80,472.41 242.70,467.81" fill="#000" stroke="none" stroke-width="1" stroke-linejoin="miter"/>
<polygon points="59.90,481.67 64.10,481.67 62.00,477.07" fill="#000" stroke="none" stroke-width="1" stroke-linejoin="miter"/>
<line x1="55.1" y1="330.2" x2="72.9" y2="330.2" stroke="#777" stroke-width="0.9" stroke-dasharray="3.5 2"/>
<polygon points="59.00,334.96 69.00,334.96 64.00,326.96" fill="#fff" stroke="#a0a0a0" stroke-width="0.6" stroke-linejoin="miter"/>
<text x="84.6" y="333.4" font-size="9.3" text-anchor="start" font-weight="bold" fill="#141414" >Renilla RNAi</text>
<line x1="55.1" y1="346" x2="72.9" y2="346" stroke="#111" stroke-width="1.1" />
<polygon points="59.00,350.08 69.00,350.08 64.00,342.28" fill="#000" stroke="none" stroke-width="1" stroke-linejoin="miter"/>
<text x="84.6" y="349.6" font-size="9.3" text-anchor="start" font-weight="bold" fill="#141414" >STAT5 RNAi</text>
<polyline points="262.00,394.30 265.00,394.30 265.00,447.10 262.00,447.10" fill="none" stroke="#444" stroke-width="0.8" stroke-linejoin="miter"/>
<polyline points="254.20,425.20 256.40,425.20 256.40,482.60 254.20,482.60" fill="none" stroke="#444" stroke-width="0.8" stroke-linejoin="miter"/>
<polyline points="265.00,422.30 277.70,422.30 277.70,453.30 256.40,453.30" fill="none" stroke="#444" stroke-width="0.8" stroke-linejoin="miter"/>
<text x="281.5" y="441.4" font-size="9.6" font-weight="bold" fill="#141414" letter-spacing="0.25"><tspan font-style="italic">P</tspan>&lt; 1*10<tspan font-size="5.6" dx="-0.6" dy="-5.6">-6</tspan></text>
<text x="348.4" y="180.8" font-size="14.0" text-anchor="start" font-weight="bold" fill="#141414" stroke="#141414" stroke-width="0.35">D</text>
<line x1="380.3" y1="188" x2="380.3" y2="297.5" stroke="#b2b2b2" stroke-width="1" />
<line x1="378.6" y1="297.5" x2="380.3" y2="297.5" stroke="#b2b2b2" stroke-width="0.8" />
<text x="377.4" y="300.9" font-size="9.5" text-anchor="end" font-weight="bold" fill="#141414" >0</text>
<line x1="378.6" y1="275.64" x2="380.3" y2="275.64" stroke="#b2b2b2" stroke-width="0.8" />
<text x="377.4" y="279.03999999999996" font-size="9.5" text-anchor="end" font-weight="bold" fill="#141414" >2</text>
<line x1="378.6" y1="253.78" x2="380.3" y2="253.78" stroke="#b2b2b2" stroke-width="0.8" />
<text x="377.4" y="257.18" font-size="9.5" text-anchor="end" font-weight="bold" fill="#141414" >4</text>
<line x1="378.6" y1="231.92000000000002" x2="380.3" y2="231.92000000000002" stroke="#b2b2b2" stroke-width="0.8" />
<text x="377.4" y="235.32000000000002" font-size="9.5" text-anchor="end" font-weight="bold" fill="#141414" >6</text>
<line x1="378.6" y1="210.06" x2="380.3" y2="210.06" stroke="#b2b2b2" stroke-width="0.8" />
<text x="377.4" y="213.46" font-size="9.5" text-anchor="end" font-weight="bold" fill="#141414" >8</text>
<line x1="378.6" y1="188.2" x2="380.3" y2="188.2" stroke="#b2b2b2" stroke-width="0.8" />
<text x="377.4" y="191.6" font-size="9.5" text-anchor="end" font-weight="bold" fill="#141414" >10</text>
<line x1="380.3" y1="297.5" x2="516.7" y2="297.5" stroke="#b2b2b2" stroke-width="1" />
<line x1="448.6" y1="297.5" x2="448.6" y2="299.8" stroke="#b2b2b2" stroke-width="0.8" />
<line x1="516.7" y1="297.5" x2="516.7" y2="299.8" stroke="#b2b2b2" stroke-width="0.8" />
<line x1="414.5" y1="208.8" x2="414.5" y2="220" stroke="#b4b4b4" stroke-width="0.8" />
<line x1="482.3" y1="226.2" x2="482.3" y2="237" stroke="#b4b4b4" stroke-width="0.8" />
<rect x="401.2" y="220" width="26.8" height="77.5" fill="#000" stroke="none" stroke-width="1" />
<rect x="468.8" y="236.9" width="27" height="60.599999999999994" fill="#000" stroke="none" stroke-width="1" />
<polyline points="415.30,191.30 415.30,186.60 482.30,186.60 482.30,202.20" fill="none" stroke="#b8b8b8" stroke-width="0.8" stroke-linejoin="miter"/>
<text x="437" y="180.4" font-size="9.3" font-weight="bold" fill="#141414" letter-spacing="0.2"><tspan font-style="italic">P</tspan>&lt;.05</text>
<text x="415.8" y="316.4" font-size="9.3" text-anchor="middle" font-weight="bold" fill="#141414" >Renilla</text>
<text x="483.3" y="316.4" font-size="9.3" text-anchor="middle" font-weight="bold" fill="#141414" >STAT5</text>
<line x1="384.8" y1="325" x2="518" y2="325" stroke="#b2b2b2" stroke-width="1" />
<text x="450.9" y="336.1" font-size="9.3" text-anchor="middle" font-weight="bold" fill="#141414" >RNAi</text>
<text x="0" y="0" font-size="9.5" text-anchor="middle" font-weight="bold" fill="#141414" transform="translate(355.8,242.3) rotate(-90)">Number of offspring/cell</text>
<text x="339.6" y="357.3" font-size="14.6" text-anchor="start" font-weight="bold" fill="#141414" stroke="#141414" stroke-width="0.35">E</text>
<line x1="370.2" y1="369" x2="370.2" y2="473.1" stroke="#b2b2b2" stroke-width="1" />
<line x1="368.5" y1="473.1" x2="370.2" y2="473.1" stroke="#b2b2b2" stroke-width="0.8" />
<text x="367.4" y="476.5" font-size="9.5" text-anchor="end" font-weight="bold" fill="#141414" >0</text>
<line x1="368.5" y1="438.40500000000003" x2="370.2" y2="438.40500000000003" stroke="#b2b2b2" stroke-width="0.8" />
<text x="367.4" y="441.805" font-size="9.5" text-anchor="end" font-weight="bold" fill="#141414" >15</text>
<line x1="368.5" y1="403.71000000000004" x2="370.2" y2="403.71000000000004" stroke="#b2b2b2" stroke-width="0.8" />
<text x="367.4" y="407.11" font-size="9.5" text-anchor="end" font-weight="bold" fill="#141414" >30</text>
<line x1="368.5" y1="369.015" x2="370.2" y2="369.015" stroke="#b2b2b2" stroke-width="0.8" />
<text x="367.4" y="372.41499999999996" font-size="9.5" text-anchor="end" font-weight="bold" fill="#141414" >45</text>
<line x1="370.2" y1="473.1" x2="512.7" y2="473.1" stroke="#b2b2b2" stroke-width="1" />
<line x1="441.5" y1="473.1" x2="441.5" y2="475.4" stroke="#b2b2b2" stroke-width="0.8" />
<line x1="512.7" y1="473.1" x2="512.7" y2="475.4" stroke="#b2b2b2" stroke-width="0.8" />
<line x1="406" y1="374.1" x2="406" y2="390" stroke="#b4b4b4" stroke-width="0.8" />
<line x1="478" y1="430" x2="478" y2="438" stroke="#b4b4b4" stroke-width="0.8" />
<rect x="392.1" y="389.8" width="29.2" height="83.30000000000001" fill="#000" stroke="none" stroke-width="1" />
<rect x="464.1" y="437.3" width="29.2" height="35.80000000000001" fill="#000" stroke="none" stroke-width="1" />
<polyline points="406.30,368.50 406.30,363.60 479.60,363.60 479.60,381.00" fill="none" stroke="#b8b8b8" stroke-width="0.8" stroke-linejoin="miter"/>
<text x="433" y="354.9" font-size="9.3" font-weight="bold" fill="#141414" letter-spacing="0.05"><tspan font-style="italic">P</tspan>&lt;.01</text>
<text x="410.2" y="487.4" font-size="9.3" text-anchor="middle" font-weight="bold" fill="#141414" >Renilla</text>
<text x="481.9" y="487.4" font-size="9.3" text-anchor="middle" font-weight="bold" fill="#141414" >STAT5</text>
<line x1="396.3" y1="495.1" x2="493.6" y2="495.1" stroke="#b2b2b2" stroke-width="1" />
<text x="448.3" y="508.2" font-size="9.3" text-anchor="middle" font-weight="bold" fill="#141414" >RNAi</text>
<text x="0" y="0" font-size="9.5" text-anchor="middle" font-weight="bold" fill="#141414" transform="translate(348.3,420.8) rotate(-90)">Number of colonies/plate</text>
</svg></body></html>
